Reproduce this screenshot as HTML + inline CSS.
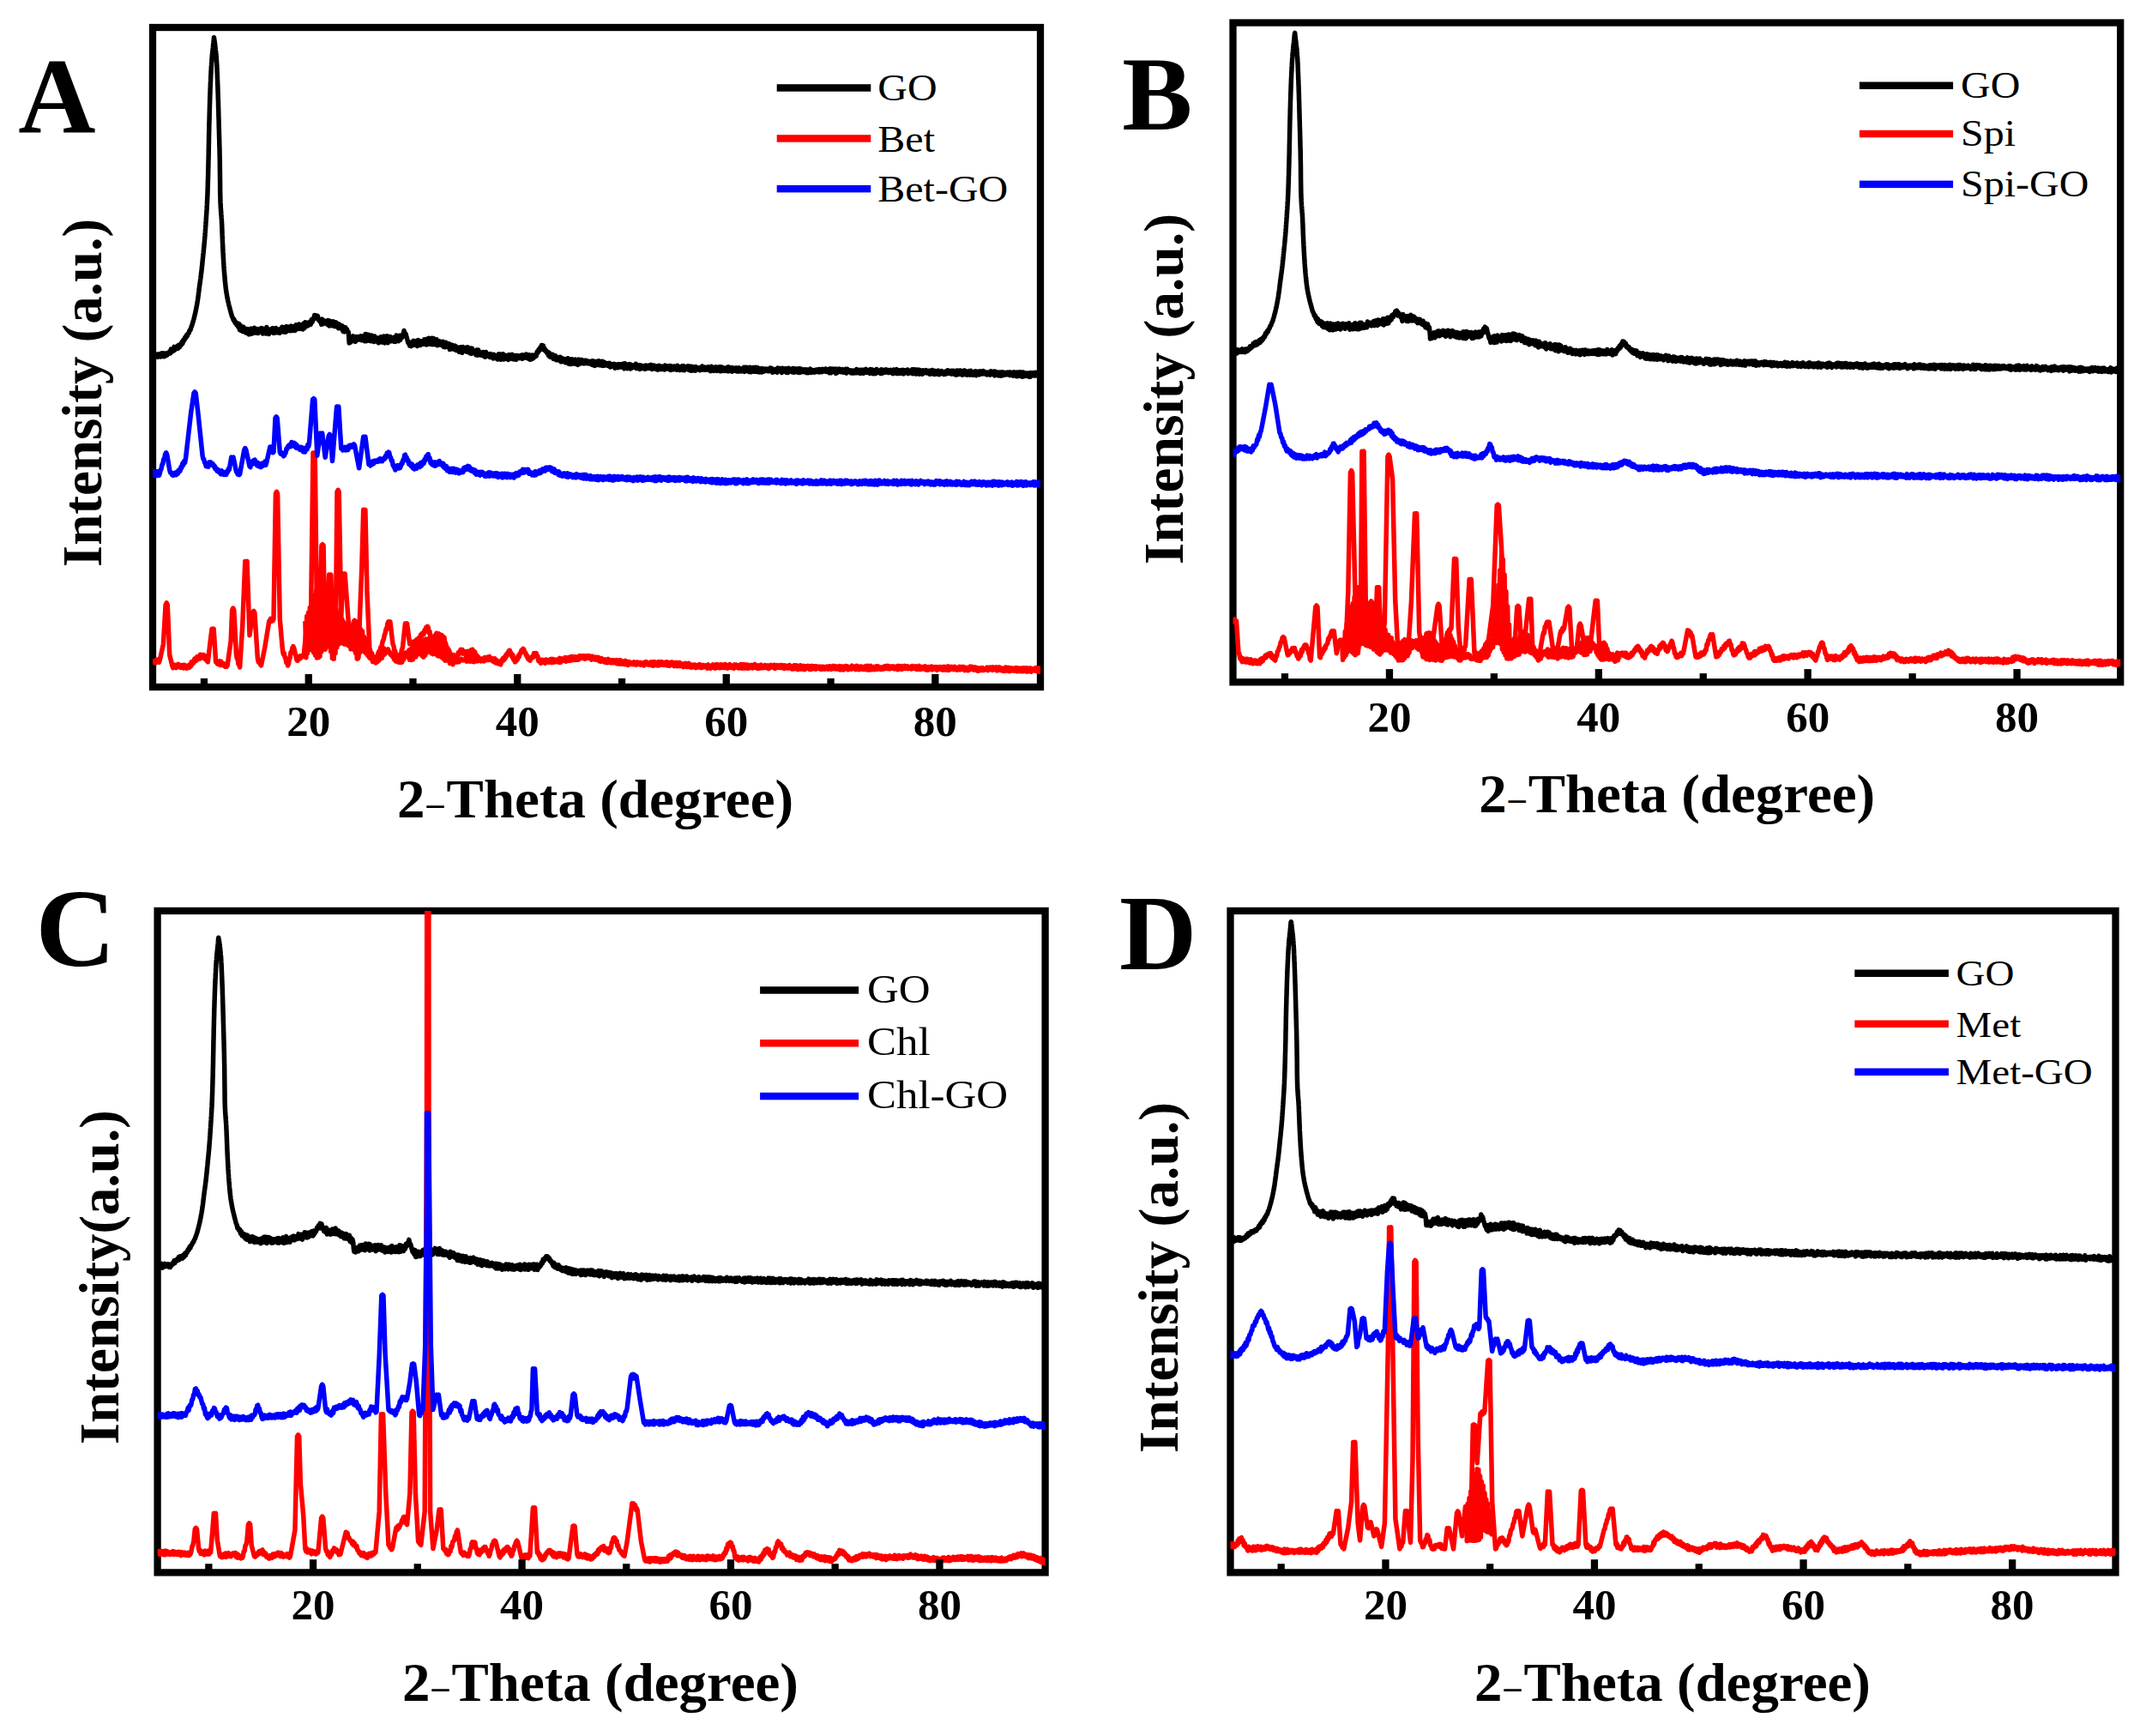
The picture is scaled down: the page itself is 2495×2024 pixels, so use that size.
<!DOCTYPE html>
<html><head><meta charset="utf-8"><title>XRD patterns</title>
<style>html,body{margin:0;padding:0;background:#fff;width:2495px;height:2024px;overflow:hidden}</style>
</head><body>
<svg width="2495" height="2024" viewBox="0 0 2495 2024" style="display:block;font-family:&quot;Liberation Serif&quot;,&quot;Times New Roman&quot;,serif"><clipPath id="clipA"><rect x="178.0" y="32.0" width="1035.0" height="769.0"/></clipPath><rect x="178.0" y="32.0" width="1035.0" height="769.0" fill="none" stroke="#000" stroke-width="8.3"/><g clip-path="url(#clipA)" fill="none" stroke-width="5.5" stroke-linejoin="round" stroke-linecap="butt"><path stroke="#000" d="M176.0 414.1L176.9 415.9L177.8 412.9L178.7 416.3L179.6 413.7L180.5 415.9L181.4 413.0L182.3 415.7L183.2 413.9L184.1 416.2L185.0 412.8L185.9 415.6L186.8 412.8L187.7 415.9L188.6 411.8L189.5 415.2L190.4 411.7L191.3 415.8L192.2 412.7L193.1 414.9L194.0 411.9L194.9 414.0L195.8 411.5L196.7 412.1L197.6 409.9L198.5 411.9L199.4 407.1L200.3 410.0L201.2 407.1L202.1 409.2L203.0 404.4L203.9 408.0L204.8 404.8L205.7 405.9L206.6 403.5L207.5 406.4L208.4 402.2L209.3 404.8L210.2 401.5L211.1 402.5L212.0 398.9L212.9 400.5L213.8 396.4L214.7 397.0L215.6 393.6L216.5 394.2L217.4 390.9L218.3 391.8L219.2 388.8L220.1 388.6L221.0 385.3L221.9 385.1L222.8 381.8L223.7 379.6L224.6 376.7L225.0 375.4L225.3 374.2L225.7 373.0L226.0 371.8L226.3 370.6L226.6 369.4L226.9 368.1L227.2 366.9L227.5 365.7L227.8 364.5L228.0 363.2L228.3 362.0L228.5 360.8L228.8 359.6L229.0 358.4L229.2 357.2L229.5 355.9L229.7 354.7L229.9 353.5L230.1 352.3L230.3 351.1L230.5 349.8L230.7 348.6L230.8 347.4L231.0 346.2L231.2 344.9L231.3 343.7L231.5 342.5L231.6 341.3L231.8 340.1L231.9 338.9L232.1 337.7L232.2 336.5L232.4 335.3L232.5 334.1L232.7 333.0L232.9 331.8L233.0 330.6L233.2 329.4L233.4 328.2L233.5 327.0L233.7 325.8L233.9 324.6L234.0 323.4L234.2 322.2L234.3 320.9L234.5 319.7L234.6 318.5L234.8 317.3L234.9 316.0L235.1 314.7L235.2 313.4L235.4 312.0L235.5 310.5L235.7 309.1L235.8 307.6L236.0 306.1L236.1 304.6L236.3 303.1L236.4 301.6L236.6 300.1L236.7 298.7L236.9 297.2L237.0 295.7L237.2 294.3L237.3 292.8L237.5 291.4L237.6 289.9L237.8 288.4L237.9 286.8L238.1 285.2L238.2 283.6L238.4 281.9L238.5 280.1L238.7 278.3L238.8 276.4L239.0 274.4L239.1 272.4L239.3 270.4L239.4 268.3L239.6 266.2L239.7 264.1L239.9 261.9L240.0 259.6L240.2 257.4L240.3 255.2L240.5 253.0L240.6 250.8L240.8 248.5L240.9 246.1L241.1 243.7L241.2 241.1L241.4 238.4L241.5 235.5L241.7 232.3L241.8 228.9L242.0 225.1L242.1 220.8L242.3 216.2L242.4 211.1L242.6 205.7L242.7 200.1L242.9 194.2L243.0 188.1L243.2 181.0L243.3 173.0L243.5 164.9L243.6 157.1L243.8 150.2L243.9 144.2L244.1 138.3L244.2 132.7L244.4 127.2L244.5 122.0L244.7 117.1L244.8 112.4L245.0 108.0L245.1 103.9L245.3 100.1L245.4 96.6L245.6 93.2L245.7 89.9L245.9 86.8L246.0 83.8L246.2 81.0L246.3 78.4L246.5 75.9L246.6 73.6L246.8 71.4L246.9 69.4L247.1 67.6L247.2 65.8L247.4 64.2L247.5 62.7L247.7 61.2L247.8 59.8L248.0 58.5L248.1 57.1L248.3 55.8L248.4 54.4L248.6 53.0L248.7 51.5L248.9 49.7L249.0 47.9L249.2 46.3L249.3 45.0L249.5 43.7L250.4 50.2L250.6 51.6L250.7 52.9L250.9 54.2L251.0 55.4L251.2 56.6L251.3 57.8L251.5 59.1L251.6 60.4L251.8 61.9L251.9 63.4L252.1 65.0L252.2 66.8L252.4 68.8L252.5 71.1L252.7 73.7L252.8 76.5L253.0 79.6L253.1 82.9L253.3 86.4L253.4 90.1L253.6 93.8L253.7 97.7L253.9 101.6L254.0 105.8L254.2 110.3L254.3 115.0L254.5 119.9L254.6 125.1L254.8 130.4L254.9 135.7L255.1 141.2L255.2 146.7L255.4 152.2L255.5 157.4L255.7 162.6L255.8 168.0L256.0 173.8L256.1 180.4L256.3 187.8L256.4 198.0L256.6 212.4L256.7 225.4L256.9 231.8L257.0 235.9L257.2 239.2L257.3 242.0L257.5 244.3L257.6 246.4L257.8 248.2L257.9 250.0L258.1 251.8L258.2 253.9L258.4 256.2L258.5 259.0L258.7 262.2L258.8 265.8L259.0 269.6L259.1 273.4L259.3 277.3L259.4 281.1L259.6 284.6L259.7 287.8L259.9 290.8L260.0 293.7L260.2 296.5L260.3 299.3L260.5 302.0L260.6 304.6L260.8 307.1L260.9 309.4L261.1 311.7L261.2 313.9L261.4 315.9L261.5 317.8L261.7 319.6L261.8 321.4L262.0 323.2L262.1 324.9L262.3 326.6L262.4 328.2L262.6 329.7L262.7 331.2L262.9 332.6L263.0 334.0L263.2 335.3L263.3 336.5L263.5 337.7L263.6 338.8L263.8 340.0L264.0 341.2L264.2 342.4L264.4 343.5L264.6 344.7L264.8 345.9L265.0 347.0L265.2 348.2L265.5 349.4L265.7 350.6L266.0 351.7L266.3 352.9L266.6 354.1L266.8 355.3L267.1 356.5L267.4 357.7L267.8 358.9L268.1 360.1L268.4 361.3L268.7 362.5L269.0 363.6L269.3 364.8L269.7 366.0L270.0 367.2L270.4 368.9L271.3 370.2L272.2 373.3L273.1 372.7L274.0 376.4L274.9 375.7L275.8 378.7L276.7 376.8L277.6 380.8L278.5 377.4L279.4 384.6L280.3 379.2L281.2 385.5L282.1 381.4L283.0 386.4L283.9 381.2L284.8 386.8L285.7 383.9L286.6 388.0L287.5 383.6L288.4 388.4L289.3 383.6L290.2 389.9L291.1 384.6L292.0 389.5L292.9 383.1L293.8 389.1L294.7 385.3L295.6 387.9L296.5 382.3L297.4 388.1L298.3 385.0L299.2 388.1L300.1 383.6L301.0 388.5L301.9 385.0L302.8 386.5L303.7 383.1L304.6 387.0L305.5 382.6L306.4 389.1L307.3 384.3L308.2 388.1L309.1 383.3L310.0 389.1L310.9 381.5L311.8 387.9L312.7 384.0L313.6 389.5L314.5 384.8L315.4 387.7L316.3 383.6L317.2 387.2L318.1 382.6L319.0 388.4L319.9 384.1L320.8 388.0L321.7 382.5L322.6 387.6L323.5 384.6L324.4 387.9L325.3 384.0L326.2 388.3L327.1 383.8L328.0 386.4L328.9 381.2L329.8 386.8L330.7 382.9L331.6 387.1L332.5 381.3L333.4 387.2L334.3 380.6L335.2 385.5L336.1 381.5L337.0 385.5L337.9 380.8L338.8 385.8L339.7 380.1L340.6 383.8L341.5 380.6L342.4 385.5L343.3 381.3L344.2 385.3L345.1 378.8L346.0 383.8L346.9 379.3L347.8 383.1L348.7 378.0L349.6 383.4L350.5 379.2L351.4 381.6L352.3 378.6L353.2 384.0L354.1 377.1L355.0 382.6L355.9 375.8L356.8 380.1L357.7 376.3L358.6 380.0L359.5 376.3L360.4 378.9L361.3 375.5L362.2 378.4L363.1 372.7L364.0 375.7L364.9 371.5L365.8 372.4L366.7 367.5L367.6 370.5L368.5 367.9L369.4 370.7L370.3 368.3L371.2 372.9L372.1 371.9L373.0 375.1L373.9 374.4L374.8 378.3L375.7 372.1L376.6 377.7L377.5 373.7L378.4 376.7L379.3 374.5L380.2 377.1L381.1 374.1L382.0 378.5L382.9 373.6L383.8 379.9L384.7 374.2L385.6 379.7L386.5 375.3L387.4 379.1L388.3 374.7L389.2 380.2L390.1 376.0L391.0 380.6L391.9 375.9L392.8 380.5L393.7 377.6L394.6 382.8L395.5 377.9L396.4 382.6L397.3 380.0L398.2 383.2L399.1 379.9L400.0 386.5L400.9 381.5L401.8 386.9L402.7 381.7L403.6 385.6L404.5 384.0L405.4 387.4L406.3 387.2L407.2 400.1L408.1 395.2L409.0 399.0L409.9 395.2L410.8 397.0L411.7 391.9L412.6 396.4L413.5 393.7L414.4 398.4L415.3 392.6L416.2 395.6L417.1 392.7L418.0 396.1L418.9 392.5L419.8 395.0L420.7 391.8L421.6 396.8L422.5 392.1L423.4 396.3L424.3 391.9L425.2 397.8L426.1 389.6L427.0 397.8L427.9 390.1L428.8 396.7L429.7 390.3L430.6 397.3L431.5 393.1L432.4 397.8L433.3 391.1L434.2 395.7L435.1 393.5L436.0 398.5L436.9 391.9L437.8 398.0L438.7 394.2L439.6 397.3L440.5 394.0L441.4 399.9L442.3 394.2L443.2 397.9L444.1 392.7L445.0 399.0L445.9 393.1L446.8 399.0L447.7 392.1L448.6 399.9L449.5 394.6L450.4 396.8L451.3 391.8L452.2 399.7L453.1 393.6L454.0 397.9L454.9 392.5L455.8 397.9L456.7 394.3L457.6 397.2L458.5 393.5L459.4 398.1L460.3 393.8L461.2 398.4L462.1 391.0L463.0 397.1L463.9 392.1L464.8 397.7L465.7 391.2L466.6 396.4L467.5 391.5L468.4 393.9L469.3 390.1L470.2 392.2L471.1 385.4L472.0 391.5L472.9 388.9L473.8 392.1L474.2 393.4L474.5 394.6L474.8 395.8L475.1 396.9L475.5 398.1L475.8 399.9L476.7 400.0L477.6 403.1L478.5 399.3L479.4 403.6L480.3 399.1L481.2 401.9L482.1 397.2L483.0 402.2L483.9 397.8L484.8 401.3L485.7 397.6L486.6 403.6L487.5 396.6L488.4 401.8L489.3 398.5L490.2 402.5L491.1 397.7L492.0 401.2L492.9 397.8L493.8 401.3L494.7 395.9L495.6 401.1L496.5 395.8L497.4 402.0L498.3 395.1L499.2 401.3L500.1 394.3L501.0 401.0L501.9 395.7L502.8 401.5L503.7 394.2L504.6 401.7L505.5 394.6L506.4 399.9L507.3 396.5L508.2 402.0L509.1 395.8L510.0 402.7L510.9 397.8L511.8 401.4L512.7 397.8L513.6 402.2L514.5 399.4L515.4 402.7L516.3 398.3L517.2 404.4L518.1 400.2L519.0 404.7L519.9 399.2L520.8 403.9L521.7 402.2L522.6 404.6L523.5 400.8L524.4 407.6L525.3 402.3L526.2 406.3L527.1 402.1L528.0 406.9L528.9 404.5L529.8 407.2L530.7 403.1L531.6 408.4L532.5 404.4L533.4 408.6L534.3 405.4L535.2 410.2L536.1 405.0L537.0 410.3L537.9 404.8L538.8 411.3L539.7 404.4L540.6 409.2L541.5 405.9L542.4 409.2L543.3 405.2L544.2 410.2L545.1 404.8L546.0 410.5L546.9 406.7L547.8 411.8L548.7 406.0L549.6 412.4L550.5 406.2L551.4 411.9L552.3 409.1L553.2 411.8L554.1 409.6L555.0 413.8L555.9 407.9L556.8 414.3L557.7 407.9L558.6 412.7L559.5 410.7L560.4 414.2L561.3 411.5L562.2 413.8L563.1 410.5L564.0 415.1L564.9 410.9L565.8 416.3L566.7 410.5L567.6 415.2L568.5 412.6L569.4 415.0L570.3 413.6L571.2 416.5L572.1 412.6L573.0 416.3L573.9 414.4L574.8 417.9L575.7 413.2L576.6 417.7L577.5 414.8L578.4 417.1L579.3 414.6L580.2 419.0L581.1 412.9L582.0 416.9L582.9 412.9L583.8 419.3L584.7 413.3L585.6 417.4L586.5 412.8L587.4 419.0L588.3 415.0L589.2 416.9L590.1 414.4L591.0 418.4L591.9 415.4L592.8 419.4L593.7 413.6L594.6 418.2L595.5 414.1L596.4 417.1L597.3 413.4L598.2 418.8L599.1 415.4L600.0 419.0L600.9 414.5L601.8 419.3L602.7 414.5L603.6 417.4L604.5 414.9L605.4 417.7L606.3 415.2L607.2 417.2L608.1 414.1L609.0 418.3L609.9 413.9L610.8 417.1L611.7 415.4L612.6 417.2L613.5 413.0L614.4 417.2L615.3 413.6L616.2 418.3L617.1 413.8L618.0 419.3L618.9 414.7L619.8 418.7L620.7 414.0L621.6 417.8L622.5 414.4L623.4 416.3L624.3 413.8L625.2 415.0L626.1 410.4L627.0 411.3L627.9 407.7L628.8 408.8L629.7 405.4L630.6 407.2L631.5 402.5L632.4 406.4L633.3 402.8L634.2 407.9L635.1 406.4L636.0 409.5L636.9 409.0L637.8 411.6L638.7 410.3L639.6 414.8L640.5 411.5L641.4 416.2L642.3 413.3L643.2 416.5L644.1 413.2L645.0 418.3L645.9 414.4L646.8 418.8L647.7 414.8L648.6 419.7L649.5 416.7L650.4 419.8L651.3 417.2L652.2 420.2L653.1 416.3L654.0 421.8L654.9 417.5L655.8 421.6L656.7 418.2L657.6 421.2L658.5 418.6L659.4 422.8L660.3 419.2L661.2 422.9L662.1 417.8L663.0 424.2L663.9 420.4L664.8 424.5L665.7 418.7L666.6 424.4L667.5 418.9L668.4 423.0L669.3 420.8L670.2 424.3L671.1 419.1L672.0 423.0L672.9 421.4L673.8 425.4L674.7 419.1L675.6 423.7L676.5 419.5L677.4 423.9L678.3 419.5L679.2 423.2L680.1 420.3L681.0 423.9L681.9 420.3L682.8 423.5L683.7 420.4L684.6 423.8L685.5 421.0L686.4 423.8L687.3 421.3L688.2 424.1L689.1 421.6L690.0 425.1L690.9 420.8L691.8 425.7L692.7 421.3L693.6 426.4L694.5 421.8L695.4 424.7L696.3 421.2L697.2 425.4L698.1 420.8L699.0 425.7L699.9 423.4L700.8 425.8L701.7 421.2L702.6 426.4L703.5 421.8L704.4 426.3L705.3 422.6L706.2 425.8L707.1 423.9L708.0 426.1L708.9 423.6L709.8 426.9L710.7 423.4L711.6 428.0L712.5 424.4L713.4 427.2L714.3 425.2L715.2 427.0L716.1 424.4L717.0 429.2L717.9 425.0L718.8 428.0L719.7 425.6L720.6 428.6L721.5 424.6L722.4 428.0L723.3 424.8L724.2 428.0L725.1 424.8L726.0 427.8L726.9 424.1L727.8 429.9L728.7 423.7L729.6 428.5L730.5 426.2L731.4 429.7L732.3 425.1L733.2 429.2L734.1 424.6L735.0 430.0L735.9 425.1L736.8 429.0L737.7 426.2L738.6 428.1L739.5 426.2L740.4 428.5L741.3 424.2L742.2 429.6L743.1 426.7L744.0 429.1L744.9 425.8L745.8 430.5L746.7 425.9L747.6 429.8L748.5 426.3L749.4 429.3L750.3 427.0L751.2 430.1L752.1 426.2L753.0 430.1L753.9 426.1L754.8 428.7L755.7 426.8L756.6 429.3L757.5 425.8L758.4 429.4L759.3 425.4L760.2 430.5L761.1 426.1L762.0 429.9L762.9 426.1L763.8 429.6L764.7 427.5L765.6 430.8L766.5 426.8L767.4 431.1L768.3 426.2L769.2 430.3L770.1 427.0L771.0 430.6L771.9 427.4L772.8 429.9L773.7 427.3L774.6 431.0L775.5 426.0L776.4 429.4L777.3 428.1L778.2 430.0L779.1 426.7L780.0 430.3L780.9 426.5L781.8 431.5L782.7 426.8L783.6 430.9L784.5 428.0L785.4 430.8L786.3 427.0L787.2 429.9L788.1 428.4L789.0 431.1L789.9 426.3L790.8 431.0L791.7 428.1L792.6 431.6L793.5 427.8L794.4 430.4L795.3 426.8L796.2 431.5L797.1 426.6L798.0 431.7L798.9 428.7L799.8 430.3L800.7 427.4L801.6 430.4L802.5 426.9L803.4 431.5L804.3 427.1L805.2 432.1L806.1 427.3L807.0 432.1L807.9 427.9L808.8 430.3L809.7 427.8L810.6 432.2L811.5 427.6L812.4 430.8L813.3 428.8L814.2 430.5L815.1 428.8L816.0 431.8L816.9 428.4L817.8 431.2L818.7 427.0L819.6 431.0L820.5 427.8L821.4 431.1L822.3 428.4L823.2 431.3L824.1 428.3L825.0 430.7L825.9 427.9L826.8 431.7L827.7 429.2L828.6 432.7L829.5 427.3L830.4 431.2L831.3 428.7L832.2 432.4L833.1 428.4L834.0 431.9L834.9 427.9L835.8 432.4L836.7 429.0L837.6 431.8L838.5 427.9L839.4 432.8L840.3 427.8L841.2 432.6L842.1 428.3L843.0 430.9L843.9 429.0L844.8 432.5L845.7 429.3L846.6 431.1L847.5 428.6L848.4 432.7L849.3 427.7L850.2 432.7L851.1 429.0L852.0 431.2L852.9 428.5L853.8 433.1L854.7 428.9L855.6 432.4L856.5 429.9L857.4 431.9L858.3 428.8L859.2 433.0L860.1 429.4L861.0 433.1L861.9 428.9L862.8 432.6L863.7 429.8L864.6 432.9L865.5 430.0L866.4 432.3L867.3 428.3L868.2 433.4L869.1 428.2L870.0 431.9L870.9 428.4L871.8 432.6L872.7 430.1L873.6 433.6L874.5 428.3L875.4 433.8L876.3 429.7L877.2 432.1L878.1 428.5L879.0 433.3L879.9 428.5L880.8 433.3L881.7 428.4L882.6 433.4L883.5 428.8L884.4 433.8L885.3 429.7L886.2 433.9L887.1 429.8L888.0 434.0L888.9 429.5L889.8 433.3L890.7 430.8L891.6 432.7L892.5 430.2L893.4 432.0L894.3 430.2L895.2 432.6L896.1 430.6L897.0 432.6L897.9 429.0L898.8 432.5L899.7 429.4L900.6 434.3L901.5 431.0L902.4 433.7L903.3 430.7L904.2 432.6L905.1 430.4L906.0 434.2L906.9 429.1L907.8 432.4L908.7 429.3L909.6 432.4L910.5 430.3L911.4 434.5L912.3 429.2L913.2 432.5L914.1 429.9L915.0 433.3L915.9 429.7L916.8 434.3L917.7 430.0L918.6 434.5L919.5 429.3L920.4 432.8L921.3 431.2L922.2 432.9L923.1 430.2L924.0 434.0L924.9 429.5L925.8 434.1L926.7 429.9L927.6 433.9L928.5 430.0L929.4 433.5L930.3 430.0L931.2 434.5L932.1 429.6L933.0 434.2L933.9 430.0L934.8 432.8L935.7 430.8L936.6 433.7L937.5 430.9L938.4 433.1L939.3 430.8L940.2 434.6L941.1 431.0L942.0 434.8L942.9 431.6L943.8 433.7L944.7 430.1L945.6 434.5L946.5 431.7L947.4 433.1L948.3 431.6L949.2 434.1L950.1 431.5L951.0 433.7L951.9 431.1L952.8 433.1L953.7 430.9L954.6 433.9L955.5 430.5L956.4 433.7L957.3 431.7L958.2 433.7L959.1 430.3L960.0 433.0L960.9 430.7L961.8 433.0L962.7 430.0L963.6 433.5L964.5 430.7L965.4 433.2L966.3 430.7L967.2 434.8L968.1 429.9L969.0 434.8L969.9 430.0L970.8 433.1L971.7 430.2L972.6 433.2L973.5 430.1L974.4 435.4L975.3 430.4L976.2 434.5L977.1 430.4L978.0 433.4L978.9 430.1L979.8 433.4L980.7 431.5L981.6 433.8L982.5 430.6L983.4 434.1L984.3 431.2L985.2 434.4L986.1 430.4L987.0 435.1L987.9 430.2L988.8 433.9L989.7 432.0L990.6 433.5L991.5 431.9L992.4 435.0L993.3 432.0L994.2 435.0L995.1 432.2L996.0 434.9L996.9 431.7L997.8 434.8L998.7 430.5L999.6 434.8L1000.5 432.1L1001.4 433.4L1002.3 431.4L1003.2 435.4L1004.1 431.2L1005.0 434.0L1005.9 431.2L1006.8 435.3L1007.7 431.9L1008.6 433.7L1009.5 430.3L1010.4 434.4L1011.3 431.4L1012.2 434.2L1013.1 431.8L1014.0 435.4L1014.9 430.6L1015.8 434.1L1016.7 430.8L1017.6 435.6L1018.5 431.5L1019.4 435.7L1020.3 432.2L1021.2 435.4L1022.1 430.5L1023.0 434.1L1023.9 431.8L1024.8 434.2L1025.7 432.2L1026.6 435.4L1027.5 430.9L1028.4 435.4L1029.3 431.1L1030.2 434.2L1031.1 432.3L1032.0 434.2L1032.9 430.8L1033.8 433.7L1034.7 431.4L1035.6 434.4L1036.5 431.9L1037.4 434.5L1038.3 431.3L1039.2 434.1L1040.1 432.3L1041.0 435.7L1041.9 431.0L1042.8 434.6L1043.7 432.1L1044.6 435.1L1045.5 430.6L1046.4 435.6L1047.3 431.7L1048.2 435.3L1049.1 431.9L1050.0 435.4L1050.9 431.6L1051.8 433.9L1052.7 431.3L1053.6 435.9L1054.5 431.7L1055.4 434.3L1056.3 432.2L1057.2 434.4L1058.1 431.0L1059.0 435.6L1059.9 432.2L1060.8 434.7L1061.7 432.6L1062.6 435.0L1063.5 430.8L1064.4 435.7L1065.3 430.9L1066.2 434.2L1067.1 430.9L1068.0 436.1L1068.9 431.2L1069.8 434.4L1070.7 431.1L1071.6 436.3L1072.5 431.4L1073.4 435.3L1074.3 432.3L1075.2 436.2L1076.1 431.8L1077.0 435.0L1077.9 433.0L1078.8 434.3L1079.7 431.6L1080.6 435.0L1081.5 432.9L1082.4 435.0L1083.3 432.2L1084.2 436.3L1085.1 432.2L1086.0 434.7L1086.9 431.5L1087.8 435.9L1088.7 432.1L1089.6 436.5L1090.5 432.5L1091.4 435.4L1092.3 433.3L1093.2 436.1L1094.1 432.1L1095.0 436.7L1095.9 433.5L1096.8 435.5L1097.7 432.5L1098.6 435.6L1099.5 433.5L1100.4 436.5L1101.3 433.5L1102.2 436.2L1103.1 432.9L1104.0 435.7L1104.9 431.8L1105.8 435.3L1106.7 432.6L1107.6 435.4L1108.5 432.4L1109.4 436.1L1110.3 432.3L1111.2 435.1L1112.1 432.4L1113.0 436.4L1113.9 433.7L1114.8 437.2L1115.7 432.0L1116.6 436.8L1117.5 432.2L1118.4 436.2L1119.3 432.0L1120.2 435.5L1121.1 432.4L1122.0 437.3L1122.9 433.9L1123.8 436.6L1124.7 431.9L1125.6 435.6L1126.5 432.9L1127.4 437.3L1128.3 433.6L1129.2 435.8L1130.1 432.6L1131.0 437.1L1131.9 432.2L1132.8 436.9L1133.7 434.2L1134.6 437.3L1135.5 433.7L1136.4 436.8L1137.3 432.8L1138.2 437.7L1139.1 433.2L1140.0 435.9L1140.9 433.4L1141.8 436.9L1142.7 432.9L1143.6 436.1L1144.5 433.4L1145.4 435.9L1146.3 432.5L1147.2 435.8L1148.1 433.5L1149.0 436.2L1149.9 434.1L1150.8 436.8L1151.7 434.2L1152.6 436.5L1153.5 434.2L1154.4 437.1L1155.3 432.8L1156.2 436.5L1157.1 434.6L1158.0 436.2L1158.9 433.0L1159.8 437.9L1160.7 433.2L1161.6 436.5L1162.5 434.1L1163.4 437.7L1164.3 434.0L1165.2 437.9L1166.1 434.8L1167.0 438.3L1167.9 433.9L1168.8 437.7L1169.7 434.0L1170.6 437.4L1171.5 435.3L1172.4 436.9L1173.3 434.3L1174.2 436.7L1175.1 434.1L1176.0 437.0L1176.9 434.0L1177.8 437.6L1178.7 434.1L1179.6 437.3L1180.5 435.3L1181.4 438.2L1182.3 433.8L1183.2 437.3L1184.1 435.7L1185.0 438.8L1185.9 434.1L1186.8 438.6L1187.7 434.1L1188.6 437.9L1189.5 433.8L1190.4 438.8L1191.3 434.3L1192.2 439.2L1193.1 434.0L1194.0 438.4L1194.9 435.9L1195.8 438.5L1196.7 435.0L1197.6 437.3L1198.5 435.5L1199.4 439.1L1200.3 434.9L1201.2 439.4L1202.1 434.6L1203.0 437.8L1203.9 434.8L1204.8 437.6L1205.7 434.5L1206.6 438.2L1207.5 434.3L1208.4 437.7L1209.3 434.9L1210.2 437.9L1211.1 434.7L1212.0 439.5L1212.9 435.5L1213.8 439.0L1214.7 436.2L1215.6 438.7L1216.0 437.3"/><path stroke="#f00" d="M178.0 771.8L178.9 770.8L179.8 772.6L180.8 770.3L181.7 772.6L182.6 769.1L183.5 771.6L184.5 769.0L185.4 772.3L186.3 769.7L190.4 751.0L193.1 705.2L194.2 702.8L195.3 705.2L197.7 763.5L200.8 776.0L201.7 778.6L202.6 775.0L203.5 776.9L204.4 775.6L205.3 778.7L206.1 775.4L207.0 777.5L207.9 774.4L208.8 777.8L209.7 775.3L210.6 778.4L211.5 776.4L212.4 778.5L213.3 775.3L214.2 779.0L215.0 775.3L215.9 778.2L216.8 777.0L217.7 779.2L218.6 776.1L219.5 778.0L220.4 778.3L221.3 774.9L222.3 777.0L223.2 771.7L224.1 774.6L225.0 771.0L226.0 772.7L226.9 768.0L227.8 768.7L228.7 770.1L229.7 765.7L230.6 768.8L231.5 765.4L232.4 768.3L233.4 763.2L234.3 767.5L235.2 763.4L236.2 764.9L237.1 763.5L238.0 764.0L238.8 768.1L239.7 765.2L240.6 770.0L241.4 769.0L242.3 771.8L247.0 733.2L248.1 734.8L249.2 733.2L251.6 771.8L252.5 770.7L253.4 774.0L254.3 771.4L255.2 774.6L256.1 770.7L257.0 775.5L257.9 771.3L258.8 775.4L259.7 773.5L260.6 775.5L261.5 773.9L262.4 777.2L263.3 774.5L264.2 777.3L265.1 776.0L269.2 746.9L270.6 711.4L271.7 709.0L272.8 711.4L275.5 763.5L276.3 767.7L277.1 768.3L278.0 774.5L278.8 772.6L279.6 778.0L282.7 730.3L285.8 654.4L286.9 655.0L288.0 654.4L291.0 740.7L294.7 714.5L295.8 712.4L296.9 714.5L300.4 767.7L301.2 771.8L302.0 769.9L302.9 773.9L303.7 773.5L304.5 776.0L308.7 755.2L313.8 724.1L314.7 724.7L315.5 721.4L316.4 724.4L317.3 721.6L318.1 723.6L319.0 722.0L321.4 575.6L322.5 573.3L323.6 575.6L326.3 722.0L329.4 757.3L330.3 762.5L331.2 761.5L332.1 766.3L332.9 766.9L333.8 772.7L334.7 771.0L335.6 776.0L336.5 773.6L337.3 768.6L338.1 767.2L339.0 760.5L339.9 761.5L340.7 756.0L341.8 753.6L342.9 756.0L346.0 769.7L346.9 770.4L347.8 767.7L348.8 768.2L349.7 764.8L350.6 767.5L351.5 764.7L352.5 765.9L353.4 763.5L354.3 763.5L358.4 720.0L359.2 721.1L360.1 716.1L360.9 717.7L361.8 714.1L362.6 713.7L365.0 527.9L366.1 529.4L367.2 527.9L369.8 751.0L371.9 763.5L374.9 635.7L376.0 634.7L377.1 635.7L379.2 757.3L381.2 742.8L383.7 670.0L384.8 672.4L385.9 670.0L388.5 767.7L391.6 709.6L393.0 573.5L394.1 571.3L395.2 573.5L397.8 720.0L399.9 668.9L401.0 670.8L402.1 668.9L405.1 709.6L408.2 751.0L412.3 724.9L413.4 723.3L414.5 724.9L417.5 767.7L421.7 664.0L423.7 594.3L424.8 596.3L425.9 594.3L427.9 688.9L431.0 759.4L431.9 760.3L432.8 763.7L433.7 761.8L434.6 767.7L435.6 766.0L436.5 770.0L437.4 769.5L438.3 771.8L439.2 769.7L440.1 764.2L441.0 764.9L441.9 759.3L442.8 759.7L443.7 754.8L444.6 755.2L445.5 751.0L446.4 746.9L447.3 745.5L448.2 740.4L449.1 738.5L450.0 733.5L450.9 733.6L451.8 727.2L452.7 724.9L453.8 726.3L454.9 724.9L458.0 751.0L458.9 752.7L459.8 758.5L460.7 759.0L461.5 763.5L462.4 764.7L463.3 771.3L464.2 771.8L465.1 767.4L465.9 767.7L466.8 762.4L467.7 762.7L468.5 757.2L469.4 755.2L472.4 727.0L473.5 728.7L474.6 727.0L477.7 751.0L478.6 749.1L479.6 750.8L480.5 748.3L481.4 750.5L482.4 748.4L483.3 749.9L484.2 747.2L485.1 748.4L486.1 745.4L487.0 746.9L487.9 747.3L488.8 743.2L489.7 745.3L490.5 739.9L491.4 742.2L492.3 738.2L493.2 738.6L494.1 739.5L494.9 734.8L495.8 735.9L496.7 731.6L497.5 732.9L498.4 730.3L499.3 731.4L500.1 737.9L501.0 736.4L501.9 742.7L502.7 743.1L503.6 746.9L504.5 747.7L505.4 742.6L506.3 744.4L507.1 740.8L508.0 742.0L508.9 738.2L509.8 738.6L510.7 740.0L511.6 739.0L512.5 741.2L513.5 740.0L514.4 742.3L515.3 740.6L516.2 743.4L517.1 742.8L518.0 743.2L518.8 750.4L519.7 750.1L520.6 756.2L521.4 755.2L522.3 759.4L523.2 761.1L524.1 760.3L525.0 763.5L525.9 762.9L526.9 767.5L527.8 764.7L528.7 769.9L529.6 767.2L530.5 769.7L531.5 769.2L532.4 765.3L533.4 765.5L534.3 760.8L535.2 762.8L536.2 759.4L537.1 757.3L538.0 761.1L539.0 757.5L539.9 762.1L540.8 759.3L541.7 761.9L542.7 759.5L543.6 761.5L544.5 760.4L545.4 759.5L546.3 761.9L547.2 759.3L548.1 760.6L549.1 757.8L550.0 761.5L550.9 757.3L551.8 759.4L552.7 763.0L553.6 760.0L554.5 765.4L555.4 763.5L556.3 767.3L557.2 765.5L558.1 769.7L559.0 769.7L559.9 768.1L560.8 770.9L561.7 767.8L562.6 769.7L563.5 768.2L564.4 770.9L565.3 766.5L566.2 769.5L567.1 767.8L568.0 769.3L568.9 766.0L569.8 769.5L570.7 765.5L571.6 769.3L572.5 767.7L573.4 767.5L574.2 770.8L575.1 768.5L576.0 771.7L576.8 767.8L577.7 772.8L578.6 769.2L579.4 773.2L580.3 771.7L581.2 773.8L582.0 771.2L582.9 773.9L583.8 774.8L584.7 769.9L585.5 771.2L586.4 767.6L587.3 770.0L588.2 766.0L589.0 767.8L589.9 763.6L590.8 765.0L591.7 761.4L592.5 762.9L593.4 758.4L594.3 758.3L595.2 761.8L596.1 761.6L597.0 765.9L597.8 763.5L598.7 769.0L599.6 767.7L600.5 771.8L601.4 771.1L602.4 768.1L603.3 769.0L604.2 764.6L605.1 766.0L606.1 761.9L607.0 761.7L607.9 758.3L608.9 759.4L609.8 756.3L610.7 757.0L611.6 760.4L612.5 760.6L613.5 764.2L614.4 764.1L615.3 767.9L616.2 767.5L617.1 769.7L618.0 770.2L618.9 766.5L619.8 767.2L620.8 765.0L621.7 766.2L622.6 761.6L623.5 763.3L624.4 761.4L625.2 761.5L626.1 765.5L627.0 765.2L627.8 770.5L628.6 769.2L629.5 771.8L630.4 773.2L631.3 769.3L632.2 772.6L633.1 769.4L633.9 772.1L634.8 770.3L635.7 773.3L636.6 769.0L637.5 772.2L638.4 769.7L639.3 772.1L640.2 770.0L641.1 772.0L642.0 768.6L642.8 772.3L643.7 768.4L644.6 772.2L645.5 768.6L646.4 772.0L647.3 769.4L648.2 771.7L649.1 769.0L650.0 771.0L650.8 768.9L651.7 772.3L652.6 767.4L653.5 772.2L654.4 769.7L655.3 768.0L656.2 770.5L657.1 768.1L658.0 770.3L658.9 766.6L659.9 771.2L660.8 766.7L661.7 770.2L662.6 767.1L663.5 770.4L664.4 766.0L665.3 770.1L666.2 765.6L667.1 769.6L668.0 765.6L669.0 769.4L669.9 765.9L670.8 769.5L671.7 765.9L672.6 769.3L673.5 766.0L674.4 769.3L675.3 764.8L676.2 767.5L677.1 764.6L678.0 767.4L679.0 765.5L679.9 766.9L680.8 764.6L681.7 768.3L682.6 764.8L683.5 765.6L684.4 767.4L685.3 764.6L686.2 767.0L687.0 764.5L687.9 767.7L688.8 766.2L689.7 769.2L690.6 765.1L691.5 768.0L692.4 766.1L693.2 768.9L694.1 766.1L695.0 769.3L695.9 766.4L696.8 769.1L697.7 766.4L698.6 770.7L699.4 767.8L700.3 771.4L701.2 767.5L702.1 769.7L703.0 770.9L703.9 769.2L704.8 771.8L705.7 768.8L706.6 772.5L707.5 769.5L708.4 772.6L709.3 768.4L710.2 771.6L711.2 769.8L712.1 772.6L713.0 769.9L713.9 772.6L714.8 769.6L715.7 772.6L716.6 770.7L717.5 772.6L718.4 769.5L719.3 773.8L720.2 771.2L721.1 773.8L722.0 769.8L722.9 773.9L723.8 769.9L724.7 774.1L725.6 771.1L726.5 773.9L727.4 771.0L728.3 774.6L729.3 770.4L730.2 773.8L731.1 772.0L732.0 775.5L732.9 771.5L733.8 774.6L734.7 772.0L735.6 774.3L736.5 773.0L737.4 773.9L738.3 774.5L739.2 771.7L740.1 774.7L741.0 772.7L741.9 775.1L742.8 772.0L743.7 774.5L744.6 773.4L745.5 774.7L746.4 772.3L747.3 775.1L748.2 773.2L749.1 775.0L750.0 772.9L750.9 775.9L751.8 772.0L752.7 774.4L753.6 771.7L754.5 774.6L755.4 772.6L756.3 775.2L757.2 773.3L758.1 774.6L759.1 771.9L760.0 775.8L760.9 771.8L761.8 776.3L762.7 771.6L763.6 775.0L764.5 772.1L765.4 775.7L766.3 772.9L767.2 775.9L768.1 771.6L769.0 775.6L769.9 771.8L770.8 775.0L771.7 771.7L772.6 775.1L773.5 772.8L774.4 775.5L775.3 772.2L776.2 775.3L777.1 771.7L778.0 775.9L778.9 773.9L779.8 772.4L780.7 776.3L781.6 772.8L782.5 775.4L783.4 771.8L784.3 775.4L785.2 773.6L786.1 776.6L787.0 772.6L787.9 775.7L788.8 772.5L789.7 776.6L790.6 773.4L791.5 776.4L792.4 772.5L793.3 776.6L794.2 774.3L795.1 776.5L796.0 774.1L796.9 777.7L797.8 773.9L798.7 776.7L799.6 773.4L800.5 777.5L801.4 774.9L802.3 777.5L803.2 773.4L804.1 777.4L805.0 774.8L805.9 778.3L806.8 775.4L807.7 777.5L808.6 775.2L809.5 777.8L810.4 775.0L811.3 778.6L812.2 775.7L813.1 777.9L814.0 775.5L814.9 777.3L815.8 774.5L816.7 778.5L817.6 775.6L818.5 778.4L819.4 775.5L820.3 777.0L821.2 777.6L822.1 775.8L823.0 777.6L823.9 776.3L824.8 779.2L825.7 774.9L826.6 778.1L827.5 776.5L828.4 779.3L829.4 776.4L830.3 778.0L831.2 774.8L832.1 778.6L833.0 775.6L833.9 779.1L834.8 774.7L835.7 778.7L836.6 774.7L837.5 777.6L838.4 775.5L839.3 778.9L840.2 774.8L841.1 778.5L842.0 775.2L842.9 778.1L843.8 775.0L844.7 778.7L845.6 774.5L846.6 778.6L847.5 776.1L848.4 779.1L849.3 775.6L850.2 777.8L851.1 774.6L852.0 778.5L852.9 776.2L853.8 777.9L854.7 776.0L855.6 779.4L856.5 774.9L857.4 777.6L858.3 775.1L859.2 778.2L860.1 775.6L861.0 779.0L861.9 775.9L862.8 778.1L863.7 774.6L864.7 779.1L865.6 774.8L866.5 779.0L867.4 774.6L868.3 779.0L869.2 775.0L870.1 778.1L871.0 775.1L871.9 779.4L872.8 775.4L873.7 778.9L874.6 776.1L875.5 778.4L876.4 775.4L877.3 779.0L878.2 775.5L879.1 778.0L880.0 774.5L880.9 778.5L881.9 776.3L882.8 779.2L883.7 775.8L884.6 779.4L885.5 776.4L886.4 779.0L887.3 775.1L888.2 778.9L889.1 776.4L890.0 777.0L890.9 778.5L891.8 775.5L892.7 778.2L893.6 776.4L894.5 778.9L895.4 775.9L896.3 779.6L897.2 776.2L898.1 778.5L899.0 775.4L899.9 778.0L900.8 776.5L901.7 778.0L902.6 775.2L903.5 779.5L904.4 776.7L905.3 778.5L906.2 775.6L907.1 778.1L908.0 776.9L908.9 778.4L909.8 775.5L910.7 778.6L911.6 775.6L912.5 778.5L913.4 775.9L914.3 779.5L915.2 775.9L916.1 778.6L916.9 776.3L917.8 778.8L918.7 776.7L919.6 779.0L920.5 775.5L921.4 778.8L922.3 776.6L923.2 780.0L924.1 777.3L925.0 780.0L925.9 775.7L926.8 779.8L927.7 775.7L928.6 779.5L929.5 776.1L930.4 780.6L931.3 776.7L932.2 779.6L933.1 775.8L934.0 780.1L934.9 776.8L935.8 779.6L936.7 776.4L937.6 780.8L938.5 776.9L939.4 779.8L940.3 776.9L941.2 779.0L942.1 776.3L943.0 778.5L943.9 780.4L944.8 776.7L945.7 780.4L946.6 776.4L947.5 779.9L948.4 776.9L949.3 779.5L950.2 776.9L951.1 780.3L952.0 776.9L952.9 779.4L953.8 777.4L954.7 779.1L955.6 777.2L956.5 780.2L957.4 777.3L958.3 780.3L959.2 777.2L960.1 779.9L961.0 777.6L961.9 780.1L962.8 777.6L963.7 779.4L964.6 777.1L965.5 780.3L966.4 777.0L967.3 779.5L968.2 776.9L969.1 780.4L970.0 777.6L970.9 779.2L971.8 776.3L972.7 779.7L973.6 776.9L974.5 780.0L975.4 777.0L976.3 779.6L977.2 777.7L978.1 780.4L979.0 776.6L979.9 780.9L980.8 777.0L981.7 780.7L982.6 777.0L983.5 781.0L984.4 777.7L985.3 779.6L986.2 776.5L987.1 779.8L988.0 776.9L988.9 780.8L989.8 777.6L990.7 779.1L991.6 778.0L992.5 780.2L993.4 776.1L994.3 779.5L995.2 777.0L996.1 779.9L997.0 777.0L997.9 780.6L998.8 776.2L999.7 780.2L1000.6 777.1L1001.5 780.8L1002.4 777.1L1003.3 779.6L1004.2 777.0L1005.1 780.3L1006.0 777.5L1006.9 780.5L1007.8 777.3L1008.7 779.1L1009.6 776.6L1010.5 780.8L1011.4 776.2L1012.3 781.0L1013.2 777.9L1014.1 780.9L1015.0 776.2L1015.9 780.8L1016.8 778.0L1017.7 780.3L1018.6 777.6L1019.5 780.8L1020.4 777.4L1021.3 779.1L1022.2 776.8L1023.1 780.4L1024.0 776.9L1024.9 779.8L1025.8 777.9L1026.7 780.4L1027.6 778.0L1028.5 780.2L1029.4 777.8L1030.3 779.9L1031.2 776.8L1032.1 779.5L1033.0 776.5L1033.9 779.5L1034.8 776.3L1035.7 779.8L1036.6 776.6L1037.5 779.9L1038.4 777.4L1039.3 779.2L1040.2 776.8L1041.1 779.1L1042.0 777.1L1042.9 779.8L1043.8 777.4L1044.7 779.5L1045.6 777.0L1046.5 780.8L1047.4 776.4L1048.3 779.6L1049.2 776.8L1050.1 780.3L1051.0 776.6L1051.9 780.3L1052.8 777.9L1053.7 779.3L1054.6 776.4L1055.5 779.5L1056.4 776.9L1057.3 779.1L1058.2 776.8L1059.1 779.6L1060.0 777.9L1060.9 779.0L1061.8 777.5L1062.7 780.0L1063.6 776.5L1064.5 778.5L1065.4 779.1L1066.3 777.0L1067.2 779.7L1068.1 776.8L1069.0 780.5L1069.9 777.9L1070.8 779.6L1071.7 776.4L1072.6 780.5L1073.5 777.8L1074.4 780.2L1075.3 777.5L1076.2 779.5L1077.1 777.4L1078.0 780.3L1078.9 776.9L1079.8 781.0L1080.7 777.7L1081.6 781.3L1082.5 777.6L1083.4 780.6L1084.3 777.5L1085.2 780.2L1086.1 777.0L1087.0 780.9L1087.9 778.3L1088.8 779.5L1089.7 777.7L1090.6 780.1L1091.5 777.6L1092.4 781.4L1093.3 777.9L1094.2 780.0L1095.1 777.7L1096.0 780.2L1096.9 777.7L1097.8 780.6L1098.7 778.3L1099.6 781.1L1100.5 777.3L1101.4 781.1L1102.3 777.8L1103.2 780.0L1104.1 777.2L1105.0 781.4L1105.9 776.9L1106.8 781.2L1107.7 778.5L1108.6 780.3L1109.5 777.4L1110.4 779.9L1111.3 778.2L1112.2 780.6L1113.1 777.2L1114.0 779.9L1114.9 778.3L1115.8 781.1L1116.7 778.9L1117.6 780.5L1118.5 777.4L1119.4 780.9L1120.3 777.5L1121.2 780.4L1122.1 777.5L1123.0 780.3L1123.9 777.7L1124.8 781.6L1125.7 778.9L1126.6 780.6L1127.5 778.4L1128.4 781.8L1129.3 779.0L1130.2 780.9L1131.1 777.1L1132.0 780.3L1132.9 777.2L1133.8 780.3L1134.7 778.1L1135.6 781.1L1136.5 777.8L1137.4 780.8L1138.3 778.3L1139.2 782.0L1140.1 778.9L1141.0 782.1L1141.9 779.1L1142.8 780.7L1143.7 778.9L1144.6 781.4L1145.5 778.7L1146.4 781.3L1147.3 779.3L1148.2 781.0L1149.1 779.4L1150.0 780.7L1150.9 778.1L1151.8 781.6L1152.7 778.6L1153.6 780.6L1154.5 778.0L1155.4 780.7L1156.3 778.1L1157.2 781.4L1158.1 777.8L1159.0 780.8L1159.9 778.9L1160.8 780.7L1161.7 777.8L1162.6 781.9L1163.5 779.0L1164.4 781.0L1165.3 777.9L1166.2 781.4L1167.1 779.5L1168.0 781.7L1168.9 779.0L1169.8 782.4L1170.7 779.7L1171.6 782.3L1172.5 778.0L1173.4 781.0L1174.3 778.5L1175.2 782.3L1176.1 778.4L1177.0 782.6L1177.9 779.0L1178.8 782.2L1179.7 778.8L1180.6 781.8L1181.5 779.7L1182.4 782.1L1183.3 778.9L1184.2 781.7L1185.1 778.6L1186.0 782.8L1186.9 779.0L1187.8 781.8L1188.7 779.1L1189.6 782.6L1190.5 779.5L1191.4 782.8L1192.3 778.8L1193.2 782.6L1194.1 779.0L1195.0 781.3L1195.9 778.9L1196.8 783.0L1197.7 778.9L1198.6 782.9L1199.5 780.0L1200.4 782.2L1201.3 778.9L1202.2 783.2L1203.1 780.2L1204.0 781.8L1204.9 779.9L1205.8 781.9L1206.7 779.1L1207.6 782.2L1208.5 778.6L1209.4 782.8L1210.3 779.1L1211.2 783.3L1212.1 778.8L1213.0 781.0"/><path stroke="#f00" d="M430.0 758.2L430.9 767.3L431.8 764.1L432.7 768.2L433.6 768.5L434.5 771.6L435.4 770.2L436.3 771.0L437.2 766.8L438.1 772.9L439.0 765.4L439.9 771.7L440.8 761.4L441.7 770.3L442.6 761.4L443.5 768.1L444.4 759.8L445.3 767.4L446.2 755.9L447.1 763.7L448.0 756.1L448.9 762.6L449.8 757.6L450.7 759.7L451.6 758.7L452.5 757.0L453.4 760.5L454.3 760.2L455.2 763.1L456.1 763.7L457.0 762.5L457.9 766.2L458.8 765.5L459.7 769.1L460.6 766.2L461.5 770.9L462.4 768.5L463.3 770.1L464.2 769.6L465.1 772.1L466.0 767.9L466.9 772.3L467.8 770.2L468.7 772.1L469.6 764.8L470.5 769.2L471.4 762.5L472.3 765.3L473.2 760.9L474.1 765.1L475.0 761.5L475.9 766.6L476.8 758.0L477.7 769.2L478.6 756.8L479.5 769.4L480.4 755.4L481.3 769.0L482.2 754.3L483.1 766.1L484.0 752.0L484.9 765.9L485.8 751.9L486.7 762.8L487.6 753.1L488.5 762.4L489.4 749.4L490.3 762.7L491.2 750.8L492.1 764.6L493.0 748.5L493.9 766.0L494.8 746.2L495.7 764.1L496.6 745.0L497.5 761.1L498.4 745.9L499.3 759.7L500.2 744.3L501.1 758.3L502.0 744.4L502.9 761.7L503.8 742.2L504.7 762.7L505.6 743.4L506.5 761.5L507.4 744.1L508.3 762.7L509.2 744.0L510.1 764.5L511.0 745.5L511.9 765.1L512.8 747.8L513.7 765.1L514.6 747.0L515.5 766.5L516.4 749.0L517.3 768.1L518.2 752.7L519.1 770.2L520.0 755.3L520.9 769.9L521.8 755.3L522.7 770.3L523.6 758.1L524.5 773.4L525.4 763.0L526.3 771.3L527.2 763.9L528.1 774.8L529.0 763.6L529.9 772.2L530.8 768.6L531.7 771.4L532.6 772.0L533.5 771.4L534.4 771.8L535.3 771.6L536.2 769.4L537.1 770.2L538.0 768.2L538.9 769.5L539.8 769.7L540.7 770.0L541.6 769.0L542.5 769.2L543.4 765.7L544.3 771.3L545.2 765.1L546.1 769.8L547.0 765.4L547.9 771.2L548.8 765.3L549.7 770.9L550.6 764.9L551.5 771.6L552.4 767.1L553.3 771.6L554.2 765.9L555.1 770.2L556.0 767.2L556.9 770.9L557.8 767.0L558.7 772.3"/><path stroke="#f00" d="M355.9 724.1L356.8 766.7L357.7 718.6L358.6 761.7L359.5 714.2L360.4 755.0L361.3 708.5L362.2 757.1L363.1 705.3L364.0 758.2L364.9 700.5L365.8 761.0L366.7 693.9L367.6 763.9L368.5 688.8L369.4 766.9L370.3 685.5L371.2 766.8L372.1 687.4L373.0 765.2L373.9 690.0L374.8 759.6L375.7 695.3L376.6 755.5L377.5 699.8L378.4 753.3L379.3 702.8L380.2 754.7L381.1 703.2L382.0 750.2L382.9 705.1L383.8 743.5L384.7 703.4L385.6 759.8L386.5 704.0L387.4 767.4L388.3 707.5L389.2 768.1L390.1 707.0L391.0 761.6L391.9 710.3L392.8 754.6L393.7 714.8L394.6 751.3L395.5 718.0L396.4 749.1L397.3 717.6L398.2 749.7L399.1 722.3L400.0 748.4L400.9 725.6L401.8 751.1L402.7 727.0L403.6 750.6L404.5 730.6L405.4 752.2L406.3 731.4L407.2 753.5L408.1 734.2L409.0 756.8L409.9 735.4L410.8 755.9L411.7 733.9L412.6 757.3L413.5 729.9L414.4 761.3L415.3 728.9L416.2 767.9L417.1 725.9L418.0 765.9L418.9 728.2L419.8 760.6L420.7 733.7L421.6 758.2L422.5 735.7L423.4 758.1L424.3 742.0L425.2 760.1L426.1 744.4L427.0 761.9L427.9 750.2L428.8 764.4L429.7 753.3L430.6 765.0L431.5 757.5L432.4 767.2"/><path stroke="#00f" d="M178.0 552.0L178.9 549.6L179.8 554.1L180.8 551.1L181.7 554.5L182.6 549.8L183.5 554.5L184.5 549.9L185.4 554.4L186.3 552.0L187.2 547.9L188.1 546.6L189.0 541.6L189.8 540.9L190.7 535.4L191.6 535.4L192.5 530.0L193.6 527.8L194.7 530.0L197.7 547.8L198.7 551.1L199.8 550.9L200.8 554.0L201.7 554.3L202.6 552.2L203.6 553.7L204.5 551.0L205.4 553.6L206.3 550.6L207.3 552.4L208.2 548.2L209.1 549.9L210.0 549.1L210.9 544.5L211.8 545.5L212.8 540.4L213.7 542.3L214.6 537.8L215.5 539.6L216.4 535.4L222.6 481.5L226.0 458.4L227.1 456.9L228.2 458.4L230.9 481.5L236.1 531.2L236.9 535.0L237.7 535.3L238.6 539.4L239.4 540.1L240.2 543.7L241.1 543.6L242.0 540.3L242.9 544.2L243.7 539.1L244.6 542.2L245.5 538.9L246.4 539.5L247.3 541.7L248.2 541.0L249.2 544.0L250.1 543.0L251.0 546.8L251.9 545.6L252.9 549.1L253.8 547.2L254.7 549.9L255.6 550.9L256.5 548.7L257.5 552.9L258.4 548.8L259.3 552.7L260.2 550.3L261.2 553.5L262.1 550.8L263.0 552.0L263.8 553.4L264.7 549.3L265.5 550.4L266.4 546.6L267.2 547.8L269.8 533.1L270.9 534.0L272.0 533.1L275.5 549.9L276.3 549.5L277.1 553.0L278.0 550.5L278.8 553.7L279.6 553.0L284.7 524.8L285.8 522.5L286.9 524.8L291.0 543.7L291.9 544.7L292.7 538.8L293.6 541.7L294.5 537.6L295.3 539.3L296.2 536.4L297.1 536.1L298.0 540.9L298.9 538.5L299.7 542.7L300.6 539.5L301.5 543.7L302.4 543.7L303.3 541.2L304.2 544.7L305.2 540.2L306.1 543.4L307.0 540.6L307.9 542.4L308.9 538.0L309.8 542.3L310.7 539.5L314.9 520.9L315.7 521.0L316.5 525.2L317.4 524.1L318.2 527.8L319.0 527.1L321.0 487.5L322.1 485.8L323.2 487.5L326.3 527.1L327.2 529.1L328.0 527.4L328.9 529.8L329.8 528.9L330.6 531.9L331.5 531.2L332.3 527.8L333.1 527.9L334.0 523.1L334.8 523.5L335.6 520.9L336.5 519.4L337.4 520.8L338.3 518.2L339.1 520.6L340.0 515.5L340.9 518.7L341.8 516.7L342.7 516.4L343.6 520.7L344.5 517.4L345.3 522.1L346.2 518.9L347.1 522.7L348.0 523.0L348.9 521.5L349.8 524.5L350.8 521.2L351.7 524.5L352.6 521.8L353.5 526.7L354.5 523.9L355.4 527.0L356.3 525.0L357.1 521.8L358.0 524.0L358.8 518.6L359.7 520.8L360.5 516.7L364.6 465.7L365.7 464.6L366.8 465.7L369.8 531.2L373.5 505.1L374.6 506.0L375.7 505.1L379.2 533.3L383.2 508.2L384.3 506.4L385.4 508.2L387.5 537.5L392.6 474.0L393.7 476.5L394.8 474.0L397.8 523.0L398.7 522.0L399.6 524.9L400.5 522.0L401.3 524.2L402.2 521.3L403.1 525.0L404.0 523.0L404.9 521.1L405.9 524.5L406.8 519.9L407.8 521.9L408.7 519.2L409.6 521.1L410.6 519.1L411.5 521.2L412.5 517.9L413.4 518.8L418.6 545.8L423.7 509.2L424.8 511.1L425.9 509.2L430.0 541.6L430.9 539.9L431.9 542.9L432.8 538.8L433.7 541.6L434.6 537.8L435.6 540.6L436.5 537.2L437.4 538.8L438.4 537.1L439.3 537.5L440.2 538.4L441.1 536.1L442.1 537.7L443.0 534.7L443.9 537.7L444.8 535.3L445.8 537.7L446.7 534.8L447.6 535.4L448.5 535.1L449.3 531.7L450.2 533.1L451.1 528.4L451.9 529.0L452.8 527.1L453.7 527.5L454.6 532.6L455.5 533.1L456.4 537.2L457.3 537.1L458.2 542.7L459.1 542.5L460.0 545.8L460.9 548.0L461.8 544.0L462.7 545.8L463.6 542.6L464.6 546.0L465.5 542.8L466.4 545.7L467.3 543.7L468.2 540.0L469.0 540.6L469.9 536.4L470.8 536.8L471.6 530.8L472.5 530.2L473.4 534.0L474.2 533.4L475.1 537.3L476.0 536.6L476.8 541.3L477.7 541.6L478.6 540.2L479.5 543.7L480.4 541.2L481.3 545.6L482.2 543.6L483.1 547.0L484.0 543.5L484.9 545.8L485.8 546.1L486.7 542.1L487.7 544.3L488.6 541.4L489.5 544.5L490.4 539.7L491.4 543.2L492.3 538.7L493.2 539.5L494.1 540.3L494.9 535.8L495.8 537.0L496.7 532.4L497.5 533.5L498.4 530.2L499.3 529.6L500.1 535.5L501.0 533.7L501.9 539.7L502.7 537.5L503.6 541.6L504.5 541.9L505.3 539.8L506.2 542.9L507.1 538.9L507.9 543.1L508.8 539.7L509.7 541.9L510.5 538.5L511.4 541.3L512.3 537.5L513.1 541.2L514.0 539.5L514.9 539.8L515.8 543.1L516.8 540.3L517.7 545.1L518.6 542.6L519.5 546.5L520.5 543.7L521.4 548.8L522.3 547.8L523.2 546.0L524.1 550.2L525.1 547.5L526.0 550.2L526.9 546.2L527.8 550.5L528.8 546.3L529.7 550.1L530.6 546.9L531.5 551.1L532.5 547.2L533.4 550.8L534.3 547.9L535.2 551.9L536.2 548.7L537.1 550.9L538.0 549.9L538.9 548.3L539.9 550.6L540.8 545.5L541.7 548.1L542.6 544.9L543.6 547.5L544.5 544.7L545.4 543.4L546.3 547.1L547.2 543.9L548.1 548.3L549.0 546.6L549.9 549.1L550.8 547.1L551.6 549.7L552.5 547.6L553.4 551.5L554.3 548.5L555.2 553.3L556.1 550.6L557.0 552.0L557.9 553.1L558.8 550.4L559.7 554.2L560.6 550.4L561.6 553.0L562.5 550.4L563.4 553.5L564.3 552.0L565.2 555.2L566.1 552.1L567.0 555.3L567.9 552.0L568.9 554.0L569.8 550.8L570.7 555.2L571.6 550.9L572.5 553.9L573.4 551.6L574.3 554.9L575.2 552.5L576.2 555.0L577.1 551.7L578.0 555.3L578.9 551.6L579.8 554.0L580.7 556.4L581.6 552.4L582.5 554.9L583.3 553.4L584.2 555.8L585.1 552.2L586.0 556.9L586.9 552.5L587.8 555.0L588.7 552.2L589.5 556.3L590.4 553.9L591.3 556.6L592.2 552.4L593.1 555.8L594.0 553.2L594.9 556.6L595.7 553.2L596.6 556.2L597.5 553.4L598.4 555.1L599.3 557.0L600.2 552.6L601.1 554.6L602.0 551.6L603.0 554.8L603.9 551.7L604.8 554.1L605.7 550.0L606.6 551.9L607.5 549.6L608.4 550.7L609.4 547.4L610.3 551.3L611.2 547.4L612.1 550.7L613.0 547.8L613.9 547.4L614.8 549.5L615.7 547.4L616.6 552.1L617.6 549.8L618.5 552.4L619.4 551.2L620.3 554.0L621.2 553.0L622.1 551.1L623.0 554.1L623.9 549.8L624.8 553.8L625.7 550.1L626.5 552.3L627.4 549.8L628.3 551.9L629.2 548.6L630.1 551.5L631.0 548.1L631.9 550.1L632.8 546.7L633.7 549.0L634.6 546.9L635.4 549.1L636.3 545.3L637.2 547.6L638.1 545.2L639.0 547.5L639.9 545.8L640.8 544.9L641.7 547.3L642.6 545.3L643.5 549.5L644.4 547.1L645.3 550.1L646.2 546.8L647.1 551.4L648.1 549.3L649.0 551.4L649.9 549.8L650.8 553.4L651.7 549.8L652.6 554.1L653.5 552.0L654.4 553.0L655.3 555.1L656.2 552.4L657.1 554.1L658.0 551.9L658.9 555.2L659.8 552.5L660.7 555.9L661.6 551.8L662.5 556.3L663.4 553.1L664.3 555.4L665.2 552.9L666.1 555.5L667.0 553.6L667.9 556.7L668.8 553.7L669.7 555.2L670.6 554.1L671.5 556.8L672.4 552.6L673.3 556.1L674.2 554.1L675.1 556.2L676.1 553.8L677.0 557.0L677.9 554.3L678.8 557.4L679.7 553.6L680.6 558.0L681.5 553.4L682.4 557.8L683.3 553.5L684.2 558.1L685.1 554.8L686.0 556.7L686.9 555.4L687.8 558.8L688.7 554.6L689.6 558.7L690.5 556.0L691.4 558.8L692.3 555.8L693.2 558.0L694.1 555.6L695.0 559.3L695.9 557.2L696.8 555.3L697.7 559.7L698.6 556.8L699.5 558.7L700.4 555.6L701.3 558.7L702.2 556.1L703.1 559.7L704.0 555.9L704.9 558.2L705.8 556.2L706.7 558.8L707.6 556.4L708.5 558.2L709.4 555.4L710.3 559.4L711.2 555.1L712.1 559.5L713.0 556.1L713.9 560.0L714.8 555.9L715.7 559.9L716.6 555.4L717.6 559.2L718.5 556.8L719.4 559.0L720.3 555.5L721.2 559.1L722.1 556.5L723.0 558.8L723.9 555.8L724.8 558.4L725.7 555.7L726.6 558.8L727.5 557.0L728.4 559.0L729.3 556.7L730.2 559.7L731.1 556.0L732.0 559.5L732.9 556.2L733.8 558.7L734.7 556.4L735.6 559.8L736.5 557.5L737.4 558.2L738.3 560.6L739.2 556.5L740.1 559.7L741.0 557.3L741.9 559.7L742.8 556.0L743.7 560.1L744.6 557.5L745.6 559.3L746.5 555.9L747.4 558.9L748.3 556.4L749.2 560.4L750.1 556.3L751.0 560.0L751.9 557.6L752.8 559.3L753.7 557.2L754.6 559.2L755.5 556.4L756.4 559.3L757.3 557.7L758.2 558.8L759.1 556.9L760.1 559.6L761.0 556.6L761.9 559.3L762.8 556.1L763.7 560.6L764.6 555.9L765.5 560.6L766.4 556.9L767.3 559.6L768.2 555.9L769.1 559.0L770.0 555.9L770.9 560.3L771.8 557.1L772.7 558.7L773.6 556.6L774.6 559.1L775.5 557.3L776.4 559.5L777.3 556.9L778.2 560.2L779.1 556.3L780.0 560.3L780.9 556.1L781.8 559.5L782.7 557.0L783.6 559.5L784.5 556.7L785.4 559.7L786.3 556.6L787.2 560.5L788.1 557.0L789.1 559.8L790.0 557.3L790.9 559.8L791.8 556.5L792.7 560.1L793.6 556.8L794.5 559.0L795.4 558.2L796.3 557.1L797.2 559.4L798.1 557.5L799.0 560.8L799.9 556.6L800.8 560.9L801.7 556.2L802.6 559.7L803.5 557.6L804.4 560.3L805.3 557.6L806.2 560.3L807.0 558.3L807.9 561.4L808.8 556.9L809.7 560.8L810.6 558.0L811.5 561.0L812.4 557.8L813.3 560.7L814.2 557.5L815.1 560.5L816.0 558.4L816.9 561.8L817.8 557.8L818.7 560.7L819.6 558.7L820.5 561.4L821.4 559.1L822.3 562.0L823.2 558.3L824.1 561.4L825.0 559.0L825.9 561.1L826.8 559.4L827.7 562.0L828.6 558.9L829.5 562.7L830.3 558.5L831.2 562.6L832.1 559.0L833.0 561.7L833.9 559.4L834.8 563.2L835.7 558.9L836.6 563.0L837.5 558.8L838.4 563.3L839.3 560.2L840.2 563.6L841.1 561.3L842.0 558.9L842.9 563.0L843.8 559.6L844.7 563.5L845.6 559.2L846.5 563.6L847.4 559.9L848.3 563.5L849.2 559.9L850.2 562.7L851.1 559.8L852.0 563.0L852.9 560.7L853.8 562.3L854.7 559.1L855.6 561.9L856.5 559.0L857.4 563.7L858.3 559.9L859.2 563.6L860.1 559.0L861.0 562.6L861.9 559.2L862.8 562.2L863.7 560.0L864.6 562.1L865.5 560.2L866.5 563.8L867.4 559.5L868.3 562.5L869.2 560.6L870.1 563.5L871.0 558.9L871.9 563.8L872.8 560.7L873.7 563.4L874.6 560.2L875.5 562.2L876.4 559.8L877.3 562.4L878.2 558.9L879.1 562.1L880.0 560.1L880.9 562.1L881.9 559.4L882.8 562.8L883.7 559.8L884.6 563.6L885.5 559.6L886.4 562.8L887.3 559.1L888.2 563.0L889.1 559.0L890.0 561.3L890.9 563.1L891.8 559.4L892.7 562.9L893.6 560.6L894.5 563.1L895.4 559.1L896.3 563.4L897.2 559.0L898.1 562.5L899.0 559.2L899.9 562.3L900.8 561.0L901.7 562.1L902.6 560.6L903.5 562.5L904.4 559.5L905.3 563.1L906.2 559.4L907.1 562.8L908.0 560.8L908.9 562.7L909.8 560.8L910.7 563.7L911.6 559.3L912.5 563.3L913.4 560.1L914.3 563.4L915.2 559.9L916.1 564.0L916.9 559.7L917.8 563.2L918.7 560.3L919.6 563.3L920.5 561.0L921.4 562.5L922.3 559.8L923.2 563.3L924.1 561.1L925.0 562.5L925.9 561.4L926.8 563.4L927.7 560.4L928.6 564.4L929.5 560.0L930.4 563.4L931.3 560.4L932.2 562.6L933.1 561.3L934.0 563.5L934.9 560.5L935.8 564.0L936.7 559.8L937.6 563.4L938.5 560.9L939.4 563.0L940.3 561.2L941.2 563.1L942.1 560.1L943.0 562.3L943.9 564.0L944.8 560.2L945.7 562.9L946.6 560.9L947.5 564.1L948.4 561.4L949.3 563.9L950.2 561.7L951.1 564.1L952.0 560.6L952.9 564.1L953.8 561.8L954.7 563.9L955.6 561.1L956.5 563.3L957.4 559.9L958.3 563.9L959.2 560.4L960.1 563.8L961.0 560.1L961.9 563.2L962.8 560.9L963.7 564.3L964.6 561.5L965.5 563.2L966.4 560.9L967.3 564.0L968.2 560.1L969.1 564.2L970.0 561.4L970.9 563.5L971.8 560.2L972.7 563.2L973.6 561.3L974.5 563.5L975.4 560.7L976.3 564.3L977.2 561.6L978.1 563.8L979.0 560.2L979.9 564.2L980.8 560.2L981.7 564.6L982.6 560.9L983.5 563.5L984.4 561.3L985.3 564.0L986.2 560.1L987.1 563.5L988.0 560.4L988.9 563.5L989.8 561.5L990.7 563.1L991.6 561.2L992.5 564.6L993.4 561.1L994.3 564.2L995.2 561.8L996.1 563.6L997.0 560.9L997.9 563.0L998.8 561.4L999.7 564.6L1000.6 561.8L1001.5 564.6L1002.4 560.7L1003.3 563.5L1004.2 561.6L1005.1 564.3L1006.0 560.9L1006.9 563.7L1007.8 560.4L1008.7 564.1L1009.6 560.2L1010.5 563.7L1011.4 561.1L1012.3 564.7L1013.2 561.4L1014.1 564.6L1015.0 560.5L1015.9 564.4L1016.8 560.8L1017.7 564.8L1018.6 561.7L1019.5 565.0L1020.4 560.3L1021.3 563.8L1022.2 562.1L1023.1 565.1L1024.0 560.3L1024.9 564.3L1025.8 560.1L1026.7 563.4L1027.6 561.5L1028.5 563.9L1029.4 561.8L1030.3 563.4L1031.2 560.4L1032.1 564.1L1033.0 561.3L1033.9 563.9L1034.8 560.7L1035.7 564.5L1036.6 561.3L1037.5 563.3L1038.4 561.5L1039.3 563.7L1040.2 561.8L1041.1 564.3L1042.0 560.2L1042.9 564.3L1043.8 562.0L1044.7 563.4L1045.6 560.3L1046.5 565.1L1047.4 561.4L1048.3 564.1L1049.2 561.6L1050.1 564.5L1051.0 560.3L1051.9 564.3L1052.8 560.7L1053.7 563.2L1054.6 560.4L1055.5 564.3L1056.4 562.1L1057.3 563.8L1058.2 560.7L1059.1 563.6L1060.0 560.6L1060.9 564.4L1061.8 560.9L1062.7 565.0L1063.6 560.4L1064.5 562.7L1065.4 563.8L1066.3 561.9L1067.2 564.6L1068.1 560.7L1069.0 563.8L1069.9 561.4L1070.8 565.0L1071.7 561.9L1072.6 563.5L1073.5 560.4L1074.4 563.3L1075.3 561.9L1076.2 563.4L1077.1 561.4L1078.0 564.7L1078.9 561.9L1079.8 563.6L1080.7 561.4L1081.6 563.8L1082.5 561.2L1083.4 564.2L1084.3 561.9L1085.2 565.0L1086.1 561.9L1087.0 564.5L1087.9 562.4L1088.8 565.2L1089.7 562.1L1090.6 564.8L1091.5 560.5L1092.4 563.9L1093.3 561.1L1094.2 563.6L1095.1 560.7L1096.0 564.8L1096.9 561.1L1097.8 563.6L1098.7 561.8L1099.6 564.7L1100.5 562.1L1101.4 565.1L1102.3 561.4L1103.2 564.0L1104.1 560.9L1105.0 564.9L1105.9 562.1L1106.8 564.3L1107.7 561.3L1108.6 564.9L1109.5 561.8L1110.4 565.0L1111.3 562.6L1112.2 564.1L1113.1 562.5L1114.0 565.1L1114.9 561.3L1115.8 565.1L1116.7 561.5L1117.6 564.4L1118.5 561.7L1119.4 564.6L1120.3 562.5L1121.2 565.4L1122.1 562.5L1123.0 564.4L1123.9 561.3L1124.8 565.5L1125.7 562.6L1126.6 565.4L1127.5 562.4L1128.4 565.7L1129.3 562.7L1130.2 565.8L1131.1 562.3L1132.0 564.4L1132.9 561.2L1133.8 564.6L1134.7 562.6L1135.6 564.5L1136.5 561.1L1137.4 565.0L1138.3 562.0L1139.2 565.1L1140.1 562.7L1141.0 565.1L1141.9 561.6L1142.8 564.0L1143.7 562.6L1144.6 565.9L1145.5 562.0L1146.4 564.6L1147.3 561.8L1148.2 564.8L1149.1 563.0L1150.0 566.0L1150.9 562.4L1151.8 565.0L1152.7 562.4L1153.6 565.7L1154.5 562.4L1155.4 564.8L1156.3 562.2L1157.2 566.1L1158.1 561.3L1159.0 564.3L1159.9 561.3L1160.8 565.4L1161.7 562.9L1162.6 564.8L1163.5 561.9L1164.4 566.1L1165.3 561.7L1166.2 564.9L1167.1 562.3L1168.0 565.8L1168.9 562.1L1169.8 565.3L1170.7 563.2L1171.6 564.6L1172.5 563.0L1173.4 564.7L1174.3 561.9L1175.2 565.4L1176.1 562.4L1177.0 565.4L1177.9 563.0L1178.8 564.7L1179.7 562.1L1180.6 566.3L1181.5 563.0L1182.4 565.5L1183.3 563.0L1184.2 564.5L1185.1 561.5L1186.0 566.0L1186.9 561.8L1187.8 565.8L1188.7 563.3L1189.6 565.2L1190.5 561.5L1191.4 565.4L1192.3 562.1L1193.2 566.4L1194.1 562.1L1195.0 564.9L1195.9 561.7L1196.8 566.0L1197.7 563.1L1198.6 564.6L1199.5 562.9L1200.4 565.4L1201.3 563.1L1202.2 565.4L1203.1 562.7L1204.0 565.0L1204.9 561.8L1205.8 565.9L1206.7 561.7L1207.6 565.9L1208.5 563.3L1209.4 564.8L1210.3 563.1L1211.2 565.8L1212.1 562.0L1213.0 564.2"/></g><rect x="233.8" y="790.9" width="8.3" height="7.0" fill="#000"/><rect x="355.6" y="785.9" width="8.3" height="12.0" fill="#000"/><rect x="477.3" y="790.9" width="8.3" height="7.0" fill="#000"/><rect x="599.1" y="785.9" width="8.3" height="12.0" fill="#000"/><rect x="720.9" y="790.9" width="8.3" height="7.0" fill="#000"/><rect x="842.6" y="785.9" width="8.3" height="12.0" fill="#000"/><rect x="964.4" y="790.9" width="8.3" height="7.0" fill="#000"/><rect x="1086.2" y="785.9" width="8.3" height="12.0" fill="#000"/><text x="359.7" y="858.0" text-anchor="middle" font-size="51" font-weight="bold">20</text><text x="603.2" y="858.0" text-anchor="middle" font-size="51" font-weight="bold">40</text><text x="846.8" y="858.0" text-anchor="middle" font-size="51" font-weight="bold">60</text><text x="1090.3" y="858.0" text-anchor="middle" font-size="51" font-weight="bold">80</text><text x="21.2" y="154.4" font-size="125" font-weight="bold">A</text><text transform="translate(118.3 458.0) rotate(-90)" text-anchor="middle" font-size="65.0" font-weight="bold">Intensity (a.u.)</text><text x="694.1" y="953.1" text-anchor="middle" font-size="63.5" font-weight="bold" textLength="462.0" lengthAdjust="spacingAndGlyphs">2<tspan font-size="39" dx="2" dy="-3.2">&#8211;</tspan><tspan dx="3" dy="3.2">Theta (degree)</tspan></text><rect x="905.7" y="98.2" width="109.6" height="8.5" fill="#000"/><text x="1023.3" y="117.1" font-size="44.2" textLength="69.3" lengthAdjust="spacingAndGlyphs">GO</text><rect x="905.7" y="157.2" width="109.6" height="8.5" fill="#f00"/><text x="1023.3" y="176.5" font-size="44.2" textLength="66.7" lengthAdjust="spacingAndGlyphs">Bet</text><rect x="905.7" y="215.9" width="109.6" height="8.5" fill="#00f"/><text x="1023.3" y="235.0" font-size="44.2" textLength="152.0" lengthAdjust="spacingAndGlyphs">Bet-GO</text><clipPath id="clipB"><rect x="1437.5" y="26.5" width="1034.7" height="768.8"/></clipPath><rect x="1437.5" y="26.5" width="1034.7" height="768.8" fill="none" stroke="#000" stroke-width="8.3"/><g clip-path="url(#clipB)" fill="none" stroke-width="5.5" stroke-linejoin="round" stroke-linecap="butt"><path stroke="#000" d="M1435.9 408.0L1436.8 412.7L1437.7 407.9L1438.6 411.6L1439.5 408.5L1440.4 410.6L1441.3 409.1L1442.2 411.8L1443.1 407.6L1444.0 410.6L1444.9 408.6L1445.8 410.0L1446.7 407.8L1447.6 410.5L1448.5 406.9L1449.4 410.0L1450.3 407.6L1451.2 410.7L1452.1 407.1L1453.0 409.9L1453.9 407.0L1454.8 408.9L1455.7 406.2L1456.6 407.3L1457.5 403.9L1458.4 406.0L1459.3 403.5L1460.2 404.4L1461.1 400.5L1462.0 402.5L1462.9 399.3L1463.8 402.7L1464.7 398.5L1465.6 401.9L1466.5 399.0L1467.4 400.3L1468.3 396.5L1469.2 399.5L1470.1 395.5L1471.0 397.5L1471.9 394.2L1472.8 395.4L1473.7 392.1L1474.6 392.7L1475.5 388.5L1476.4 389.4L1477.3 386.1L1478.2 386.9L1479.1 383.9L1480.0 383.1L1480.9 379.9L1481.8 379.5L1482.7 376.5L1483.6 374.9L1484.5 371.7L1484.9 370.5L1485.3 369.2L1485.6 368.0L1485.9 366.8L1486.2 365.6L1486.6 364.4L1486.9 363.2L1487.2 361.9L1487.5 360.7L1487.7 359.5L1488.0 358.3L1488.3 357.1L1488.5 355.8L1488.7 354.6L1489.0 353.4L1489.2 352.2L1489.4 351.0L1489.6 349.8L1489.9 348.5L1490.1 347.3L1490.3 346.1L1490.5 344.9L1490.6 343.7L1490.8 342.4L1491.0 341.2L1491.2 340.0L1491.3 338.8L1491.5 337.6L1491.6 336.4L1491.8 335.2L1491.9 334.0L1492.1 332.8L1492.2 331.6L1492.4 330.4L1492.5 329.2L1492.7 328.0L1492.8 326.8L1493.0 325.6L1493.2 324.4L1493.3 323.2L1493.5 322.0L1493.7 320.8L1493.8 319.6L1494.0 318.4L1494.2 317.2L1494.3 316.0L1494.5 314.8L1494.6 313.6L1494.8 312.3L1494.9 311.1L1495.1 309.8L1495.2 308.4L1495.4 307.1L1495.5 305.6L1495.7 304.2L1495.8 302.7L1496.0 301.3L1496.1 299.8L1496.3 298.3L1496.4 296.8L1496.6 295.3L1496.7 293.8L1496.9 292.3L1497.0 290.9L1497.2 289.4L1497.3 288.0L1497.5 286.5L1497.6 285.0L1497.8 283.5L1497.9 282.0L1498.1 280.4L1498.2 278.8L1498.4 277.1L1498.5 275.3L1498.7 273.5L1498.8 271.6L1499.0 269.7L1499.1 267.7L1499.3 265.7L1499.4 263.6L1499.6 261.5L1499.7 259.4L1499.9 257.2L1500.0 255.0L1500.2 252.7L1500.3 250.5L1500.5 248.3L1500.6 246.1L1500.8 243.9L1500.9 241.6L1501.1 239.2L1501.2 236.6L1501.4 233.9L1501.5 231.1L1501.7 228.0L1501.8 224.7L1502.0 221.0L1502.1 216.8L1502.3 212.3L1502.4 207.3L1502.6 202.0L1502.7 196.5L1502.9 190.7L1503.0 184.7L1503.2 177.9L1503.3 170.1L1503.5 162.0L1503.6 154.0L1503.8 146.8L1503.9 140.7L1504.1 134.8L1504.2 129.1L1504.4 123.6L1504.5 118.3L1504.7 113.3L1504.8 108.6L1505.0 104.1L1505.1 99.9L1505.3 96.0L1505.4 92.4L1505.6 89.0L1505.7 85.7L1505.9 82.5L1506.0 79.5L1506.2 76.7L1506.3 74.0L1506.5 71.5L1506.6 69.1L1506.8 66.9L1506.9 64.8L1507.1 62.9L1507.2 61.2L1507.4 59.5L1507.5 58.0L1507.7 56.5L1507.8 55.1L1508.0 53.7L1508.1 52.4L1508.3 51.0L1508.4 49.7L1508.6 48.3L1508.7 46.8L1508.9 45.1L1509.0 43.3L1509.2 41.6L1509.3 40.2L1509.5 39.2L1509.7 38.4L1510.6 46.7L1510.8 48.0L1510.9 49.2L1511.1 50.4L1511.2 51.6L1511.4 52.9L1511.5 54.2L1511.7 55.5L1511.8 56.9L1512.0 58.5L1512.1 60.2L1512.3 62.0L1512.4 64.0L1512.6 66.3L1512.7 69.0L1512.9 71.8L1513.0 75.0L1513.2 78.3L1513.3 81.8L1513.5 85.5L1513.6 89.3L1513.8 93.1L1513.9 97.0L1514.1 101.3L1514.2 105.8L1514.4 110.6L1514.5 115.5L1514.7 120.7L1514.8 126.0L1515.0 131.4L1515.1 136.8L1515.3 142.3L1515.4 147.7L1515.6 153.0L1515.7 158.2L1515.9 163.6L1516.0 169.5L1516.2 176.2L1516.3 183.7L1516.5 194.7L1516.6 209.2L1516.8 221.5L1516.9 227.2L1517.1 231.1L1517.2 234.4L1517.4 237.1L1517.5 239.4L1517.7 241.4L1517.8 243.2L1518.0 245.0L1518.1 246.9L1518.3 248.9L1518.4 251.3L1518.6 254.2L1518.7 257.4L1518.9 261.0L1519.0 264.8L1519.2 268.7L1519.3 272.5L1519.5 276.3L1519.6 279.8L1519.8 282.9L1519.9 285.9L1520.1 288.8L1520.2 291.6L1520.4 294.4L1520.5 297.0L1520.7 299.6L1520.8 302.1L1521.0 304.5L1521.1 306.7L1521.3 308.9L1521.4 310.9L1521.6 312.8L1521.7 314.6L1521.9 316.4L1522.0 318.2L1522.2 319.9L1522.3 321.5L1522.5 323.1L1522.6 324.6L1522.8 326.1L1522.9 327.5L1523.1 328.9L1523.2 330.2L1523.4 331.4L1523.5 332.6L1523.7 333.7L1523.9 334.9L1524.0 336.1L1524.2 337.2L1524.4 338.4L1524.6 339.6L1524.9 340.8L1525.1 341.9L1525.3 343.1L1525.6 344.3L1525.8 345.5L1526.1 346.6L1526.4 347.8L1526.6 349.0L1526.9 350.2L1527.2 351.4L1527.5 352.6L1527.8 353.8L1528.2 355.0L1528.5 356.2L1528.8 357.3L1529.1 358.5L1529.4 359.7L1529.8 360.9L1530.1 362.0L1530.5 363.4L1531.4 364.8L1532.3 368.1L1533.2 367.7L1534.1 371.7L1535.0 370.5L1535.9 375.2L1536.8 372.2L1537.7 377.1L1538.6 374.4L1539.5 377.8L1540.4 374.9L1541.3 379.9L1542.2 376.1L1543.1 381.5L1544.0 377.1L1544.9 380.8L1545.8 378.0L1546.7 382.3L1547.6 376.7L1548.5 383.6L1549.4 379.0L1550.3 384.7L1551.2 377.1L1552.1 383.9L1553.0 378.5L1553.9 384.9L1554.8 378.1L1555.7 384.2L1556.6 380.3L1557.5 383.9L1558.4 377.6L1559.3 383.3L1560.2 377.0L1561.1 382.8L1562.0 378.4L1562.9 384.0L1563.8 378.1L1564.7 381.8L1565.6 377.3L1566.5 381.5L1567.4 379.1L1568.3 383.3L1569.2 377.7L1570.1 381.6L1571.0 378.1L1571.9 381.3L1572.8 376.7L1573.7 384.2L1574.6 379.4L1575.5 382.6L1576.4 378.9L1577.3 383.7L1578.2 378.0L1579.1 383.4L1580.0 376.8L1580.9 383.4L1581.8 377.8L1582.7 383.8L1583.6 378.8L1584.5 383.7L1585.4 376.3L1586.3 383.0L1587.2 376.2L1588.1 381.8L1589.0 377.9L1589.9 382.4L1590.8 378.5L1591.7 381.9L1592.6 378.1L1593.5 381.8L1594.4 375.0L1595.3 379.6L1596.2 376.6L1597.1 379.2L1598.0 376.2L1598.9 379.9L1599.8 376.9L1600.7 378.9L1601.6 374.6L1602.5 379.6L1603.4 374.0L1604.3 378.8L1605.2 373.6L1606.1 379.4L1607.0 373.0L1607.9 378.0L1608.8 373.6L1609.7 376.9L1610.6 373.8L1611.5 377.9L1612.4 371.8L1613.3 378.9L1614.2 371.7L1615.1 376.3L1616.0 372.3L1616.9 377.2L1617.8 370.3L1618.7 377.1L1619.6 371.2L1620.5 374.2L1621.4 369.4L1622.3 372.5L1623.2 367.4L1624.1 369.8L1625.0 366.3L1625.9 367.5L1626.8 363.1L1627.7 367.3L1628.6 362.1L1629.5 367.9L1630.4 364.4L1631.3 367.8L1632.2 367.0L1633.1 370.0L1634.0 367.1L1634.9 374.4L1635.8 366.4L1636.7 373.3L1637.6 369.5L1638.5 371.5L1639.4 368.8L1640.3 374.6L1641.2 368.5L1642.1 374.6L1643.0 368.4L1643.9 371.5L1644.8 367.3L1645.7 374.0L1646.6 368.6L1647.5 373.9L1648.4 369.0L1649.3 373.5L1650.2 370.9L1651.1 375.0L1652.0 372.5L1652.9 376.6L1653.8 372.3L1654.7 376.3L1655.6 372.4L1656.5 377.1L1657.4 374.8L1658.3 378.4L1659.2 374.3L1660.1 379.1L1661.0 377.1L1661.9 381.7L1662.8 377.2L1663.7 382.2L1664.6 378.0L1665.5 383.8L1666.4 381.6L1667.3 390.6L1667.5 394.9L1668.4 388.7L1669.3 394.6L1670.2 389.3L1671.1 391.9L1672.0 387.7L1672.9 393.8L1673.8 388.1L1674.7 392.0L1675.6 386.6L1676.5 389.9L1677.4 385.9L1678.3 391.8L1679.2 386.4L1680.1 389.1L1681.0 386.2L1681.9 390.5L1682.8 385.4L1683.7 389.8L1684.6 387.4L1685.5 392.3L1686.4 385.9L1687.3 390.9L1688.2 385.3L1689.1 390.0L1690.0 385.9L1690.9 392.7L1691.8 387.1L1692.7 391.5L1693.6 385.6L1694.5 391.0L1695.4 386.9L1696.3 392.4L1697.2 387.5L1698.1 393.1L1699.0 387.5L1699.9 393.4L1700.8 388.8L1701.7 393.9L1702.6 388.2L1703.5 392.3L1704.4 389.3L1705.3 394.1L1706.2 386.7L1707.1 394.6L1708.0 387.1L1708.9 394.8L1709.8 386.5L1710.7 393.3L1711.6 387.3L1712.5 391.7L1713.4 389.6L1714.3 391.7L1715.2 387.5L1716.1 394.5L1717.0 387.9L1717.9 394.2L1718.8 388.7L1719.7 393.3L1720.6 387.1L1721.5 391.2L1722.4 388.0L1723.3 393.0L1724.2 387.1L1725.1 392.7L1726.0 386.9L1726.9 391.9L1727.8 386.2L1728.7 388.6L1729.6 383.4L1730.5 386.9L1731.4 381.1L1732.3 387.3L1733.2 382.7L1734.1 386.5L1734.4 387.8L1734.8 389.0L1735.1 390.2L1735.4 391.4L1735.7 392.5L1736.1 394.3L1737.0 393.6L1737.9 399.4L1738.8 393.6L1739.7 397.9L1740.6 392.5L1741.5 399.4L1742.4 391.8L1743.3 399.2L1744.2 392.3L1745.1 399.1L1746.0 391.0L1746.9 396.3L1747.8 393.1L1748.7 396.6L1749.6 392.2L1750.5 398.0L1751.4 390.6L1752.3 397.1L1753.2 393.1L1754.1 396.1L1755.0 390.7L1755.9 397.5L1756.8 392.3L1757.7 397.3L1758.6 389.9L1759.5 396.9L1760.4 390.3L1761.3 397.5L1762.2 389.9L1763.1 395.6L1764.0 389.0L1764.9 395.8L1765.8 389.2L1766.7 396.1L1767.6 390.1L1768.5 396.7L1769.4 392.9L1770.3 395.2L1771.2 390.5L1772.1 395.4L1773.0 392.5L1773.9 397.4L1774.8 391.7L1775.7 396.9L1776.6 394.0L1777.5 399.5L1778.4 394.3L1779.3 399.8L1780.2 395.8L1781.1 400.3L1782.0 395.4L1782.9 401.8L1783.8 396.3L1784.7 400.6L1785.6 397.3L1786.5 400.7L1787.4 396.8L1788.3 401.1L1789.2 398.3L1790.1 402.8L1791.0 397.1L1791.9 402.3L1792.8 399.7L1793.7 405.0L1794.6 398.3L1795.5 403.7L1796.4 400.7L1797.3 403.8L1798.2 400.8L1799.1 403.4L1800.0 400.7L1800.9 404.8L1801.8 399.7L1802.7 407.0L1803.6 401.6L1804.5 405.0L1805.4 402.1L1806.3 405.2L1807.2 400.8L1808.1 406.7L1809.0 402.9L1809.9 406.6L1810.8 402.5L1811.7 407.2L1812.6 401.7L1813.5 408.7L1814.4 401.8L1815.3 407.9L1816.2 402.4L1817.1 409.8L1818.0 402.1L1818.9 408.7L1819.8 402.9L1820.7 407.6L1821.6 405.0L1822.5 408.9L1823.4 405.5L1824.3 409.6L1825.2 404.8L1826.1 409.5L1827.0 406.7L1827.9 411.3L1828.8 406.8L1829.7 411.0L1830.6 406.3L1831.5 410.1L1832.4 407.9L1833.3 412.5L1834.2 408.1L1835.1 411.7L1836.0 409.4L1836.9 412.9L1837.8 408.4L1838.7 411.7L1839.6 410.1L1840.5 412.9L1841.4 408.7L1842.3 413.7L1843.2 408.6L1844.1 411.7L1845.0 408.3L1845.9 412.5L1846.8 408.3L1847.7 413.4L1848.6 408.0L1849.5 412.3L1850.4 409.0L1851.3 412.7L1852.2 409.0L1853.1 412.5L1854.0 410.0L1854.9 412.2L1855.8 409.1L1856.7 412.2L1857.6 408.7L1858.5 412.5L1859.4 408.5L1860.3 412.2L1861.2 408.7L1862.1 413.2L1863.0 407.7L1863.9 413.6L1864.8 407.8L1865.7 413.0L1866.6 408.7L1867.5 411.7L1868.4 408.9L1869.3 412.8L1870.2 410.0L1871.1 412.7L1872.0 408.9L1872.9 412.9L1873.8 407.5L1874.7 411.8L1875.6 408.8L1876.5 412.4L1877.4 409.3L1878.3 412.8L1879.2 407.8L1880.1 414.0L1881.0 409.8L1881.9 412.4L1882.8 408.6L1883.7 412.6L1884.6 408.1L1885.5 409.3L1886.4 405.7L1887.3 407.0L1888.2 403.4L1889.1 405.3L1890.0 401.3L1890.9 402.8L1891.8 398.0L1892.7 402.0L1893.6 398.4L1894.5 401.6L1895.4 400.3L1896.3 404.4L1897.2 403.8L1898.1 406.0L1899.0 404.4L1899.9 407.7L1900.8 406.6L1901.7 409.6L1902.6 407.3L1903.5 411.2L1904.4 408.3L1905.3 412.2L1906.2 408.6L1907.1 412.2L1908.0 409.0L1908.9 414.6L1909.8 412.0L1910.7 413.8L1911.6 411.5L1912.5 416.4L1913.4 412.3L1914.3 414.7L1915.2 411.7L1916.1 415.6L1917.0 413.6L1917.9 417.6L1918.8 413.0L1919.7 418.3L1920.6 412.8L1921.5 416.4L1922.4 413.5L1923.3 418.6L1924.2 413.9L1925.1 418.8L1926.0 413.7L1926.9 418.4L1927.8 413.5L1928.7 419.0L1929.6 415.3L1930.5 418.8L1931.4 413.7L1932.3 419.2L1933.2 413.9L1934.1 417.9L1935.0 415.7L1935.9 418.7L1936.8 414.9L1937.7 418.4L1938.6 416.3L1939.5 419.9L1940.4 415.4L1941.3 418.6L1942.2 414.2L1943.1 418.2L1944.0 415.0L1944.9 420.7L1945.8 415.0L1946.7 419.6L1947.6 416.5L1948.5 420.2L1949.4 416.8L1950.3 421.1L1951.2 415.9L1952.1 419.8L1953.0 416.3L1953.9 421.4L1954.8 417.3L1955.7 420.9L1956.6 417.4L1957.5 419.9L1958.4 417.3L1959.3 421.2L1960.2 416.5L1961.1 420.4L1962.0 417.1L1962.9 422.0L1963.8 418.5L1964.7 421.2L1965.6 418.0L1966.5 422.3L1967.4 416.9L1968.3 422.7L1969.2 418.4L1970.1 423.1L1971.0 417.6L1971.9 422.4L1972.8 417.4L1973.7 421.4L1974.6 419.1L1975.5 423.4L1976.4 418.4L1977.3 424.1L1978.2 418.0L1979.1 423.4L1980.0 419.3L1980.9 422.9L1981.8 418.0L1982.7 422.6L1983.6 419.9L1984.5 422.0L1985.4 420.5L1986.3 424.3L1987.2 420.0L1988.1 423.2L1989.0 418.4L1989.9 422.9L1990.8 418.6L1991.7 423.3L1992.6 418.8L1993.5 425.0L1994.4 419.8L1995.3 425.0L1996.2 420.4L1997.1 423.4L1998.0 419.3L1998.9 424.7L1999.8 418.9L2000.7 424.1L2001.6 419.0L2002.5 423.0L2003.4 419.0L2004.3 423.5L2005.2 419.8L2006.1 425.5L2007.0 419.4L2007.9 424.7L2008.8 419.8L2009.7 424.4L2010.6 420.1L2011.5 423.5L2012.4 421.8L2013.3 425.0L2014.2 420.9L2015.1 425.1L2016.0 422.1L2016.9 423.7L2017.8 420.7L2018.7 424.6L2019.6 422.0L2020.5 425.0L2021.4 421.2L2022.3 424.1L2023.2 421.9L2024.1 425.0L2025.0 420.3L2025.9 424.4L2026.8 422.1L2027.7 425.1L2028.6 421.1L2029.5 425.3L2030.4 421.7L2031.3 425.6L2032.2 422.1L2033.1 425.7L2034.0 420.8L2034.9 426.1L2035.8 421.7L2036.7 424.5L2037.6 421.4L2038.5 424.1L2039.4 421.3L2040.3 424.7L2041.2 421.1L2042.1 424.2L2043.0 421.0L2043.9 425.1L2044.8 422.4L2045.7 425.5L2046.6 420.9L2047.5 426.2L2048.4 422.2L2049.3 425.4L2050.2 423.0L2051.1 425.7L2052.0 422.9L2052.9 424.6L2053.8 422.3L2054.7 424.6L2055.6 422.6L2056.5 425.7L2057.4 421.6L2058.3 425.3L2059.2 422.0L2060.1 425.3L2061.0 422.8L2061.9 425.4L2062.8 422.6L2063.7 424.9L2064.6 422.4L2065.5 426.7L2066.4 422.7L2067.3 426.1L2068.2 422.5L2069.1 426.1L2070.0 423.6L2070.9 424.9L2071.8 423.1L2072.7 426.9L2073.6 423.8L2074.5 426.3L2075.4 423.6L2076.3 425.0L2077.2 423.6L2078.1 426.6L2079.0 423.9L2079.9 426.1L2080.8 422.3L2081.7 426.6L2082.6 423.2L2083.5 427.2L2084.4 422.9L2085.3 425.7L2086.2 423.7L2087.1 427.1L2088.0 423.7L2088.9 426.1L2089.8 422.6L2090.7 426.6L2091.6 423.4L2092.5 425.8L2093.4 424.2L2094.3 426.4L2095.2 423.0L2096.1 427.2L2097.0 424.2L2097.9 426.4L2098.8 424.1L2099.7 427.5L2100.6 423.6L2101.5 426.8L2102.4 422.9L2103.3 427.0L2104.2 424.6L2105.1 427.4L2106.0 424.5L2106.9 427.0L2107.8 423.5L2108.7 427.7L2109.6 422.8L2110.5 427.3L2111.4 423.7L2112.3 426.1L2113.2 424.1L2114.1 427.8L2115.0 424.0L2115.9 427.7L2116.8 424.0L2117.7 426.4L2118.6 423.8L2119.5 428.1L2120.4 423.0L2121.3 427.4L2122.2 424.5L2123.1 428.3L2124.0 424.1L2124.9 426.9L2125.8 424.4L2126.7 426.7L2127.6 425.0L2128.5 427.1L2129.4 424.3L2130.3 428.2L2131.2 423.6L2132.1 427.5L2133.0 423.1L2133.9 426.8L2134.8 424.1L2135.7 428.5L2136.6 425.2L2137.5 426.8L2138.4 425.0L2139.3 426.8L2140.2 424.3L2141.1 427.9L2142.0 423.2L2142.9 427.3L2143.8 423.3L2144.7 427.0L2145.6 425.3L2146.5 428.0L2147.4 423.6L2148.3 428.0L2149.2 424.8L2150.1 427.8L2151.0 423.5L2151.9 427.4L2152.8 423.6L2153.7 428.1L2154.6 425.1L2155.5 427.1L2156.4 424.3L2157.3 428.2L2158.2 424.4L2159.1 427.4L2160.0 424.8L2160.9 428.4L2161.8 424.8L2162.7 427.1L2163.6 424.3L2164.5 427.4L2165.4 423.8L2166.3 427.8L2167.2 424.7L2168.1 428.7L2169.0 424.6L2169.9 427.3L2170.8 424.8L2171.7 429.2L2172.6 424.9L2173.5 427.3L2174.4 424.0L2175.3 428.5L2176.2 425.3L2177.1 429.2L2178.0 425.6L2178.9 428.7L2179.8 425.4L2180.7 427.7L2181.6 425.6L2182.5 428.5L2183.4 424.5L2184.3 428.0L2185.2 424.1L2186.1 428.5L2187.0 425.1L2187.9 428.7L2188.8 425.0L2189.7 429.0L2190.6 424.2L2191.5 429.3L2192.4 426.2L2193.3 429.2L2194.2 425.9L2195.1 429.1L2196.0 426.2L2196.9 427.9L2197.8 425.5L2198.7 427.9L2199.6 424.9L2200.5 428.8L2201.4 425.0L2202.3 429.7L2203.2 426.3L2204.1 428.8L2205.0 426.2L2205.9 428.2L2206.8 425.6L2207.7 429.3L2208.6 424.9L2209.5 428.8L2210.4 424.8L2211.3 428.6L2212.2 425.8L2213.1 428.7L2214.0 424.6L2214.9 429.4L2215.8 425.5L2216.7 428.6L2217.6 425.7L2218.5 428.4L2219.4 425.5L2220.3 427.8L2221.2 424.6L2222.1 428.3L2223.0 426.1L2223.9 429.8L2224.8 426.5L2225.7 428.9L2226.6 426.2L2227.5 428.2L2228.4 426.3L2229.3 428.3L2230.2 425.9L2231.1 429.8L2232.0 424.7L2232.9 429.4L2233.8 426.1L2234.7 428.7L2235.6 426.2L2236.5 428.7L2237.4 425.0L2238.3 428.7L2239.2 425.1L2240.1 429.1L2241.0 426.8L2241.9 428.9L2242.8 425.9L2243.7 429.5L2244.6 426.3L2245.5 428.7L2246.4 426.5L2247.3 429.8L2248.2 426.8L2249.1 429.9L2250.0 425.7L2250.9 429.6L2251.8 426.1L2252.7 429.7L2253.6 425.5L2254.5 429.6L2255.4 425.2L2256.3 430.3L2257.2 425.8L2258.1 428.2L2259.0 426.5L2259.9 428.5L2260.8 425.9L2261.7 428.6L2262.6 425.6L2263.5 429.9L2264.4 425.5L2265.3 428.7L2266.2 425.9L2267.1 430.3L2268.0 425.6L2268.9 429.2L2269.8 427.1L2270.7 430.1L2271.6 425.7L2272.5 429.3L2273.4 425.3L2274.3 430.4L2275.2 426.8L2276.1 429.2L2277.0 425.8L2277.9 428.4L2278.8 426.1L2279.7 430.2L2280.6 426.6L2281.5 429.7L2282.4 425.7L2283.3 430.1L2284.2 425.4L2285.1 429.9L2286.0 425.6L2286.9 428.6L2287.8 426.8L2288.7 430.4L2289.6 426.0L2290.5 429.0L2291.4 426.5L2292.3 429.4L2293.2 426.5L2294.1 428.6L2295.0 426.2L2295.9 429.3L2296.8 427.3L2297.7 430.4L2298.6 427.0L2299.5 428.7L2300.4 425.2L2301.3 430.4L2302.2 426.9L2303.1 430.5L2304.0 425.5L2304.9 429.0L2305.8 425.8L2306.7 428.8L2307.6 425.7L2308.5 429.5L2309.4 427.0L2310.3 430.7L2311.2 426.6L2312.1 430.1L2313.0 426.7L2313.9 430.6L2314.8 425.7L2315.7 430.7L2316.6 426.4L2317.5 430.6L2318.4 426.6L2319.3 431.0L2320.2 426.3L2321.1 429.1L2322.0 426.5L2322.9 430.4L2323.8 427.1L2324.7 430.6L2325.6 426.2L2326.5 430.5L2327.4 426.5L2328.3 430.0L2329.2 426.5L2330.1 430.0L2331.0 426.6L2331.9 430.0L2332.8 427.3L2333.7 429.7L2334.6 426.7L2335.5 429.5L2336.4 426.6L2337.3 429.1L2338.2 427.5L2339.1 429.6L2340.0 427.9L2340.9 429.2L2341.8 426.9L2342.7 430.5L2343.6 426.6L2344.5 431.2L2345.4 427.2L2346.3 430.5L2347.2 427.8L2348.1 429.8L2349.0 428.0L2349.9 431.2L2350.8 426.5L2351.7 430.9L2352.6 426.2L2353.5 431.0L2354.4 426.1L2355.3 431.2L2356.2 427.9L2357.1 430.2L2358.0 427.4L2358.9 430.6L2359.8 426.6L2360.7 430.9L2361.6 427.4L2362.5 431.0L2363.4 426.3L2364.3 429.7L2365.2 428.2L2366.1 430.3L2367.0 428.1L2367.9 431.4L2368.8 426.7L2369.7 430.1L2370.6 428.4L2371.5 430.7L2372.4 428.2L2373.3 431.1L2374.2 426.5L2375.1 430.8L2376.0 427.4L2376.9 431.2L2377.8 428.5L2378.7 432.0L2379.6 428.5L2380.5 430.6L2381.4 427.5L2382.3 431.1L2383.2 428.8L2384.1 430.6L2385.0 427.4L2385.9 430.8L2386.8 428.8L2387.7 431.7L2388.6 428.8L2389.5 430.6L2390.4 428.6L2391.3 432.4L2392.2 427.8L2393.1 431.2L2394.0 427.5L2394.9 431.6L2395.8 427.1L2396.7 430.8L2397.6 428.6L2398.5 431.5L2399.4 428.7L2400.3 431.8L2401.2 428.5L2402.1 430.5L2403.0 428.2L2403.9 430.7L2404.8 427.7L2405.7 432.1L2406.6 427.8L2407.5 431.0L2408.4 428.4L2409.3 431.0L2410.2 428.0L2411.1 430.7L2412.0 427.8L2412.9 432.9L2413.8 427.8L2414.7 432.3L2415.6 428.3L2416.5 431.8L2417.4 428.5L2418.3 432.0L2419.2 429.0L2420.1 432.1L2421.0 429.5L2421.9 431.1L2422.8 429.2L2423.7 433.1L2424.6 428.5L2425.5 433.1L2426.4 428.4L2427.3 432.8L2428.2 428.9L2429.1 432.5L2430.0 430.0L2430.9 431.4L2431.8 430.1L2432.7 432.2L2433.6 430.1L2434.5 431.7L2435.4 430.0L2436.3 433.5L2437.2 429.6L2438.1 431.9L2439.0 428.5L2439.9 432.8L2440.8 429.7L2441.7 432.1L2442.6 428.5L2443.5 432.0L2444.4 430.4L2445.3 432.6L2446.2 429.0L2447.1 433.2L2448.0 430.4L2448.9 432.7L2449.8 429.4L2450.7 433.4L2451.6 429.2L2452.5 432.8L2453.4 429.1L2454.3 433.0L2455.2 430.6L2456.1 432.3L2457.0 430.6L2457.9 433.5L2458.8 430.9L2459.7 432.6L2460.6 428.8L2461.5 434.0L2462.4 429.9L2463.3 432.4L2464.2 430.3L2465.1 432.7L2466.0 430.6L2466.9 433.4L2467.8 429.3L2468.7 432.6L2469.6 429.9L2470.5 432.7L2471.4 431.0L2472.3 433.6L2473.2 429.6L2474.1 433.2L2475.0 430.1L2475.9 434.6L2476.8 430.2L2477.5 432.1"/><path stroke="#f00" d="M1437.0 724.0L1437.9 722.8L1438.8 725.1L1439.7 722.0L1440.6 725.8L1441.5 724.0L1444.0 761.7L1444.8 762.0L1445.7 767.7L1446.6 766.2L1447.4 770.0L1448.3 771.6L1449.2 767.7L1450.1 771.0L1451.0 769.8L1451.9 771.9L1452.8 768.2L1453.7 772.0L1454.6 768.4L1455.5 772.2L1456.4 769.4L1457.3 773.0L1458.2 768.7L1459.1 772.7L1460.0 769.9L1460.9 773.8L1461.8 770.2L1462.7 773.3L1463.6 770.0L1464.5 773.4L1465.4 771.2L1466.3 773.7L1467.2 770.3L1468.1 772.1L1469.0 773.6L1469.9 768.4L1470.8 771.7L1471.6 767.5L1472.5 770.4L1473.4 766.7L1474.3 767.4L1475.2 764.3L1476.1 766.7L1477.0 763.4L1477.8 764.7L1478.7 762.3L1479.6 764.1L1480.5 761.7L1481.4 761.6L1482.3 766.5L1483.2 763.6L1484.1 767.6L1485.0 766.5L1485.9 769.4L1486.8 770.0L1487.7 765.0L1488.6 764.7L1489.5 759.3L1490.4 759.0L1491.4 754.7L1492.3 753.6L1493.2 748.6L1494.1 747.6L1495.0 743.9L1496.1 742.6L1497.2 743.9L1501.3 763.8L1502.2 763.4L1503.1 761.1L1504.0 761.4L1504.9 758.6L1505.8 759.3L1506.7 755.8L1507.6 758.1L1508.5 755.5L1509.4 755.4L1510.2 760.2L1511.1 760.0L1512.0 764.6L1512.8 763.5L1513.7 768.0L1514.6 766.8L1515.5 763.1L1516.4 764.5L1517.3 757.8L1518.2 760.3L1519.1 755.6L1520.0 754.8L1520.9 752.2L1522.0 751.7L1523.1 752.2L1523.9 756.7L1524.8 755.8L1525.7 761.9L1526.5 762.9L1527.3 768.5L1528.2 770.0L1533.8 707.6L1534.9 706.0L1536.0 707.6L1538.6 765.9L1539.5 766.7L1540.4 761.6L1541.4 762.3L1542.3 757.6L1543.2 759.1L1544.1 755.1L1545.1 756.2L1546.0 752.1L1546.9 751.4L1547.8 750.3L1548.6 744.4L1549.5 745.3L1550.4 741.5L1551.3 741.9L1552.1 736.8L1553.0 735.6L1554.1 737.1L1555.2 735.6L1558.3 761.7L1561.3 748.0L1562.4 746.1L1563.5 748.0L1564.4 751.1L1565.2 751.7L1566.1 755.8L1567.0 755.2L1567.8 761.1L1568.7 761.7L1571.8 689.2L1574.4 551.1L1575.5 548.6L1576.6 551.1L1580.1 699.5L1583.2 761.7L1586.3 730.6L1587.9 526.2L1589.0 527.4L1590.1 526.2L1592.5 720.3L1595.6 747.2L1597.6 702.4L1598.7 700.9L1599.8 702.4L1602.9 753.4L1605.5 684.8L1606.6 685.7L1607.7 684.8L1610.1 751.4L1614.3 726.5L1617.9 532.4L1619.0 530.0L1620.1 532.4L1623.6 558.6L1626.7 699.5L1629.8 757.6L1630.7 758.0L1631.6 752.8L1632.5 754.0L1633.3 749.5L1634.2 752.3L1635.1 747.9L1636.0 747.2L1636.9 748.3L1637.8 745.6L1638.7 749.7L1639.6 746.4L1640.5 751.1L1641.4 746.9L1642.3 749.3L1645.4 701.6L1649.5 598.7L1650.6 599.5L1651.7 598.7L1654.7 736.9L1658.9 765.9L1663.0 738.9L1663.9 738.3L1664.8 741.3L1665.8 737.8L1666.7 742.1L1667.6 738.1L1668.5 741.4L1669.5 738.8L1670.4 742.5L1671.3 741.0L1676.0 706.6L1677.1 704.2L1678.2 706.6L1681.7 761.7L1682.6 760.6L1683.5 753.1L1684.4 752.5L1685.2 745.7L1686.1 745.5L1687.0 739.1L1687.9 736.9L1688.7 736.9L1689.5 734.4L1690.4 736.0L1691.2 732.2L1692.0 732.7L1695.5 651.6L1696.6 653.1L1697.7 651.6L1700.3 730.6L1703.4 765.9L1704.3 761.8L1705.1 762.6L1706.0 758.6L1706.9 759.6L1707.7 754.4L1708.6 753.4L1713.1 675.5L1714.2 676.7L1715.3 675.5L1719.0 761.7L1719.9 759.9L1720.8 763.3L1721.7 762.0L1722.6 764.7L1723.5 761.9L1724.4 767.2L1725.3 763.1L1726.2 765.9L1727.1 765.3L1728.1 760.1L1729.0 761.4L1730.0 755.7L1730.9 757.6L1731.8 751.2L1732.8 753.1L1733.7 748.7L1734.7 749.2L1735.6 745.2L1740.7 705.8L1745.2 589.4L1746.3 588.1L1747.4 589.4L1750.5 637.3L1753.2 699.5L1755.3 751.4L1756.2 754.6L1757.0 752.8L1757.9 758.9L1758.8 756.4L1759.6 761.7L1760.5 761.7L1761.4 756.2L1762.3 756.3L1763.2 750.9L1764.0 750.6L1764.9 745.3L1765.8 745.0L1766.7 741.0L1768.7 707.6L1769.8 706.4L1770.9 707.6L1774.0 755.5L1774.8 754.8L1775.6 748.6L1776.5 749.1L1777.3 742.1L1778.1 741.0L1782.6 698.3L1783.7 700.6L1784.8 698.3L1787.0 761.7L1787.8 758.6L1788.5 760.7L1789.3 757.6L1790.1 758.5L1791.0 764.9L1791.8 764.5L1792.7 768.2L1793.5 770.0L1798.7 741.0L1799.6 737.4L1800.4 738.0L1801.2 730.7L1802.1 731.3L1803.0 726.8L1803.8 725.2L1804.9 726.6L1806.0 725.2L1810.1 753.4L1810.9 754.9L1811.7 759.3L1812.6 760.0L1813.4 765.5L1814.2 765.9L1819.4 736.9L1820.2 735.3L1821.0 736.9L1821.9 732.2L1822.7 734.5L1823.5 732.7L1827.6 708.6L1828.7 707.2L1829.8 708.6L1832.9 761.7L1833.8 761.5L1834.6 759.6L1835.5 761.0L1836.4 757.2L1837.2 759.2L1838.1 757.6L1841.1 729.4L1842.2 727.1L1843.3 729.4L1846.3 747.2L1847.1 748.4L1848.0 743.9L1848.8 747.5L1849.7 743.9L1850.5 745.2L1853.6 757.6L1857.8 720.3L1860.2 700.3L1861.3 702.1L1862.4 700.3L1865.0 761.7L1865.9 757.9L1866.7 759.2L1867.6 753.8L1868.5 754.4L1869.3 749.4L1870.2 749.3L1871.1 753.4L1872.0 751.7L1872.9 756.7L1873.8 756.4L1874.7 760.7L1875.6 761.2L1876.5 765.4L1877.4 765.9L1878.3 763.4L1879.2 767.0L1880.1 762.7L1881.1 766.5L1882.0 764.0L1882.9 766.0L1883.8 763.5L1884.7 765.0L1885.6 761.1L1886.5 765.5L1887.4 761.7L1888.3 763.6L1889.3 761.8L1890.2 763.0L1891.1 761.0L1892.0 761.7L1892.9 764.4L1893.8 761.4L1894.8 765.3L1895.7 761.2L1896.6 766.5L1897.5 763.4L1898.5 767.0L1899.4 763.6L1900.3 765.9L1901.2 765.5L1902.2 761.3L1903.1 763.9L1904.0 760.2L1904.9 761.0L1905.9 757.3L1906.8 758.6L1907.7 754.9L1908.7 755.5L1909.6 753.4L1910.5 754.4L1911.4 758.3L1912.3 757.0L1913.2 760.8L1914.1 759.4L1915.0 764.7L1915.9 763.0L1916.8 765.9L1917.7 767.0L1918.6 762.3L1919.6 762.7L1920.5 758.3L1921.4 760.3L1922.3 756.8L1923.3 758.3L1924.2 754.1L1925.1 753.4L1926.0 756.8L1926.9 754.6L1927.8 759.0L1928.7 756.9L1929.6 760.9L1930.5 759.4L1931.4 761.7L1932.3 762.3L1933.2 757.4L1934.1 757.8L1935.0 753.1L1935.9 756.0L1936.8 751.3L1937.7 752.2L1938.6 749.3L1939.5 749.7L1940.3 753.6L1941.2 752.4L1942.1 758.2L1942.9 755.9L1943.8 759.7L1944.7 758.5L1945.5 754.3L1946.4 755.3L1947.3 750.7L1948.1 751.3L1949.0 747.2L1949.9 749.1L1950.7 753.9L1951.6 755.4L1952.5 762.0L1953.3 761.6L1954.2 765.9L1955.1 766.6L1956.0 764.2L1957.0 765.8L1957.9 763.3L1958.8 764.1L1959.7 761.3L1960.7 764.7L1961.6 760.9L1962.5 761.7L1967.6 734.8L1968.5 738.2L1969.3 735.4L1970.2 739.4L1971.1 737.5L1971.9 742.2L1972.8 741.0L1977.0 765.9L1977.9 764.0L1978.9 766.4L1979.8 763.7L1980.7 765.9L1981.7 762.3L1982.6 765.0L1983.6 760.9L1984.5 763.4L1985.4 761.1L1986.4 762.8L1987.3 761.7L1988.2 757.7L1989.1 758.4L1990.0 751.0L1990.9 751.9L1991.8 746.2L1992.7 746.2L1993.6 741.9L1994.5 739.7L1995.6 740.3L1996.7 739.7L2000.8 765.9L2001.7 763.1L2002.6 765.5L2003.5 760.6L2004.4 763.7L2005.4 759.8L2006.3 760.3L2007.2 756.6L2008.1 757.6L2009.0 757.4L2009.9 753.2L2010.9 755.7L2011.8 750.8L2012.7 752.7L2013.6 749.5L2014.6 751.8L2015.5 747.6L2016.4 747.2L2017.2 751.5L2018.1 751.4L2019.0 757.9L2019.8 757.4L2020.7 762.8L2021.5 763.8L2022.4 761.9L2023.3 763.1L2024.2 759.5L2025.0 760.5L2025.9 756.6L2026.8 758.9L2027.7 754.6L2028.6 757.7L2029.5 753.7L2030.3 755.8L2031.2 750.0L2032.1 752.7L2033.0 750.3L2033.9 752.3L2034.7 756.5L2035.6 757.4L2036.5 761.5L2037.3 762.2L2038.2 765.9L2039.1 767.0L2039.9 764.3L2040.8 766.9L2041.7 762.6L2042.5 764.5L2043.4 762.5L2044.3 764.2L2045.2 760.0L2046.0 763.8L2046.9 759.4L2047.8 762.2L2048.6 759.6L2049.5 759.7L2050.4 760.5L2051.3 756.3L2052.2 759.2L2053.1 755.7L2054.0 759.2L2054.9 755.1L2055.8 758.0L2056.6 754.8L2057.5 757.7L2058.4 753.3L2059.3 756.3L2060.2 753.8L2061.1 755.2L2062.0 753.4L2062.9 754.8L2063.8 758.8L2064.7 759.0L2065.5 764.2L2066.4 762.8L2067.3 768.7L2068.2 770.0L2069.1 767.5L2070.0 770.3L2070.9 767.6L2071.8 770.2L2072.7 768.2L2073.6 769.2L2074.5 766.6L2075.4 770.2L2076.4 767.1L2077.3 768.3L2078.2 765.0L2079.1 768.7L2080.0 764.8L2080.9 768.0L2081.8 765.2L2082.7 765.9L2083.6 767.3L2084.5 765.1L2085.5 767.8L2086.4 764.9L2087.3 765.9L2088.2 763.6L2089.2 765.8L2090.1 763.8L2091.0 766.9L2091.9 763.4L2092.8 766.5L2093.8 763.5L2094.7 766.8L2095.6 763.6L2096.5 765.9L2097.5 763.1L2098.4 765.2L2099.3 763.8L2100.2 762.6L2101.1 764.0L2102.0 760.9L2102.8 765.1L2103.7 761.0L2104.6 763.4L2105.5 760.9L2106.4 764.4L2107.3 761.6L2108.2 763.0L2109.0 760.3L2109.9 763.3L2110.8 760.6L2111.7 761.7L2112.6 765.4L2113.4 762.2L2114.3 766.8L2115.2 765.2L2116.0 769.2L2116.9 770.0L2117.8 766.1L2118.7 764.8L2119.6 759.6L2120.4 759.5L2121.3 754.3L2122.2 754.1L2123.1 750.1L2124.2 749.1L2125.3 750.1L2126.2 755.5L2127.1 755.9L2128.0 762.1L2128.9 762.0L2129.8 767.1L2130.7 769.4L2131.6 766.2L2132.5 767.8L2133.4 765.1L2134.3 768.3L2135.2 765.0L2136.1 768.2L2137.0 766.4L2137.9 769.4L2138.7 765.1L2139.6 769.6L2140.5 764.6L2141.4 768.0L2142.3 766.5L2143.2 768.1L2144.1 766.1L2145.0 769.2L2145.9 765.2L2146.8 767.1L2147.7 767.0L2148.7 763.2L2149.6 765.3L2150.5 760.6L2151.5 764.2L2152.4 760.2L2153.3 761.5L2154.2 758.1L2155.2 760.1L2156.1 754.4L2157.0 757.8L2158.0 752.8L2158.9 753.8L2159.8 756.6L2160.7 756.5L2161.6 762.2L2162.5 760.4L2163.4 765.7L2164.3 764.1L2165.2 769.8L2166.1 769.5L2167.0 767.0L2167.9 771.6L2168.8 767.0L2169.7 770.5L2170.6 768.4L2171.5 771.1L2172.4 766.8L2173.3 770.3L2174.2 767.6L2175.1 770.6L2176.0 766.3L2176.9 769.4L2177.8 766.5L2178.7 770.6L2179.6 766.6L2180.5 770.5L2181.4 766.7L2182.3 770.4L2183.2 766.5L2184.1 770.4L2185.0 765.7L2185.9 768.6L2186.8 766.2L2187.7 770.3L2188.6 766.6L2189.5 768.3L2190.4 766.4L2191.3 769.3L2192.2 766.5L2193.1 769.8L2194.0 766.9L2194.9 768.4L2195.8 765.1L2196.7 768.2L2197.6 767.1L2198.5 765.7L2199.5 767.1L2200.4 764.6L2201.4 766.9L2202.3 762.2L2203.3 764.9L2204.2 761.2L2205.2 765.0L2206.1 762.3L2207.0 761.8L2208.0 765.2L2208.9 762.4L2209.8 766.6L2210.8 764.4L2211.7 769.5L2212.6 766.3L2213.6 769.7L2214.5 769.5L2215.4 767.9L2216.3 771.1L2217.2 768.0L2218.1 770.4L2219.0 769.0L2219.9 771.7L2220.8 769.0L2221.7 771.4L2222.6 768.4L2223.5 770.6L2224.4 768.9L2225.3 771.1L2226.2 768.6L2227.1 770.3L2228.0 767.9L2228.9 770.8L2229.8 768.4L2230.7 770.5L2231.6 768.1L2232.5 771.5L2233.4 767.1L2234.3 771.0L2235.2 768.3L2236.1 770.4L2237.0 767.5L2237.9 770.4L2238.8 768.7L2239.7 771.2L2240.6 768.0L2241.5 770.1L2242.4 769.0L2243.3 770.0L2244.2 768.5L2245.1 771.7L2246.0 769.5L2246.9 767.1L2247.8 769.9L2248.7 766.2L2249.5 769.6L2250.4 766.2L2251.3 769.6L2252.2 766.5L2253.1 767.8L2254.0 764.4L2254.9 767.3L2255.8 764.0L2256.6 767.1L2257.5 764.2L2258.4 767.4L2259.3 762.9L2260.2 765.0L2261.1 763.0L2262.0 764.7L2262.8 761.0L2263.7 764.9L2264.6 761.9L2265.5 763.8L2266.4 761.4L2267.3 762.3L2268.2 759.9L2269.1 762.5L2269.9 759.7L2270.8 762.7L2271.7 758.2L2272.6 759.9L2273.5 763.0L2274.4 759.8L2275.2 764.9L2276.1 761.2L2277.0 765.6L2277.9 763.2L2278.8 766.9L2279.7 766.2L2280.5 768.3L2281.4 767.2L2282.3 769.5L2283.2 770.6L2284.1 768.3L2285.0 771.5L2285.9 769.0L2286.8 771.5L2287.7 768.3L2288.6 770.2L2289.5 768.2L2290.4 771.7L2291.3 768.9L2292.2 771.6L2293.1 767.4L2294.0 770.7L2294.9 767.4L2295.8 770.8L2296.7 768.6L2297.7 771.7L2298.6 769.0L2299.5 771.2L2300.4 768.1L2301.3 771.0L2302.2 769.3L2303.1 772.0L2304.0 768.0L2304.9 770.9L2305.8 768.8L2306.7 770.9L2307.6 768.5L2308.5 772.3L2309.4 768.3L2310.3 772.1L2311.2 768.3L2312.1 771.4L2313.0 769.1L2313.9 770.9L2314.8 768.3L2315.7 771.4L2316.6 769.7L2317.5 771.5L2318.4 768.0L2319.3 772.1L2320.2 769.0L2321.1 770.9L2322.0 768.4L2322.9 772.0L2323.8 769.6L2324.7 772.2L2325.6 768.4L2326.5 771.4L2327.4 768.1L2328.4 772.1L2329.3 768.0L2330.2 771.5L2331.1 768.8L2332.0 772.1L2332.9 769.8L2333.8 771.4L2334.7 769.9L2335.6 772.9L2336.5 768.2L2337.4 771.3L2338.3 769.3L2339.2 772.4L2340.1 769.1L2341.0 772.4L2341.9 768.9L2342.8 770.8L2343.7 771.3L2344.5 769.4L2345.4 771.4L2346.3 766.5L2347.2 770.9L2348.0 765.7L2348.9 768.8L2349.8 765.2L2350.7 768.6L2351.5 765.7L2352.4 765.9L2353.3 767.8L2354.2 765.9L2355.0 769.2L2355.9 766.7L2356.8 769.7L2357.7 766.9L2358.6 770.7L2359.5 767.1L2360.3 770.6L2361.2 768.5L2362.1 770.8L2363.0 772.3L2363.9 770.1L2364.8 773.2L2365.7 769.7L2366.6 772.6L2367.5 769.9L2368.4 771.7L2369.3 768.8L2370.2 771.7L2371.1 769.1L2372.0 773.5L2372.9 770.1L2373.8 771.7L2374.7 769.9L2375.6 771.8L2376.5 768.6L2377.4 771.8L2378.3 770.3L2379.2 771.8L2380.1 768.7L2381.0 772.9L2381.9 770.6L2382.8 771.8L2383.7 769.9L2384.6 772.3L2385.5 769.1L2386.4 773.4L2387.3 770.4L2388.2 771.9L2389.1 770.4L2390.1 772.2L2391.0 770.5L2391.9 772.4L2392.8 769.6L2393.7 772.8L2394.6 769.2L2395.5 773.7L2396.4 770.1L2397.3 773.0L2398.2 770.1L2399.1 774.0L2400.0 770.3L2400.9 773.0L2401.8 770.8L2402.7 774.0L2403.6 769.6L2404.5 773.6L2405.4 769.7L2406.3 773.0L2407.2 769.6L2408.1 772.7L2409.0 771.3L2409.9 773.7L2410.8 769.9L2411.7 773.5L2412.6 770.3L2413.5 773.5L2414.4 771.4L2415.3 773.6L2416.2 769.7L2417.1 772.5L2418.0 771.0L2418.9 773.6L2419.8 770.8L2420.7 773.9L2421.6 771.3L2422.5 773.8L2423.4 770.6L2424.3 774.2L2425.2 770.4L2426.1 774.1L2427.0 771.1L2427.9 774.6L2428.8 771.0L2429.7 774.0L2430.6 771.1L2431.5 774.5L2432.4 770.4L2433.3 774.0L2434.2 770.0L2435.1 774.7L2436.0 771.2L2436.9 773.4L2437.8 771.3L2438.7 773.4L2439.6 771.4L2440.5 773.2L2441.4 770.5L2442.3 773.8L2443.2 770.3L2444.1 773.1L2445.0 771.5L2446.0 775.0L2446.9 770.4L2447.8 775.1L2448.7 770.2L2449.6 775.0L2450.5 770.9L2451.4 775.2L2452.3 772.0L2453.2 774.2L2454.1 771.1L2455.0 774.9L2455.9 771.2L2456.8 773.7L2457.7 770.6L2458.6 774.4L2459.5 771.1L2460.4 773.4L2461.3 770.5L2462.2 773.5L2463.1 770.5L2464.0 774.8L2464.9 771.6L2465.8 774.8L2466.7 771.6L2467.6 775.5L2468.5 771.0L2469.4 773.6L2470.3 771.8L2471.2 774.3L2472.1 771.1L2473.0 773.2"/><path stroke="#f00" d="M1564.7 750.2L1565.6 769.3L1566.5 745.6L1567.4 766.2L1568.3 736.1L1569.2 763.6L1570.1 727.8L1571.0 760.1L1571.9 721.5L1572.8 754.9L1573.7 717.5L1574.6 755.0L1575.5 706.9L1576.4 760.2L1577.3 703.5L1578.2 761.8L1579.1 696.1L1580.0 763.6L1580.9 687.5L1581.8 760.4L1582.7 684.8L1583.6 755.5L1584.5 687.0L1585.4 751.3L1586.3 692.8L1587.2 749.1L1588.1 693.9L1589.0 750.6L1589.9 696.6L1590.8 750.7L1591.7 700.0L1592.6 752.5L1593.5 703.9L1594.4 752.9L1595.3 705.8L1596.2 753.1L1597.1 705.5L1598.0 754.2L1598.9 704.9L1599.8 754.4L1600.7 707.8L1601.6 757.1L1602.5 711.2L1603.4 757.2L1604.3 714.0L1605.2 759.9L1606.1 720.3L1607.0 761.6L1607.9 721.3L1608.8 762.9L1609.7 725.4L1610.6 760.6L1611.5 729.2L1612.4 757.7L1613.3 732.1L1614.2 758.1L1615.1 734.1L1616.0 756.2L1616.9 739.6L1617.8 758.0L1618.7 740.3L1619.6 757.4L1620.5 744.5L1621.4 761.0L1622.3 743.7L1623.2 761.0L1624.1 748.7L1625.0 762.6L1625.9 751.4L1626.8 764.9L1627.7 753.5L1628.6 766.9L1629.5 754.2L1630.4 769.9L1631.3 752.1L1632.2 768.1L1633.1 754.3L1634.0 769.8L1634.9 750.8L1635.8 769.4L1636.7 751.7L1637.6 767.7L1638.5 749.5L1639.4 764.9L1640.3 750.3L1641.2 764.8L1642.1 749.9L1643.0 761.0L1643.9 748.9L1644.8 756.5L1645.7 746.8L1646.6 755.5L1647.5 748.4L1648.4 752.5L1649.3 747.6L1650.2 752.4L1651.1 746.9L1652.0 755.7L1652.9 746.7L1653.8 757.2L1654.7 745.4L1655.6 756.6L1656.5 744.4L1657.4 759.8L1658.3 743.6L1659.2 762.1"/><path stroke="#f00" d="M1660.5 742.8L1661.4 766.7L1662.3 743.8L1663.2 768.6L1664.1 741.6L1665.0 768.4L1665.9 743.9L1666.8 769.5L1667.7 742.4L1668.6 767.9L1669.5 744.6L1670.4 769.0L1671.3 743.0L1672.2 769.4L1673.1 747.5L1674.0 770.0L1674.9 750.0L1675.8 767.8L1676.7 752.2L1677.6 768.8L1678.5 755.0L1679.4 770.0L1680.3 758.4L1681.2 770.2L1682.1 762.5L1683.0 767.6L1683.9 761.5L1684.8 766.7L1685.7 754.4L1686.6 766.5L1687.5 752.0L1688.4 765.9L1689.3 747.5L1690.2 764.3L1691.1 740.6L1692.0 765.3L1692.9 744.8L1693.8 763.7L1694.7 748.4L1695.6 765.9L1696.5 753.0L1697.4 765.7L1698.3 757.1L1699.2 767.4L1700.1 758.6L1701.0 769.7L1701.9 764.0L1702.8 770.1L1703.7 764.1L1704.6 767.7L1705.5 767.2L1706.4 766.8L1707.3 766.7L1708.2 764.9L1709.1 766.8L1710.0 763.0L1710.9 765.3L1711.8 762.9L1712.7 766.3L1713.6 763.9L1714.5 768.0L1715.4 765.7L1716.3 768.3L1717.2 766.7L1718.1 765.8L1719.0 766.5L1719.9 767.9L1720.8 769.4L1721.7 766.9L1722.6 770.0L1723.5 765.0L1724.4 770.1L1725.3 762.7L1726.2 770.4L1727.1 759.3L1728.0 767.4L1728.9 757.6L1729.8 766.8L1730.7 756.4L1731.6 766.6L1732.5 755.0L1733.4 766.5L1734.3 752.5L1735.2 764.2L1736.1 750.2L1737.0 759.5L1737.9 747.8L1738.8 756.1L1739.7 745.9L1740.6 754.8L1741.5 727.6L1742.4 749.9L1743.3 712.5L1744.2 749.6L1745.1 697.0L1746.0 747.9L1746.9 682.3L1747.8 749.5L1748.7 665.1L1749.6 750.9L1750.5 648.3L1751.4 756.9L1752.3 652.2L1753.2 760.6L1754.1 669.9L1755.0 763.9L1755.9 689.5L1756.8 767.8L1757.7 706.9L1758.6 767.9L1759.5 728.0L1760.4 764.9L1761.3 746.1L1762.2 767.8L1763.1 757.4L1764.0 765.6L1764.9 755.4L1765.8 765.4L1766.7 751.5L1767.6 763.6L1768.5 747.9L1769.4 763.4L1770.3 745.6L1771.2 763.1L1772.1 741.1L1773.0 759.9L1773.9 740.2L1774.8 759.4L1775.7 737.7L1776.6 759.5L1777.5 736.1L1778.4 760.1L1779.3 739.8L1780.2 757.3L1781.1 740.3L1782.0 756.6L1782.9 744.8L1783.8 760.5L1784.7 747.0L1785.6 761.5L1786.5 752.0L1787.4 761.2L1788.3 754.7L1789.2 763.9L1790.1 758.8L1791.0 765.9L1791.9 759.2L1792.8 767.0L1793.7 762.8L1794.6 768.2L1795.5 762.0L1796.4 768.0L1797.3 760.2L1798.2 764.5L1799.1 760.0L1800.0 760.8L1800.9 760.1L1801.8 759.3L1802.7 759.4L1803.6 764.3L1804.5 756.9L1805.4 766.3L1806.3 758.5L1807.2 765.0L1808.1 759.2L1809.0 766.1L1809.9 756.3L1810.8 766.2L1811.7 755.8L1812.6 766.5L1813.5 756.3L1814.4 765.4L1815.3 757.9L1816.2 767.9L1817.1 757.7L1818.0 765.9L1818.9 756.9L1819.8 765.9L1820.7 758.1L1821.6 764.5L1822.5 755.3L1823.4 765.4L1824.3 755.8L1825.2 766.2L1826.1 755.7L1827.0 765.3L1827.9 756.5L1828.8 767.1L1829.7 756.4L1830.6 765.8L1831.5 755.8L1832.4 766.3L1833.3 757.7L1834.2 765.4L1835.1 756.1L1836.0 761.6L1836.9 758.3L1837.8 760.5L1838.7 755.5L1839.6 758.3L1840.5 753.4L1841.4 759.6L1842.3 751.0L1843.2 760.8L1844.1 749.1L1845.0 761.7L1845.9 749.3L1846.8 763.6L1847.7 749.1L1848.6 763.4L1849.5 746.6L1850.4 763.0L1851.3 743.6L1852.2 760.1L1853.1 747.9L1854.0 759.6L1854.9 749.1L1855.8 755.9L1856.7 749.4L1857.6 751.4L1858.5 751.9L1859.4 755.6L1860.3 752.9L1861.2 760.9L1862.1 754.2L1863.0 764.1L1863.9 753.3L1864.8 766.6L1865.7 753.7L1866.6 768.9L1867.5 758.5L1868.4 769.0L1869.3 757.4L1870.2 768.9L1871.1 757.9L1872.0 768.3L1872.9 758.4L1873.8 767.3L1874.7 760.1L1875.6 769.1L1876.5 762.2L1877.4 768.8L1878.3 763.1L1879.2 768.1L1880.1 766.4L1881.0 769.2L1881.9 766.0L1882.8 771.3L1883.7 767.6L1884.6 770.1L1885.5 767.4L1886.4 769.6L1887.3 765.8L1888.2 768.6"/><path stroke="#00f" d="M1437.0 529.5L1437.9 526.4L1438.7 530.2L1439.6 525.8L1440.5 527.5L1441.3 525.1L1442.2 526.7L1443.1 522.7L1443.9 525.4L1444.8 521.0L1445.7 524.2L1446.5 520.9L1447.4 521.2L1448.3 522.5L1449.3 521.3L1450.2 524.5L1451.1 520.5L1452.1 525.3L1453.0 521.2L1454.0 526.0L1454.9 522.8L1455.8 525.9L1456.8 523.3L1457.7 525.4L1458.6 526.9L1459.5 522.7L1460.4 525.1L1461.3 519.9L1462.2 521.7L1463.1 519.5L1464.0 519.2L1464.9 517.6L1465.8 512.2L1466.7 513.2L1467.5 507.6L1468.4 509.3L1469.3 504.1L1470.2 502.6L1475.4 475.6L1479.9 448.4L1481.0 449.6L1482.1 448.4L1486.8 471.5L1492.0 504.6L1492.9 505.9L1493.8 510.0L1494.7 510.4L1495.6 515.8L1496.5 514.8L1497.4 520.2L1498.3 519.5L1499.2 523.3L1500.1 525.8L1500.9 523.1L1501.8 526.2L1502.7 525.4L1503.5 527.9L1504.4 525.5L1505.3 530.2L1506.1 527.3L1507.0 531.7L1507.9 528.4L1508.7 533.0L1509.6 531.6L1510.5 530.0L1511.4 534.2L1512.3 530.9L1513.1 533.2L1514.0 530.6L1514.9 534.3L1515.8 531.0L1516.7 533.8L1517.6 531.0L1518.5 534.9L1519.3 531.8L1520.2 535.0L1521.1 532.5L1522.0 533.7L1522.9 534.8L1523.8 531.0L1524.7 534.1L1525.6 531.7L1526.5 534.8L1527.4 531.4L1528.3 534.2L1529.2 532.0L1530.2 534.6L1531.1 531.8L1532.0 533.5L1532.9 530.8L1533.8 532.8L1534.7 529.6L1535.6 533.9L1536.5 531.6L1537.4 530.8L1538.3 531.7L1539.2 530.3L1540.1 531.7L1541.0 529.6L1541.9 531.7L1542.8 529.3L1543.6 530.4L1544.5 527.1L1545.4 531.7L1546.3 528.5L1547.2 530.1L1548.1 527.8L1549.0 528.5L1549.9 527.7L1550.8 523.6L1551.7 525.0L1552.5 520.9L1553.4 521.8L1554.3 517.3L1555.2 517.1L1556.0 519.3L1556.8 519.8L1557.7 523.4L1558.5 521.8L1559.3 525.4L1560.2 526.9L1561.1 522.9L1562.0 524.2L1562.9 520.8L1563.8 523.0L1564.7 520.8L1565.5 522.9L1566.4 519.2L1567.3 521.1L1568.2 517.7L1569.1 519.7L1570.0 516.3L1570.9 518.3L1571.8 517.1L1572.7 515.8L1573.7 516.7L1574.6 512.7L1575.5 516.3L1576.5 511.0L1577.4 513.9L1578.4 509.5L1579.3 512.3L1580.2 508.8L1581.2 510.4L1582.1 508.8L1583.0 506.4L1583.9 508.6L1584.8 504.8L1585.7 507.6L1586.6 503.5L1587.5 506.9L1588.3 503.4L1589.2 505.9L1590.1 502.5L1591.0 504.4L1591.9 500.9L1592.8 502.7L1593.7 500.5L1594.6 500.5L1595.5 500.6L1596.5 497.2L1597.4 499.2L1598.3 496.9L1599.2 498.3L1600.2 496.1L1601.1 497.7L1602.0 493.3L1603.0 496.3L1603.9 494.3L1604.8 492.9L1605.8 497.4L1606.7 495.3L1607.6 499.0L1608.6 498.6L1609.5 502.5L1610.4 500.9L1611.3 504.0L1612.3 502.1L1613.2 504.6L1614.1 506.4L1615.0 502.3L1615.9 505.7L1616.8 502.8L1617.7 504.0L1618.6 501.2L1619.5 502.6L1620.4 505.3L1621.3 502.6L1622.3 508.4L1623.2 505.0L1624.1 510.4L1625.0 508.4L1626.0 512.3L1626.9 510.2L1627.8 512.9L1628.7 515.1L1629.6 512.6L1630.5 515.5L1631.4 513.5L1632.3 516.9L1633.2 514.7L1634.1 517.8L1635.0 513.9L1636.0 517.2L1636.9 514.7L1637.8 518.1L1638.7 515.8L1639.6 518.6L1640.5 517.3L1641.4 520.5L1642.3 519.2L1643.2 517.1L1644.1 521.5L1645.0 519.1L1645.9 520.8L1646.8 518.4L1647.7 521.8L1648.6 519.6L1649.5 523.2L1650.5 519.6L1651.4 522.6L1652.3 520.5L1653.2 524.7L1654.1 521.4L1655.0 524.5L1655.9 521.7L1656.8 523.3L1657.7 524.1L1658.6 521.5L1659.5 525.3L1660.4 521.9L1661.3 526.1L1662.2 523.3L1663.1 526.2L1664.0 524.8L1665.0 527.7L1665.9 524.9L1666.8 528.3L1667.7 524.7L1668.6 529.0L1669.5 525.8L1670.4 528.4L1671.3 527.5L1672.2 525.4L1673.1 528.6L1674.1 524.4L1675.0 527.9L1675.9 524.2L1676.8 527.1L1677.8 524.8L1678.7 527.3L1679.6 523.8L1680.5 526.2L1681.4 524.3L1682.4 525.3L1683.3 523.3L1684.2 525.4L1685.1 522.6L1686.1 525.2L1687.0 522.4L1687.9 523.3L1688.8 525.4L1689.7 524.7L1690.6 528.4L1691.4 525.6L1692.3 531.6L1693.2 528.1L1694.1 531.6L1695.0 532.5L1695.9 530.2L1696.8 532.1L1697.6 528.8L1698.5 532.8L1699.4 528.3L1700.3 531.3L1701.2 529.9L1702.1 531.5L1703.0 529.4L1703.8 531.4L1704.7 528.1L1705.6 532.1L1706.5 529.5L1707.4 528.3L1708.3 532.0L1709.3 528.2L1710.2 532.3L1711.1 529.1L1712.0 532.7L1713.0 528.9L1713.9 532.3L1714.8 531.0L1715.7 533.8L1716.6 531.3L1717.6 534.3L1718.5 531.2L1719.4 535.1L1720.3 531.2L1721.3 534.4L1722.2 532.7L1723.1 533.7L1724.0 533.8L1724.9 532.1L1725.9 533.7L1726.8 529.9L1727.7 533.9L1728.6 528.9L1729.6 532.0L1730.5 528.3L1731.4 529.5L1732.3 529.5L1733.2 525.6L1734.1 526.3L1734.9 522.4L1735.8 522.2L1736.7 517.5L1737.6 518.1L1738.5 521.8L1739.3 521.5L1740.2 527.0L1741.1 527.6L1741.9 532.5L1742.8 533.7L1743.7 532.2L1744.6 536.3L1745.6 532.4L1746.5 535.0L1747.4 533.8L1748.3 535.9L1749.2 533.8L1750.1 535.8L1751.1 534.1L1752.0 535.5L1752.9 532.9L1753.8 536.7L1754.7 533.9L1755.6 537.1L1756.6 533.3L1757.5 536.1L1758.4 535.7L1759.3 533.2L1760.3 537.3L1761.2 533.4L1762.1 536.7L1763.1 532.6L1764.0 536.3L1765.0 532.2L1765.9 535.4L1766.8 533.2L1767.8 535.6L1768.7 533.7L1769.6 532.0L1770.4 536.7L1771.3 532.4L1772.2 536.7L1773.0 533.1L1773.9 537.5L1774.8 534.2L1775.7 538.1L1776.5 535.8L1777.4 538.0L1778.3 535.5L1779.1 538.4L1780.0 537.8L1780.9 536.5L1781.8 538.0L1782.7 536.6L1783.5 539.4L1784.4 536.1L1785.3 537.2L1786.2 534.4L1787.1 537.7L1788.0 535.1L1788.9 537.2L1789.7 533.6L1790.6 535.8L1791.5 532.9L1792.4 534.7L1793.3 535.7L1794.2 534.2L1795.1 537.2L1796.0 533.8L1796.9 536.1L1797.9 533.6L1798.8 536.5L1799.7 534.2L1800.6 536.6L1801.5 534.1L1802.4 537.9L1803.3 535.1L1804.2 537.1L1805.1 534.7L1806.0 537.8L1807.0 534.6L1807.9 539.3L1808.8 536.4L1809.7 537.8L1810.6 536.7L1811.5 538.0L1812.4 537.1L1813.3 540.2L1814.2 536.8L1815.1 540.0L1816.0 536.3L1817.0 540.2L1817.9 537.2L1818.8 539.6L1819.7 537.7L1820.6 539.3L1821.5 538.9L1822.4 537.4L1823.3 539.9L1824.2 537.5L1825.1 540.3L1825.9 538.6L1826.8 540.7L1827.7 539.0L1828.6 541.2L1829.5 537.8L1830.4 540.8L1831.3 538.3L1832.2 540.9L1833.1 539.4L1833.9 541.6L1834.8 539.5L1835.7 542.8L1836.6 540.3L1837.5 542.4L1838.4 539.9L1839.3 542.3L1840.2 540.5L1841.0 542.4L1841.9 540.0L1842.8 543.9L1843.7 539.5L1844.6 543.2L1845.5 541.5L1846.4 543.3L1847.3 540.4L1848.2 543.6L1849.0 541.2L1849.9 543.5L1850.8 540.5L1851.7 544.7L1852.6 543.0L1853.5 541.6L1854.4 544.5L1855.3 542.5L1856.2 544.5L1857.0 540.9L1857.9 544.9L1858.8 541.3L1859.7 544.4L1860.6 541.9L1861.5 545.1L1862.4 541.8L1863.3 544.4L1864.2 542.6L1865.0 544.5L1865.9 542.2L1866.8 545.2L1867.7 542.7L1868.6 545.7L1869.5 542.6L1870.4 545.3L1871.3 541.8L1872.1 545.6L1873.0 541.5L1873.9 545.6L1874.8 542.9L1875.7 545.0L1876.6 543.1L1877.5 546.2L1878.4 542.7L1879.3 545.5L1880.1 541.7L1881.0 545.7L1881.9 541.6L1882.8 545.4L1883.7 544.0L1884.6 541.4L1885.5 544.8L1886.4 541.5L1887.2 543.5L1888.1 539.9L1889.0 542.1L1889.9 539.1L1890.8 542.0L1891.7 538.7L1892.6 540.3L1893.4 537.3L1894.3 539.3L1895.2 537.4L1896.1 537.8L1897.0 540.8L1897.9 538.3L1898.8 541.7L1899.7 538.4L1900.6 541.6L1901.5 540.1L1902.3 543.7L1903.2 541.1L1904.1 544.3L1905.0 541.6L1905.9 544.3L1906.8 543.3L1907.7 545.4L1908.6 545.1L1909.5 544.5L1910.4 547.6L1911.3 544.2L1912.2 547.6L1913.1 544.2L1914.1 546.8L1915.0 544.4L1915.9 547.1L1916.8 544.2L1917.7 545.9L1918.6 544.6L1919.5 546.8L1920.4 544.8L1921.3 546.1L1922.2 544.2L1923.2 547.2L1924.1 544.5L1925.0 547.3L1925.9 543.7L1926.8 547.6L1927.7 543.1L1928.6 548.1L1929.5 544.5L1930.4 547.3L1931.3 543.3L1932.3 547.8L1933.2 543.7L1934.1 548.0L1935.0 544.3L1935.9 547.1L1936.8 544.5L1937.7 547.9L1938.6 544.5L1939.5 546.6L1940.4 543.7L1941.4 546.7L1942.3 543.6L1943.2 548.1L1944.1 544.6L1945.0 548.5L1945.9 546.1L1946.8 545.2L1947.7 547.0L1948.6 545.1L1949.5 546.6L1950.4 544.3L1951.4 546.2L1952.3 543.5L1953.2 546.7L1954.1 543.9L1955.0 546.5L1955.9 544.0L1956.8 547.1L1957.7 544.0L1958.6 546.7L1959.5 543.9L1960.4 546.6L1961.4 543.3L1962.3 545.2L1963.2 542.2L1964.1 544.9L1965.0 542.1L1965.9 545.2L1966.8 543.0L1967.7 544.5L1968.6 541.5L1969.5 544.3L1970.4 541.4L1971.4 544.4L1972.3 541.7L1973.2 544.8L1974.1 541.3L1975.0 544.4L1975.9 543.0L1976.8 542.3L1977.8 545.8L1978.7 543.5L1979.7 547.8L1980.6 545.5L1981.5 549.6L1982.5 545.6L1983.4 550.5L1984.4 547.7L1985.3 550.3L1986.2 552.4L1987.1 548.1L1988.0 552.1L1988.9 549.3L1989.8 551.3L1990.7 547.4L1991.6 551.3L1992.5 547.5L1993.5 550.1L1994.4 548.6L1995.3 550.0L1996.2 548.1L1997.1 550.8L1998.0 547.0L1998.9 549.6L1999.8 546.3L2000.7 550.6L2001.6 546.2L2002.5 550.0L2003.4 546.7L2004.3 549.0L2005.2 546.8L2006.1 549.8L2007.0 545.4L2008.0 549.8L2008.9 546.8L2009.8 549.7L2010.7 545.2L2011.6 548.3L2012.5 544.9L2013.4 549.5L2014.3 547.1L2015.2 545.2L2016.1 547.9L2017.0 545.2L2017.9 549.8L2018.8 546.9L2019.7 550.1L2020.6 545.7L2021.5 548.9L2022.4 547.1L2023.3 549.5L2024.2 546.5L2025.1 550.3L2026.0 547.0L2026.9 550.0L2027.8 547.6L2028.7 549.5L2029.6 547.6L2030.5 549.9L2031.4 548.4L2032.4 550.4L2033.3 547.8L2034.2 551.9L2035.1 548.1L2036.0 551.7L2036.9 549.1L2037.8 551.7L2038.7 548.6L2039.6 551.1L2040.5 548.2L2041.4 551.5L2042.3 549.6L2043.2 552.6L2044.1 548.3L2045.0 551.4L2045.9 548.9L2046.8 552.6L2047.7 548.9L2048.6 552.2L2049.5 551.3L2050.4 549.4L2051.3 553.7L2052.2 550.5L2053.1 553.5L2054.0 550.3L2054.9 553.7L2055.8 550.6L2056.7 553.8L2057.6 550.8L2058.5 553.5L2059.4 550.1L2060.3 552.7L2061.2 551.4L2062.1 553.4L2063.0 549.6L2063.9 553.8L2064.8 549.7L2065.7 554.1L2066.6 550.9L2067.5 554.5L2068.4 550.4L2069.3 553.8L2070.2 550.6L2071.2 553.3L2072.1 550.9L2073.0 553.9L2073.9 550.2L2074.8 553.7L2075.7 551.3L2076.6 553.7L2077.5 550.4L2078.4 554.1L2079.3 550.4L2080.2 553.5L2081.1 550.7L2082.0 554.8L2082.9 550.5L2083.8 554.2L2084.7 551.9L2085.6 554.8L2086.5 552.1L2087.4 555.0L2088.3 551.2L2089.2 555.0L2090.1 552.5L2091.0 553.4L2091.9 555.3L2092.8 551.1L2093.7 555.6L2094.6 551.6L2095.5 554.9L2096.4 552.9L2097.3 555.4L2098.3 552.4L2099.2 554.2L2100.1 553.0L2101.0 555.1L2101.9 552.9L2102.8 555.2L2103.7 552.3L2104.6 556.2L2105.5 552.9L2106.4 555.7L2107.3 552.4L2108.2 554.5L2109.1 553.2L2110.0 554.9L2111.0 553.2L2111.9 555.8L2112.8 552.7L2113.7 555.7L2114.6 553.3L2115.5 555.0L2116.4 552.3L2117.3 554.6L2118.2 552.8L2119.1 555.2L2120.0 551.9L2120.9 555.3L2121.8 551.9L2122.7 556.7L2123.7 553.2L2124.6 555.1L2125.5 553.4L2126.4 555.8L2127.3 553.6L2128.2 555.2L2129.1 553.1L2130.0 554.4L2130.9 555.1L2131.8 553.7L2132.7 555.0L2133.6 553.1L2134.5 556.2L2135.4 553.2L2136.3 556.1L2137.2 552.9L2138.1 556.4L2139.0 553.8L2139.9 555.5L2140.8 552.5L2141.7 555.3L2142.6 552.4L2143.5 556.7L2144.4 552.6L2145.3 555.9L2146.2 552.9L2147.1 555.9L2148.0 553.8L2148.9 555.9L2149.8 553.5L2150.7 556.2L2151.6 553.2L2152.5 555.4L2153.4 554.0L2154.3 556.1L2155.2 553.6L2156.1 555.1L2157.0 552.9L2157.8 556.9L2158.7 552.7L2159.6 555.2L2160.5 552.4L2161.4 555.3L2162.3 553.3L2163.2 556.9L2164.1 553.6L2165.0 556.1L2165.9 553.1L2166.8 556.5L2167.7 553.2L2168.6 556.8L2169.5 554.1L2170.4 556.4L2171.3 553.3L2172.2 556.5L2173.1 553.8L2174.0 556.6L2174.9 552.7L2175.8 555.4L2176.7 552.6L2177.6 556.8L2178.5 552.7L2179.4 555.3L2180.3 553.7L2181.2 555.8L2182.1 552.6L2183.0 556.9L2183.9 554.2L2184.8 556.3L2185.7 552.3L2186.6 556.1L2187.5 552.7L2188.4 557.1L2189.3 552.8L2190.2 556.7L2191.1 554.3L2192.0 556.0L2192.9 553.9L2193.8 555.3L2194.7 552.8L2195.6 556.5L2196.5 552.7L2197.4 555.7L2198.3 553.7L2199.2 556.7L2200.1 553.2L2201.0 557.0L2201.9 553.5L2202.8 556.8L2203.7 554.3L2204.6 556.1L2205.5 553.4L2206.4 555.8L2207.3 552.5L2208.2 556.8L2209.1 552.4L2210.0 557.2L2210.9 554.0L2211.8 557.1L2212.6 553.0L2213.5 555.6L2214.4 554.2L2215.3 555.6L2216.2 553.1L2217.1 555.7L2218.0 553.8L2218.9 555.8L2219.8 554.3L2220.7 556.0L2221.6 554.1L2222.5 557.3L2223.4 552.6L2224.3 555.7L2225.2 554.1L2226.1 557.3L2227.0 553.8L2227.9 556.0L2228.8 552.9L2229.7 556.3L2230.6 552.9L2231.5 557.2L2232.4 554.4L2233.3 556.6L2234.2 553.9L2235.1 557.0L2236.0 553.5L2236.9 556.4L2237.8 552.9L2238.7 557.3L2239.6 552.9L2240.5 557.4L2241.4 554.2L2242.3 556.2L2243.2 552.8L2244.1 556.7L2245.0 554.5L2245.9 557.5L2246.8 553.8L2247.7 556.5L2248.6 553.2L2249.5 557.6L2250.4 553.5L2251.3 556.6L2252.2 554.2L2253.1 555.9L2254.0 554.5L2254.9 555.8L2255.8 554.5L2256.7 556.6L2257.6 553.5L2258.5 556.7L2259.4 553.5L2260.3 556.0L2261.2 552.9L2262.1 557.4L2263.0 552.9L2263.9 556.9L2264.8 553.9L2265.7 557.1L2266.6 553.0L2267.4 555.9L2268.3 554.6L2269.2 556.0L2270.1 554.6L2271.0 557.1L2271.9 554.8L2272.8 557.3L2273.7 553.6L2274.6 557.0L2275.5 554.0L2276.4 556.3L2277.3 554.7L2278.2 557.4L2279.1 554.8L2280.0 556.8L2280.9 554.6L2281.8 556.1L2282.7 553.2L2283.6 556.7L2284.5 554.2L2285.4 557.3L2286.3 554.7L2287.2 556.4L2288.1 553.8L2289.0 556.6L2289.9 553.9L2290.8 557.1L2291.7 554.6L2292.6 557.3L2293.5 554.3L2294.4 555.4L2295.3 556.9L2296.2 553.3L2297.1 556.5L2298.0 553.0L2298.9 556.8L2299.8 553.7L2300.7 557.7L2301.6 553.2L2302.5 556.1L2303.4 554.6L2304.3 558.0L2305.2 554.4L2306.1 556.8L2307.0 553.7L2307.9 557.3L2308.8 553.7L2309.7 557.6L2310.6 554.0L2311.5 556.7L2312.4 553.7L2313.3 557.2L2314.2 554.6L2315.1 556.9L2316.0 554.4L2317.0 557.0L2317.9 553.7L2318.8 557.8L2319.7 555.0L2320.6 558.2L2321.5 555.2L2322.4 557.7L2323.3 553.4L2324.2 557.3L2325.1 554.3L2326.0 557.1L2326.9 554.5L2327.8 558.1L2328.7 553.4L2329.6 557.2L2330.5 553.4L2331.4 556.7L2332.3 553.8L2333.2 556.5L2334.1 553.6L2335.0 557.0L2335.9 555.4L2336.8 557.7L2337.7 553.8L2338.6 557.7L2339.5 554.7L2340.4 558.5L2341.3 554.6L2342.2 557.1L2343.1 555.0L2344.0 557.5L2344.9 554.0L2345.8 557.3L2346.7 554.5L2347.6 557.6L2348.5 554.3L2349.4 558.5L2350.3 554.8L2351.2 558.6L2352.1 555.3L2353.0 557.0L2353.9 554.6L2354.8 556.8L2355.7 554.7L2356.6 557.9L2357.5 555.4L2358.4 557.2L2359.3 555.1L2360.2 558.4L2361.1 554.1L2362.1 556.9L2363.0 554.9L2363.9 558.8L2364.8 554.5L2365.7 557.9L2366.6 554.8L2367.5 557.1L2368.4 555.3L2369.3 557.7L2370.2 555.7L2371.1 558.0L2372.0 555.9L2372.9 558.2L2373.8 554.3L2374.7 557.7L2375.6 554.5L2376.5 558.8L2377.4 555.3L2378.3 557.3L2379.2 555.5L2380.1 558.3L2381.0 554.4L2381.9 557.5L2382.8 554.1L2383.7 557.1L2384.6 554.4L2385.5 558.3L2386.4 554.1L2387.3 558.7L2388.2 554.4L2389.1 559.0L2390.0 554.6L2390.9 557.6L2391.8 555.3L2392.7 558.2L2393.6 555.9L2394.5 559.1L2395.4 555.7L2396.3 557.6L2397.2 555.8L2398.1 557.5L2399.0 556.0L2399.9 559.3L2400.8 555.7L2401.7 557.5L2402.6 556.1L2403.5 558.8L2404.4 556.2L2405.3 559.1L2406.3 555.6L2407.2 557.9L2408.1 556.3L2409.0 558.7L2409.9 555.2L2410.8 558.0L2411.7 556.1L2412.6 557.6L2413.5 556.1L2414.4 558.5L2415.3 556.5L2416.2 557.7L2417.1 555.1L2418.0 558.4L2418.9 554.6L2419.8 558.1L2420.7 555.3L2421.6 557.9L2422.5 555.4L2423.4 558.1L2424.3 556.1L2425.2 559.7L2426.1 556.7L2427.0 559.1L2427.9 556.1L2428.8 559.2L2429.7 555.5L2430.6 558.0L2431.5 556.3L2432.4 559.6L2433.3 554.8L2434.2 558.1L2435.1 555.5L2436.0 558.6L2436.9 556.3L2437.8 559.5L2438.7 556.6L2439.6 559.2L2440.5 556.7L2441.4 558.2L2442.3 556.8L2443.2 558.1L2444.1 554.9L2445.0 559.4L2445.9 555.1L2446.8 559.7L2447.7 556.9L2448.6 559.7L2449.5 556.3L2450.4 558.3L2451.4 555.4L2452.3 558.2L2453.2 556.3L2454.1 559.5L2455.0 555.8L2455.9 559.6L2456.8 555.4L2457.7 559.4L2458.6 557.1L2459.5 559.2L2460.4 556.4L2461.3 559.3L2462.2 555.9L2463.1 559.0L2464.0 555.5L2464.9 558.5L2465.8 556.8L2466.7 559.5L2467.6 555.3L2468.5 558.6L2469.4 555.9L2470.3 559.8L2471.2 556.6L2472.1 560.0L2473.0 557.8"/></g><rect x="1493.8" y="785.1" width="8.3" height="7.0" fill="#000"/><rect x="1615.8" y="780.1" width="8.3" height="12.0" fill="#000"/><rect x="1737.7" y="785.1" width="8.3" height="7.0" fill="#000"/><rect x="1859.7" y="780.1" width="8.3" height="12.0" fill="#000"/><rect x="1981.6" y="785.1" width="8.3" height="7.0" fill="#000"/><rect x="2103.5" y="780.1" width="8.3" height="12.0" fill="#000"/><rect x="2225.5" y="785.1" width="8.3" height="7.0" fill="#000"/><rect x="2347.4" y="780.1" width="8.3" height="12.0" fill="#000"/><text x="1619.9" y="852.5" text-anchor="middle" font-size="51" font-weight="bold">20</text><text x="1863.8" y="852.5" text-anchor="middle" font-size="51" font-weight="bold">40</text><text x="2107.7" y="852.5" text-anchor="middle" font-size="51" font-weight="bold">60</text><text x="2351.6" y="852.5" text-anchor="middle" font-size="51" font-weight="bold">80</text><text x="1308.2" y="151.1" font-size="123" font-weight="bold">B</text><text transform="translate(1378.8 453.6) rotate(-90)" text-anchor="middle" font-size="65.5" font-weight="bold">Intensity (a.u.)</text><text x="1955.2" y="946.8" text-anchor="middle" font-size="63.5" font-weight="bold" textLength="462.0" lengthAdjust="spacingAndGlyphs">2<tspan font-size="39" dx="2" dy="-3.2">&#8211;</tspan><tspan dx="3" dy="3.2">Theta (degree)</tspan></text><rect x="2167.9" y="95.5" width="109.2" height="8.5" fill="#000"/><text x="2286.0" y="113.6" font-size="44.2" textLength="69.3" lengthAdjust="spacingAndGlyphs">GO</text><rect x="2167.9" y="151.8" width="109.2" height="8.5" fill="#f00"/><text x="2286.0" y="170.2" font-size="44.2" textLength="64.0" lengthAdjust="spacingAndGlyphs">Spi</text><rect x="2167.9" y="210.6" width="109.2" height="8.5" fill="#00f"/><text x="2286.0" y="228.5" font-size="44.2" textLength="149.3" lengthAdjust="spacingAndGlyphs">Spi-GO</text><clipPath id="clipC"><rect x="183.6" y="1062.0" width="1035.0" height="771.4"/></clipPath><rect x="183.6" y="1062.0" width="1035.0" height="771.4" fill="none" stroke="#000" stroke-width="8.3"/><g clip-path="url(#clipC)" fill="none" stroke-width="5.5" stroke-linejoin="round" stroke-linecap="butt"><path stroke="#000" d="M181.4 1474.7L182.3 1478.1L183.2 1475.4L184.1 1477.7L185.0 1474.5L185.9 1478.6L186.8 1474.1L187.7 1477.9L188.6 1473.4L189.5 1478.2L190.4 1474.6L191.3 1476.6L192.2 1473.3L193.1 1476.7L194.0 1474.6L194.9 1476.1L195.8 1473.8L196.7 1477.1L197.6 1474.3L198.5 1477.5L199.4 1474.0L200.3 1475.1L201.2 1472.7L202.1 1473.5L203.0 1469.8L203.9 1472.6L204.8 1469.3L205.7 1470.0L206.6 1467.9L207.5 1469.4L208.4 1465.6L209.3 1468.6L210.2 1464.9L211.1 1466.6L212.0 1464.4L212.9 1467.1L213.8 1463.2L214.7 1465.4L215.6 1461.3L216.5 1463.5L217.4 1459.7L218.3 1460.3L219.2 1456.8L220.1 1457.4L221.0 1453.9L221.9 1454.9L222.8 1451.8L223.7 1451.4L224.6 1448.6L225.5 1448.4L226.4 1445.6L227.3 1444.3L228.2 1441.6L229.1 1439.2L229.5 1438.0L229.9 1436.8L230.2 1435.6L230.6 1434.3L230.9 1433.1L231.2 1431.9L231.5 1430.7L231.8 1429.5L232.1 1428.3L232.4 1427.0L232.7 1425.8L233.0 1424.6L233.2 1423.4L233.5 1422.1L233.7 1420.9L234.0 1419.7L234.2 1418.5L234.4 1417.3L234.6 1416.1L234.9 1414.8L235.1 1413.6L235.3 1412.4L235.5 1411.2L235.7 1410.0L235.8 1408.8L236.0 1407.5L236.2 1406.3L236.4 1405.1L236.5 1403.9L236.7 1402.6L236.8 1401.4L237.0 1400.2L237.1 1399.0L237.3 1397.7L237.4 1396.5L237.6 1395.3L237.7 1394.1L237.9 1392.9L238.0 1391.7L238.2 1390.5L238.3 1389.3L238.5 1388.1L238.7 1386.9L238.8 1385.7L239.0 1384.5L239.1 1383.3L239.3 1382.1L239.5 1380.9L239.6 1379.7L239.8 1378.5L239.9 1377.2L240.1 1376.0L240.2 1374.7L240.4 1373.4L240.5 1372.0L240.7 1370.6L240.8 1369.2L241.0 1367.7L241.1 1366.2L241.3 1364.7L241.4 1363.1L241.6 1361.6L241.7 1360.0L241.9 1358.5L242.0 1356.9L242.2 1355.4L242.3 1353.9L242.5 1352.4L242.6 1350.9L242.8 1349.4L242.9 1347.9L243.1 1346.3L243.2 1344.7L243.4 1343.1L243.5 1341.5L243.7 1339.7L243.8 1338.0L244.0 1336.1L244.1 1334.2L244.3 1332.3L244.4 1330.2L244.6 1328.2L244.7 1326.1L244.9 1323.9L245.0 1321.7L245.2 1319.5L245.3 1317.2L245.5 1314.9L245.6 1312.6L245.8 1310.3L245.9 1308.0L246.1 1305.7L246.2 1303.3L246.4 1300.9L246.5 1298.3L246.7 1295.6L246.8 1292.8L247.0 1289.7L247.1 1286.4L247.3 1282.8L247.4 1278.8L247.6 1274.2L247.7 1269.3L247.9 1264.0L248.0 1258.4L248.2 1252.5L248.3 1246.4L248.5 1239.9L248.6 1232.3L248.8 1224.0L248.9 1215.6L249.1 1207.7L249.2 1200.8L249.4 1194.6L249.5 1188.6L249.7 1182.8L249.8 1177.3L250.0 1171.9L250.1 1166.9L250.3 1162.1L250.4 1157.6L250.6 1153.5L250.7 1149.6L250.9 1146.0L251.0 1142.5L251.2 1139.2L251.3 1136.0L251.5 1132.9L251.6 1130.1L251.8 1127.4L251.9 1124.8L252.1 1122.5L252.2 1120.3L252.4 1118.2L252.5 1116.4L252.7 1114.6L252.8 1112.9L253.0 1111.4L253.1 1109.9L253.3 1108.5L253.4 1107.1L253.6 1105.7L253.7 1104.3L253.9 1102.9L254.0 1101.4L254.2 1099.7L254.3 1097.9L254.5 1096.1L254.6 1094.4L254.8 1093.2L254.9 1093.9L255.8 1099.3L256.0 1100.7L256.1 1102.0L256.3 1103.3L256.4 1104.6L256.6 1105.8L256.7 1107.1L256.9 1108.5L257.0 1109.9L257.2 1111.4L257.3 1113.0L257.5 1114.7L257.6 1116.6L257.8 1118.8L257.9 1121.2L258.1 1124.0L258.2 1127.0L258.4 1130.3L258.5 1133.8L258.7 1137.5L258.8 1141.3L259.0 1145.2L259.1 1149.2L259.3 1153.3L259.4 1157.8L259.6 1162.5L259.7 1167.5L259.9 1172.6L260.0 1178.0L260.2 1183.5L260.3 1189.1L260.5 1194.8L260.6 1200.5L260.8 1206.0L260.9 1211.4L261.1 1216.8L261.2 1222.6L261.4 1228.8L261.5 1235.8L261.7 1243.9L261.8 1256.4L262.0 1271.5L262.1 1283.0L262.3 1288.1L262.4 1292.0L262.6 1295.3L262.7 1298.0L262.9 1300.3L263.0 1302.3L263.2 1304.2L263.3 1306.0L263.5 1308.0L263.6 1310.2L263.8 1312.7L263.9 1315.8L264.1 1319.3L264.2 1323.0L264.4 1327.0L264.5 1331.0L264.7 1335.0L264.8 1338.8L265.0 1342.3L265.1 1345.5L265.3 1348.6L265.4 1351.6L265.6 1354.5L265.7 1357.3L265.9 1360.1L266.0 1362.7L266.2 1365.3L266.3 1367.7L266.5 1370.0L266.6 1372.2L266.8 1374.2L266.9 1376.2L267.1 1378.1L267.2 1379.9L267.4 1381.7L267.5 1383.5L267.7 1385.1L267.8 1386.8L268.0 1388.4L268.1 1389.9L268.3 1391.3L268.4 1392.7L268.6 1394.0L268.7 1395.3L268.9 1396.5L269.0 1397.6L269.2 1398.8L269.4 1400.0L269.6 1401.1L269.8 1402.3L270.0 1403.5L270.2 1404.7L270.4 1405.8L270.6 1407.0L270.9 1408.2L271.1 1409.4L271.4 1410.5L271.6 1411.7L271.9 1412.9L272.2 1414.1L272.5 1415.3L272.8 1416.5L273.1 1417.7L273.3 1418.9L273.6 1420.1L274.0 1421.3L274.3 1422.4L274.6 1423.6L274.9 1424.8L275.2 1426.0L275.6 1427.1L276.0 1427.6L276.9 1431.8L277.8 1431.5L278.7 1434.6L279.6 1433.5L280.5 1438.3L281.4 1435.6L282.3 1440.8L283.2 1438.1L284.1 1441.9L285.0 1438.8L285.9 1444.0L286.8 1442.0L287.7 1445.2L288.6 1440.1L289.5 1445.6L290.4 1442.3L291.3 1447.6L292.2 1442.2L293.1 1446.7L294.0 1441.7L294.9 1447.5L295.8 1442.4L296.7 1448.6L297.6 1443.2L298.5 1447.6L299.4 1444.2L300.3 1448.3L301.2 1445.1L302.1 1447.6L303.0 1444.5L303.9 1449.7L304.8 1445.4L305.7 1448.9L306.6 1442.9L307.5 1446.9L308.4 1442.1L309.3 1448.7L310.2 1442.3L311.1 1449.4L312.0 1442.6L312.9 1446.9L313.8 1442.7L314.7 1447.8L315.6 1443.6L316.5 1449.1L317.4 1444.8L318.3 1449.0L319.2 1444.8L320.1 1447.8L321.0 1444.7L321.9 1448.1L322.8 1444.1L323.7 1448.9L324.6 1443.5L325.5 1449.1L326.4 1444.3L327.3 1447.0L328.2 1444.1L329.1 1448.4L330.0 1442.9L330.9 1449.4L331.8 1444.1L332.7 1448.9L333.6 1441.5L334.5 1448.6L335.4 1443.8L336.3 1447.6L337.2 1443.5L338.1 1448.2L339.0 1442.9L339.9 1446.1L340.8 1441.8L341.7 1444.7L342.6 1441.1L343.5 1445.9L344.4 1441.8L345.3 1444.0L346.2 1441.7L347.1 1444.3L348.0 1438.6L348.9 1443.4L349.8 1439.5L350.7 1444.2L351.6 1439.4L352.5 1445.2L353.4 1439.2L354.3 1442.9L355.2 1436.8L356.1 1441.7L357.0 1437.3L357.9 1443.1L358.8 1437.3L359.7 1442.3L360.6 1437.5L361.5 1440.8L362.4 1436.4L363.3 1440.6L364.2 1435.6L365.1 1440.9L366.0 1435.1L366.9 1438.3L367.8 1434.6L368.7 1435.4L369.6 1431.3L370.5 1432.6L371.4 1428.9L372.3 1431.2L373.2 1426.4L374.1 1431.9L375.0 1427.0L375.9 1432.4L376.8 1431.2L377.7 1435.4L378.6 1432.1L379.5 1436.5L380.4 1431.4L381.3 1439.1L382.2 1433.9L383.1 1436.5L384.0 1434.3L384.9 1439.1L385.8 1434.3L386.7 1438.9L387.6 1433.0L388.5 1437.8L389.4 1433.7L390.3 1438.6L391.2 1432.0L392.1 1438.8L393.0 1434.4L393.9 1439.1L394.8 1435.0L395.7 1440.1L396.6 1436.6L397.5 1441.6L398.4 1437.2L399.3 1441.4L400.2 1438.2L401.1 1443.7L402.0 1438.7L402.9 1444.0L403.8 1438.6L404.7 1443.8L405.6 1440.8L406.5 1445.2L407.4 1440.3L408.3 1447.6L409.2 1443.2L410.1 1448.8L411.0 1445.0L411.9 1449.4L412.0 1451.4L412.2 1453.7L412.3 1455.7L412.5 1456.8L412.9 1459.2L413.8 1453.9L414.7 1460.1L415.6 1454.9L416.5 1458.9L417.4 1454.7L418.3 1458.7L419.2 1452.3L420.1 1456.7L421.0 1451.9L421.9 1457.0L422.8 1451.5L423.7 1456.3L424.6 1452.2L425.5 1457.8L426.4 1450.0L427.3 1456.4L428.2 1452.3L429.1 1455.0L430.0 1450.2L430.9 1458.0L431.8 1451.1L432.7 1455.1L433.6 1452.3L434.5 1457.0L435.4 1453.0L436.3 1455.7L437.2 1451.8L438.1 1458.7L439.0 1453.7L439.9 1457.4L440.8 1451.5L441.7 1456.7L442.6 1453.9L443.5 1456.7L444.4 1451.8L445.3 1457.9L446.2 1454.9L447.1 1458.3L448.0 1454.0L448.9 1460.1L449.8 1454.8L450.7 1458.3L451.6 1454.7L452.5 1459.4L453.4 1454.9L454.3 1458.9L455.2 1453.7L456.1 1460.1L457.0 1452.6L457.9 1458.4L458.8 1455.1L459.7 1459.1L460.6 1454.2L461.5 1459.6L462.4 1453.8L463.3 1457.2L464.2 1453.2L465.1 1459.8L466.0 1451.8L466.9 1459.3L467.8 1452.3L468.7 1456.4L469.6 1453.1L470.5 1458.6L471.4 1453.6L472.3 1456.3L473.2 1450.6L474.1 1453.2L475.0 1449.0L475.9 1450.1L476.8 1445.4L477.7 1449.9L478.6 1450.3L479.5 1453.6L479.8 1454.8L480.1 1456.0L480.4 1457.2L480.7 1458.4L481.1 1459.8L482.0 1459.8L482.9 1462.5L483.8 1457.4L484.7 1465.5L485.6 1459.2L486.5 1465.0L487.4 1459.1L488.3 1463.2L489.2 1459.7L490.1 1464.6L491.0 1459.9L491.9 1462.3L492.8 1457.7L493.7 1462.9L494.6 1456.8L495.5 1463.3L496.4 1457.9L497.3 1463.9L498.2 1456.9L499.1 1462.1L500.0 1456.4L500.9 1461.3L501.8 1457.9L502.7 1462.5L503.6 1457.3L504.5 1462.8L505.4 1457.9L506.3 1460.7L507.2 1455.4L508.1 1460.2L509.0 1457.1L509.9 1462.3L510.8 1456.3L511.7 1462.5L512.6 1455.5L513.5 1461.7L514.4 1458.2L515.3 1462.7L516.2 1458.1L517.1 1463.3L518.0 1459.3L518.9 1463.1L519.8 1459.3L520.7 1462.0L521.6 1460.3L522.5 1464.2L523.4 1461.2L524.3 1466.3L525.2 1459.3L526.1 1464.4L527.0 1462.6L527.9 1464.8L528.8 1460.8L529.7 1465.8L530.6 1462.3L531.5 1466.9L532.4 1463.5L533.3 1469.6L534.2 1463.0L535.1 1469.7L536.0 1463.8L536.9 1469.6L537.8 1464.9L538.7 1470.8L539.6 1464.3L540.5 1470.3L541.4 1466.7L542.3 1471.4L543.2 1464.7L544.1 1471.1L545.0 1466.7L545.9 1471.3L546.8 1467.3L547.7 1472.2L548.6 1466.6L549.5 1472.0L550.4 1467.2L551.3 1471.0L552.2 1466.1L553.1 1471.3L554.0 1468.3L554.9 1472.4L555.8 1468.0L556.7 1474.2L557.6 1469.4L558.5 1473.1L559.4 1468.7L560.3 1474.9L561.2 1469.2L562.1 1475.7L563.0 1469.7L563.9 1474.6L564.8 1470.2L565.7 1474.0L566.6 1472.3L567.5 1475.4L568.4 1470.9L569.3 1475.7L570.2 1472.4L571.1 1475.9L572.0 1473.5L572.9 1475.7L573.8 1472.3L574.7 1476.0L575.6 1474.2L576.5 1477.2L577.4 1473.3L578.3 1478.9L579.2 1473.4L580.1 1478.9L581.0 1473.8L581.9 1478.9L582.8 1474.0L583.7 1478.8L584.6 1475.1L585.5 1480.3L586.4 1475.4L587.3 1478.9L588.2 1476.2L589.1 1479.6L590.0 1474.0L590.9 1478.9L591.8 1474.4L592.7 1479.9L593.6 1474.3L594.5 1478.8L595.4 1476.4L596.3 1479.8L597.2 1474.8L598.1 1479.9L599.0 1476.4L599.9 1480.1L600.8 1476.4L601.7 1479.0L602.6 1475.3L603.5 1479.0L604.4 1475.0L605.3 1479.8L606.2 1474.3L607.1 1480.5L608.0 1475.7L608.9 1478.9L609.8 1475.2L610.7 1479.6L611.6 1474.0L612.5 1480.0L613.4 1474.7L614.3 1478.3L615.2 1476.2L616.1 1480.3L617.0 1474.3L617.9 1478.9L618.8 1474.7L619.7 1478.6L620.6 1474.4L621.5 1479.0L622.4 1474.0L623.3 1480.4L624.2 1474.5L625.1 1479.1L626.0 1474.3L626.9 1480.5L627.8 1475.6L628.7 1477.8L629.6 1474.7L630.5 1475.7L631.4 1472.0L632.3 1473.1L633.2 1468.3L634.1 1470.3L635.0 1467.0L635.9 1467.8L636.8 1464.7L637.7 1467.1L638.6 1465.1L639.5 1468.1L640.4 1466.8L641.3 1470.4L642.2 1469.6L643.1 1472.5L644.0 1471.8L644.9 1476.0L645.8 1472.2L646.7 1477.4L647.6 1474.9L648.5 1478.3L649.4 1474.8L650.3 1479.2L651.2 1474.8L652.1 1478.9L653.0 1477.0L653.9 1480.5L654.8 1478.0L655.7 1481.7L656.6 1478.4L657.5 1480.6L658.4 1479.1L659.3 1482.5L660.2 1477.9L661.1 1483.1L662.0 1479.5L662.9 1484.2L663.8 1478.9L664.7 1483.4L665.6 1479.5L666.5 1485.1L667.4 1480.0L668.3 1485.5L669.2 1480.4L670.1 1485.1L671.0 1480.7L671.9 1485.4L672.8 1481.8L673.7 1484.2L674.6 1481.6L675.5 1484.9L676.4 1481.2L677.3 1486.6L678.2 1481.1L679.1 1486.2L680.0 1481.0L680.9 1485.4L681.8 1481.2L682.7 1486.6L683.6 1482.5L684.5 1485.2L685.4 1481.1L686.3 1485.4L687.2 1482.9L688.1 1486.0L689.0 1480.9L689.9 1484.9L690.8 1481.1L691.7 1486.5L692.6 1482.5L693.5 1486.7L694.4 1483.7L695.3 1486.2L696.2 1482.5L697.1 1486.9L698.0 1481.6L698.9 1487.9L699.8 1481.8L700.7 1486.4L701.6 1482.0L702.5 1486.5L703.4 1484.3L704.3 1488.5L705.2 1483.4L706.1 1486.5L707.0 1482.8L707.9 1486.6L708.8 1483.3L709.7 1487.7L710.6 1483.6L711.5 1487.4L712.4 1483.9L713.3 1489.7L714.2 1485.3L715.1 1487.8L716.0 1484.8L716.9 1488.9L717.8 1484.7L718.7 1488.6L719.6 1484.9L720.5 1490.5L721.4 1486.8L722.3 1488.5L723.2 1484.4L724.1 1489.2L725.0 1486.0L725.9 1489.3L726.8 1484.7L727.7 1490.7L728.6 1486.5L729.5 1490.5L730.4 1487.0L731.3 1490.0L732.2 1485.5L733.1 1490.2L734.0 1486.1L734.9 1490.1L735.8 1485.9L736.7 1489.2L737.6 1487.6L738.5 1490.7L739.4 1486.6L740.3 1490.5L741.2 1485.7L742.1 1490.5L743.0 1486.6L743.9 1491.6L744.8 1487.2L745.7 1491.4L746.6 1487.3L747.5 1492.2L748.4 1486.1L749.3 1490.9L750.2 1486.5L751.1 1490.4L752.0 1488.2L752.9 1490.8L753.8 1486.4L754.7 1492.4L755.6 1487.9L756.5 1490.5L757.4 1486.6L758.3 1492.0L759.2 1487.3L760.1 1490.3L761.0 1487.2L761.9 1491.3L762.8 1488.6L763.7 1490.4L764.6 1487.1L765.5 1491.0L766.4 1487.8L767.3 1491.9L768.2 1487.6L769.1 1491.3L770.0 1488.6L770.9 1490.8L771.8 1488.5L772.7 1492.0L773.6 1487.2L774.5 1491.3L775.4 1488.4L776.3 1492.4L777.2 1487.4L778.1 1490.7L779.0 1488.6L779.9 1491.2L780.8 1488.2L781.7 1492.7L782.6 1488.3L783.5 1492.1L784.4 1488.4L785.3 1491.4L786.2 1488.1L787.1 1492.2L788.0 1489.6L788.9 1492.3L789.8 1489.4L790.7 1492.7L791.6 1488.2L792.5 1493.0L793.4 1488.5L794.3 1491.1L795.2 1488.0L796.1 1492.7L797.0 1488.1L797.9 1492.1L798.8 1488.7L799.7 1492.3L800.6 1488.0L801.5 1492.7L802.4 1489.1L803.3 1491.4L804.2 1489.8L805.1 1491.9L806.0 1489.2L806.9 1493.3L807.8 1488.7L808.7 1491.6L809.6 1488.1L810.5 1492.0L811.4 1489.9L812.3 1492.3L813.2 1489.6L814.1 1493.4L815.0 1488.8L815.9 1492.4L816.8 1490.1L817.7 1492.7L818.6 1490.0L819.5 1491.8L820.4 1488.6L821.3 1492.6L822.2 1488.7L823.1 1493.4L824.0 1489.7L824.9 1493.3L825.8 1488.9L826.7 1493.7L827.6 1489.0L828.5 1492.9L829.4 1489.4L830.3 1493.7L831.2 1489.5L832.1 1493.3L833.0 1490.6L833.9 1493.8L834.8 1490.5L835.7 1493.2L836.6 1490.6L837.5 1493.7L838.4 1489.9L839.3 1493.9L840.2 1489.6L841.1 1492.7L842.0 1490.5L842.9 1493.2L843.8 1491.1L844.7 1492.4L845.6 1490.9L846.5 1493.3L847.4 1489.3L848.3 1492.6L849.2 1491.2L850.1 1493.4L851.0 1490.2L851.9 1492.6L852.8 1490.2L853.7 1493.6L854.6 1491.0L855.5 1493.1L856.4 1490.4L857.3 1494.4L858.2 1490.0L859.1 1494.3L860.0 1490.1L860.9 1492.8L861.8 1489.8L862.7 1492.8L863.6 1491.3L864.5 1493.9L865.4 1491.6L866.3 1494.5L867.2 1490.4L868.1 1495.0L869.0 1490.0L869.9 1494.5L870.8 1491.1L871.7 1493.6L872.6 1489.7L873.5 1494.2L874.4 1489.7L875.3 1493.5L876.2 1490.2L877.1 1495.1L878.0 1491.8L878.9 1494.5L879.8 1490.7L880.7 1494.5L881.6 1490.5L882.5 1493.7L883.4 1490.1L884.3 1495.1L885.2 1491.9L886.1 1494.5L887.0 1490.3L887.9 1495.3L888.8 1491.6L889.7 1493.7L890.6 1490.7L891.5 1494.8L892.4 1491.3L893.3 1495.4L894.2 1492.1L895.1 1495.4L896.0 1490.1L896.9 1493.6L897.8 1490.2L898.7 1495.6L899.6 1490.7L900.5 1495.3L901.4 1490.4L902.3 1495.3L903.2 1492.4L904.1 1495.4L905.0 1491.5L905.9 1494.5L906.8 1492.2L907.7 1495.2L908.6 1490.9L909.5 1495.9L910.4 1490.7L911.3 1493.9L912.2 1492.5L913.1 1495.7L914.0 1491.8L914.9 1494.2L915.8 1491.6L916.7 1494.0L917.6 1491.9L918.5 1495.4L919.4 1491.9L920.3 1494.7L921.2 1491.0L922.1 1496.1L923.0 1491.0L923.9 1494.7L924.8 1491.9L925.7 1496.0L926.6 1491.6L927.5 1494.1L928.4 1492.2L929.3 1495.1L930.2 1492.0L931.1 1495.9L932.0 1491.4L932.9 1495.7L933.8 1491.8L934.7 1495.6L935.6 1492.9L936.5 1494.9L937.4 1493.0L938.3 1496.0L939.2 1493.0L940.1 1494.7L941.0 1492.8L941.9 1494.9L942.8 1491.1L943.7 1495.9L944.6 1491.7L945.5 1496.1L946.4 1492.9L947.3 1494.8L948.2 1491.6L949.1 1496.1L950.0 1491.8L950.9 1495.2L951.8 1493.0L952.7 1495.7L953.6 1491.9L954.5 1494.5L955.4 1491.2L956.3 1495.8L957.2 1493.1L958.1 1495.5L959.0 1491.5L959.9 1495.1L960.8 1491.9L961.7 1494.6L962.6 1493.3L963.5 1495.4L964.4 1493.0L965.3 1496.3L966.2 1492.4L967.1 1495.0L968.0 1491.4L968.9 1496.2L969.8 1493.1L970.7 1495.2L971.6 1491.4L972.5 1495.0L973.4 1493.4L974.3 1495.5L975.2 1491.6L976.1 1496.4L977.0 1493.6L977.9 1495.1L978.8 1492.5L979.7 1496.0L980.6 1492.2L981.5 1495.3L982.4 1492.2L983.3 1495.2L984.2 1493.2L985.1 1495.2L986.0 1491.5L986.9 1496.4L987.8 1492.9L988.7 1496.5L989.6 1492.4L990.5 1495.9L991.4 1493.6L992.3 1496.3L993.2 1493.1L994.1 1495.9L995.0 1492.9L995.9 1495.4L996.8 1492.3L997.7 1496.4L998.6 1492.1L999.5 1496.2L1000.4 1492.1L1001.3 1495.3L1002.2 1493.5L1003.1 1495.0L1004.0 1491.9L1004.9 1497.1L1005.8 1493.0L1006.7 1495.3L1007.6 1493.1L1008.5 1496.4L1009.4 1492.8L1010.3 1496.4L1011.2 1493.9L1012.1 1496.5L1013.0 1493.9L1013.9 1497.2L1014.8 1492.2L1015.7 1495.7L1016.6 1493.7L1017.5 1497.2L1018.4 1493.6L1019.3 1495.8L1020.2 1493.5L1021.1 1497.1L1022.0 1491.9L1022.9 1496.6L1023.8 1492.5L1024.7 1496.1L1025.6 1492.8L1026.5 1495.6L1027.4 1492.1L1028.3 1497.1L1029.2 1493.0L1030.1 1496.5L1031.0 1493.1L1031.9 1497.2L1032.8 1493.5L1033.7 1495.4L1034.6 1493.8L1035.5 1497.4L1036.4 1492.7L1037.3 1495.4L1038.2 1494.0L1039.1 1495.7L1040.0 1492.7L1040.9 1497.1L1041.8 1492.7L1042.7 1497.3L1043.6 1492.9L1044.5 1496.6L1045.4 1492.9L1046.3 1497.4L1047.2 1493.2L1048.1 1496.1L1049.0 1493.4L1049.9 1496.3L1050.8 1492.5L1051.7 1497.6L1052.6 1492.3L1053.5 1496.1L1054.4 1493.5L1055.3 1497.4L1056.2 1493.7L1057.1 1496.7L1058.0 1493.7L1058.9 1495.7L1059.8 1494.0L1060.7 1497.6L1061.6 1492.5L1062.5 1495.6L1063.4 1493.3L1064.3 1497.8L1065.2 1493.6L1066.1 1496.2L1067.0 1493.6L1067.9 1496.3L1068.8 1492.4L1069.7 1495.9L1070.6 1493.7L1071.5 1497.3L1072.4 1493.2L1073.3 1497.3L1074.2 1493.7L1075.1 1496.2L1076.0 1494.4L1076.9 1496.1L1077.8 1494.6L1078.7 1496.2L1079.6 1493.2L1080.5 1496.6L1081.4 1493.5L1082.3 1496.4L1083.2 1494.8L1084.1 1496.8L1085.0 1494.2L1085.9 1497.5L1086.8 1493.4L1087.7 1497.2L1088.6 1494.9L1089.5 1497.8L1090.4 1493.4L1091.3 1496.7L1092.2 1494.9L1093.1 1497.8L1094.0 1494.3L1094.9 1498.3L1095.8 1494.1L1096.7 1496.4L1097.6 1493.9L1098.5 1496.3L1099.4 1493.2L1100.3 1497.5L1101.2 1493.8L1102.1 1498.2L1103.0 1495.1L1103.9 1498.3L1104.8 1494.4L1105.7 1497.3L1106.6 1494.6L1107.5 1497.1L1108.4 1493.3L1109.3 1497.7L1110.2 1495.1L1111.1 1497.1L1112.0 1495.0L1112.9 1498.2L1113.8 1495.0L1114.7 1498.4L1115.6 1494.2L1116.5 1497.3L1117.4 1493.6L1118.3 1498.5L1119.2 1495.0L1120.1 1497.8L1121.0 1493.5L1121.9 1496.7L1122.8 1495.6L1123.7 1498.0L1124.6 1493.9L1125.5 1498.0L1126.4 1494.0L1127.3 1497.8L1128.2 1495.6L1129.1 1497.5L1130.0 1495.1L1130.9 1497.3L1131.8 1495.8L1132.7 1498.5L1133.6 1495.5L1134.5 1497.8L1135.4 1494.1L1136.3 1497.3L1137.2 1494.0L1138.1 1499.2L1139.0 1495.8L1139.9 1498.2L1140.8 1494.8L1141.7 1499.1L1142.6 1495.5L1143.5 1497.3L1144.4 1495.0L1145.3 1497.7L1146.2 1495.2L1147.1 1499.0L1148.0 1494.4L1148.9 1498.1L1149.8 1495.6L1150.7 1499.3L1151.6 1494.7L1152.5 1499.1L1153.4 1495.6L1154.3 1498.6L1155.2 1495.0L1156.1 1497.8L1157.0 1495.6L1157.9 1499.0L1158.8 1494.6L1159.7 1498.4L1160.6 1494.4L1161.5 1499.0L1162.4 1495.9L1163.3 1498.0L1164.2 1495.6L1165.1 1499.3L1166.0 1495.4L1166.9 1498.6L1167.8 1496.5L1168.7 1500.1L1169.6 1494.7L1170.5 1498.7L1171.4 1495.5L1172.3 1499.5L1173.2 1496.4L1174.1 1498.7L1175.0 1496.9L1175.9 1499.4L1176.8 1496.8L1177.7 1499.4L1178.6 1496.2L1179.5 1498.7L1180.4 1495.7L1181.3 1500.3L1182.2 1495.9L1183.1 1499.9L1184.0 1495.3L1184.9 1499.0L1185.8 1495.4L1186.7 1499.1L1187.6 1496.3L1188.5 1500.1L1189.4 1495.9L1190.3 1500.6L1191.2 1497.2L1192.1 1499.8L1193.0 1496.1L1193.9 1499.5L1194.8 1496.2L1195.7 1500.8L1196.6 1495.7L1197.5 1499.7L1198.4 1495.8L1199.3 1500.4L1200.2 1497.0L1201.1 1499.1L1202.0 1496.6L1202.9 1499.7L1203.8 1495.9L1204.7 1501.3L1205.6 1497.1L1206.5 1500.4L1207.4 1497.3L1208.3 1499.7L1209.2 1497.0L1210.1 1501.4L1211.0 1496.2L1211.9 1500.9L1212.8 1496.8L1213.7 1500.0L1214.6 1497.8L1215.5 1501.2L1216.4 1497.1L1217.3 1500.9L1218.2 1496.6L1219.1 1500.1L1220.0 1497.8L1220.9 1500.9L1221.1 1499.1"/><path stroke="#f00" d="M183.0 1810.0L183.9 1808.9L184.8 1811.6L185.7 1808.8L186.6 1812.3L187.5 1808.1L188.4 1811.4L189.3 1808.7L190.2 1812.4L191.1 1808.5L192.0 1812.7L192.9 1808.1L193.8 1812.4L194.7 1808.5L195.6 1811.5L196.5 1809.3L197.4 1812.2L198.3 1810.0L199.2 1812.3L200.1 1809.5L201.0 1811.5L201.9 1808.6L202.8 1812.5L203.7 1809.2L204.6 1811.0L205.5 1812.0L206.4 1809.7L207.3 1812.3L208.2 1809.2L209.2 1811.9L210.1 1809.8L211.0 1813.6L211.9 1809.6L212.8 1812.4L213.7 1810.3L214.6 1812.7L215.5 1810.1L216.4 1813.1L217.3 1811.3L218.3 1813.2L219.2 1810.3L220.1 1813.7L221.0 1811.1L221.9 1812.1L222.9 1809.1L223.9 1803.5L224.8 1801.5L225.8 1797.0L227.3 1782.7L228.4 1781.4L229.5 1782.7L231.6 1805.6L232.4 1808.8L233.2 1807.2L234.0 1811.4L234.8 1811.0L235.7 1809.3L236.6 1811.9L237.5 1808.9L238.4 1812.8L239.3 1808.1L240.2 1812.0L241.1 1809.3L242.0 1811.8L242.9 1808.1L243.8 1812.0L244.7 1808.6L245.6 1810.0L247.8 1784.0L249.3 1764.3L250.4 1765.0L251.5 1764.3L253.2 1794.8L256.4 1814.3L257.3 1812.1L258.2 1815.7L259.1 1812.9L260.0 1815.4L261.0 1812.1L261.9 1814.4L262.8 1811.0L263.7 1815.4L264.6 1812.2L265.5 1814.2L266.4 1810.6L267.3 1814.3L268.2 1811.7L269.1 1814.8L270.1 1811.7L271.0 1813.2L271.9 1810.8L272.8 1812.8L273.7 1812.1L274.6 1810.4L275.4 1815.2L276.3 1811.6L277.2 1816.3L278.0 1812.6L278.9 1815.8L279.8 1814.4L280.7 1816.8L281.5 1814.7L282.4 1816.4L283.3 1814.6L284.2 1808.8L285.1 1808.4L286.0 1802.0L286.9 1801.2L287.8 1797.0L289.5 1777.3L290.6 1775.9L291.7 1777.3L293.2 1801.3L296.4 1814.3L297.3 1815.0L298.1 1812.0L299.0 1813.9L299.9 1811.1L300.8 1812.0L301.6 1809.1L302.5 1811.6L303.4 1808.4L304.2 1810.5L305.1 1807.8L306.0 1807.0L307.0 1812.4L307.9 1809.6L308.9 1813.1L309.8 1811.0L310.7 1815.2L311.7 1814.3L312.6 1816.4L313.5 1817.1L314.4 1813.7L315.3 1815.8L316.2 1813.9L317.1 1816.5L318.0 1812.1L318.9 1815.0L319.8 1811.7L320.7 1814.6L321.6 1811.4L322.5 1813.7L323.4 1812.1L324.3 1810.0L325.2 1813.4L326.1 1810.8L327.0 1814.6L327.8 1810.5L328.7 1814.4L329.6 1811.9L330.5 1815.2L331.4 1812.7L332.3 1814.0L333.2 1812.9L334.1 1814.7L334.9 1811.6L335.8 1814.9L336.7 1811.7L337.6 1816.1L338.5 1814.3L343.9 1784.0L346.5 1674.7L347.6 1672.8L348.7 1674.7L350.4 1730.0L353.7 1766.8L355.8 1805.6L356.7 1808.7L357.7 1805.4L358.6 1809.9L359.5 1807.4L360.4 1809.8L361.4 1807.3L362.3 1810.0L363.2 1811.8L364.0 1808.0L364.9 1810.9L365.7 1808.5L366.6 1811.1L367.5 1809.4L368.3 1812.0L369.2 1808.9L370.0 1810.7L370.9 1810.0L374.6 1769.7L375.7 1768.1L376.8 1769.7L379.6 1805.6L380.5 1808.8L381.3 1808.3L382.2 1812.7L383.0 1810.5L383.9 1814.3L384.8 1815.4L385.8 1810.1L386.7 1812.4L387.6 1807.8L388.5 1809.0L389.5 1804.9L390.4 1805.6L391.3 1808.7L392.3 1806.5L393.2 1810.0L394.1 1808.3L395.0 1812.7L396.0 1809.9L396.9 1812.1L403.3 1786.2L404.2 1790.4L405.1 1787.5L406.1 1793.4L407.0 1792.8L407.9 1795.7L408.8 1797.0L409.7 1796.3L410.6 1800.0L411.5 1797.1L412.3 1801.7L413.2 1799.2L414.1 1801.3L415.0 1803.7L415.9 1802.5L416.7 1807.3L417.6 1807.5L418.5 1810.0L419.4 1811.4L420.3 1809.8L421.2 1813.6L422.1 1810.7L423.0 1813.8L423.9 1810.5L424.8 1814.5L425.7 1812.0L426.6 1815.7L427.5 1812.6L428.4 1816.4L429.3 1814.3L430.2 1811.4L431.0 1814.0L431.9 1811.3L432.7 1814.2L433.6 1810.6L434.5 1812.9L435.3 1810.0L436.2 1811.7L437.0 1809.6L437.9 1810.0L442.2 1762.4L444.4 1648.8L445.5 1650.9L446.6 1648.8L449.8 1740.8L453.0 1801.3L453.9 1801.5L454.8 1804.9L455.6 1802.6L456.5 1806.8L457.4 1805.6L461.7 1781.9L462.6 1780.3L463.4 1783.5L464.3 1778.8L465.1 1781.5L466.0 1779.7L466.9 1776.9L467.7 1776.5L468.6 1772.6L469.4 1773.2L470.3 1768.9L471.2 1768.4L472.0 1774.8L472.9 1771.7L473.7 1776.5L474.6 1777.6L477.9 1740.8L480.0 1646.6L481.1 1645.1L482.2 1646.6L484.4 1740.8L487.6 1797.0L488.4 1798.7L489.2 1797.2L490.0 1800.7L490.8 1801.3L495.2 1762.4L497.5 1300.0L497.7 1061.3L498.8 1060.5L499.9 1061.3L500.0 1300.0L501.6 1762.4L504.9 1805.6L509.2 1784.0L512.0 1760.0L513.1 1761.5L514.2 1760.0L516.8 1805.6L517.7 1805.8L518.6 1808.0L519.5 1806.3L520.5 1811.3L521.4 1809.7L522.3 1812.7L523.2 1812.1L524.1 1807.7L525.0 1808.9L525.9 1802.5L526.8 1804.2L527.7 1797.7L528.6 1797.0L529.6 1795.9L530.5 1790.8L531.5 1789.8L532.4 1785.6L533.4 1784.0L537.3 1810.0L538.3 1811.6L539.2 1810.1L540.2 1813.4L541.2 1810.0L542.1 1812.5L543.1 1812.1L544.0 1811.8L544.8 1814.3L545.6 1812.7L546.5 1814.3L547.4 1811.7L548.2 1806.0L549.1 1805.4L549.9 1799.2L550.8 1797.8L551.9 1798.6L553.0 1797.8L553.9 1798.3L554.7 1805.4L555.6 1805.1L556.4 1810.7L557.3 1812.1L558.2 1809.5L559.0 1812.8L559.9 1807.4L560.7 1810.2L561.6 1806.7L562.5 1808.8L563.3 1804.9L564.2 1806.6L565.0 1803.6L565.9 1803.5L566.8 1807.3L567.6 1806.9L568.5 1811.2L569.3 1811.5L570.2 1814.3L571.1 1812.2L572.0 1807.6L572.9 1806.1L573.8 1800.7L574.7 1800.3L575.6 1796.7L576.7 1796.0L577.8 1796.7L582.1 1814.3L583.0 1815.8L583.9 1810.7L584.7 1813.4L585.6 1808.7L586.5 1811.8L587.4 1806.9L588.3 1809.1L589.2 1805.6L590.0 1807.6L590.9 1803.7L591.8 1803.5L592.7 1806.8L593.6 1805.5L594.4 1811.1L595.3 1811.1L596.2 1814.3L597.1 1812.9L598.0 1807.9L598.9 1807.5L599.7 1802.7L600.6 1801.2L601.5 1797.8L602.6 1796.2L603.7 1797.8L608.0 1816.4L608.9 1817.2L609.8 1815.5L610.7 1817.2L611.6 1813.1L612.5 1816.4L613.3 1812.9L614.2 1816.3L615.1 1812.9L616.0 1816.7L616.9 1813.0L617.8 1814.3L621.4 1757.8L622.5 1760.0L623.6 1757.8L626.4 1810.0L627.3 1809.0L628.3 1813.3L629.2 1812.0L630.1 1817.4L631.0 1814.5L632.0 1818.8L632.9 1818.6L633.8 1815.8L634.8 1816.9L635.7 1812.6L636.6 1813.3L637.5 1810.0L638.5 1810.2L639.4 1807.8L640.3 1807.3L641.1 1810.1L642.0 1807.7L642.8 1811.5L643.7 1809.2L644.6 1814.1L645.4 1810.0L646.3 1814.9L647.1 1811.3L648.0 1814.3L648.9 1815.7L649.9 1811.2L650.8 1814.2L651.7 1810.8L652.6 1814.6L653.6 1810.8L654.5 1812.1L655.4 1813.8L656.2 1811.3L657.1 1815.9L657.9 1811.8L658.8 1815.7L659.7 1812.3L660.5 1817.2L661.4 1814.6L662.2 1818.0L663.1 1816.4L667.9 1779.4L669.0 1778.7L670.1 1779.4L672.9 1812.1L673.8 1814.6L674.7 1811.7L675.6 1815.2L676.6 1811.6L677.5 1814.2L678.4 1812.5L679.3 1815.6L680.2 1813.1L681.1 1814.7L682.0 1811.9L683.0 1816.2L683.9 1813.0L684.8 1817.0L685.7 1813.4L686.6 1816.5L687.5 1814.1L688.5 1818.0L689.4 1815.4L690.3 1817.4L691.2 1816.4L692.1 1813.3L693.0 1815.0L693.9 1811.7L694.8 1812.9L695.7 1810.0L696.6 1811.9L697.5 1807.0L698.4 1808.9L699.3 1805.4L700.2 1806.5L701.1 1804.0L702.0 1803.5L702.9 1806.5L703.7 1802.5L704.6 1807.9L705.5 1805.1L706.4 1807.5L707.2 1805.3L708.1 1809.7L709.0 1806.6L709.8 1810.7L710.7 1810.0L711.6 1804.3L712.4 1805.1L713.3 1798.1L714.1 1797.9L715.0 1793.5L716.1 1792.6L717.2 1793.5L718.1 1797.8L719.0 1796.3L719.9 1803.0L720.7 1801.8L721.6 1806.4L722.5 1807.8L723.4 1807.8L724.3 1810.8L725.2 1810.2L726.2 1813.0L727.1 1810.9L728.0 1814.3L731.2 1797.0L737.0 1752.7L737.9 1756.1L738.7 1753.0L739.6 1756.5L740.5 1754.7L741.4 1760.4L742.2 1758.3L743.1 1760.3L747.4 1797.0L751.7 1818.6L752.6 1819.9L753.5 1817.5L754.4 1820.2L755.3 1817.1L756.2 1820.5L757.1 1816.8L758.0 1821.1L758.8 1816.7L759.7 1819.7L760.6 1816.9L761.5 1819.8L762.4 1816.8L763.3 1820.1L764.2 1816.6L765.1 1820.4L766.0 1816.9L766.9 1819.6L767.8 1817.5L768.7 1821.0L769.6 1817.9L770.5 1821.1L771.3 1817.6L772.2 1819.1L773.1 1817.9L774.0 1820.7L774.9 1817.6L775.8 1820.5L776.7 1817.9L777.6 1818.6L778.5 1820.2L779.3 1814.6L780.2 1817.5L781.1 1813.1L782.0 1816.8L782.8 1812.6L783.7 1813.9L784.6 1811.0L785.4 1811.6L786.3 1810.0L787.2 1809.2L788.1 1812.4L789.1 1809.3L790.0 1813.9L790.9 1810.5L791.8 1813.7L792.8 1812.3L793.7 1814.6L794.6 1813.1L795.5 1816.2L796.4 1813.4L797.4 1816.7L798.3 1813.6L799.2 1816.4L800.1 1817.7L801.0 1815.3L801.9 1817.6L802.8 1814.7L803.7 1818.4L804.6 1814.2L805.5 1818.1L806.4 1815.8L807.3 1818.8L808.2 1814.2L809.1 1817.0L810.0 1815.7L810.9 1818.2L811.8 1815.2L812.7 1818.6L813.6 1814.3L814.5 1817.3L815.4 1814.7L816.3 1818.8L817.2 1815.6L818.1 1817.4L819.0 1814.5L819.9 1818.1L820.8 1815.2L821.7 1818.5L822.6 1815.7L823.5 1818.6L824.4 1814.0L825.3 1817.9L826.2 1814.1L827.1 1817.5L828.0 1814.9L828.9 1817.7L829.8 1814.8L830.7 1817.6L831.6 1813.9L832.5 1818.6L833.4 1815.8L834.3 1818.8L835.2 1815.0L836.1 1818.3L837.0 1815.2L837.9 1817.1L838.8 1814.4L839.7 1817.9L840.6 1815.4L841.5 1817.2L842.4 1816.4L843.3 1812.4L844.2 1813.4L845.1 1809.6L846.0 1811.0L846.8 1805.0L847.7 1806.9L848.6 1800.3L849.5 1801.4L850.4 1798.9L851.5 1798.1L852.6 1798.9L853.4 1803.7L854.3 1803.0L855.1 1808.2L855.9 1808.1L856.8 1816.0L857.6 1816.4L858.5 1815.7L859.4 1818.2L860.3 1814.8L861.2 1819.2L862.1 1816.2L863.0 1818.1L863.9 1816.0L864.8 1818.6L865.7 1815.4L866.6 1818.9L867.5 1815.4L868.4 1818.5L869.3 1816.6L870.2 1818.1L871.1 1816.7L872.1 1820.0L873.0 1815.8L873.9 1818.9L874.8 1815.4L875.7 1818.5L876.6 1816.3L877.5 1819.9L878.4 1816.8L879.3 1820.4L880.2 1816.4L881.1 1820.3L882.0 1817.6L882.9 1820.0L883.8 1817.2L884.7 1821.0L885.6 1818.6L886.5 1815.0L887.3 1818.2L888.2 1813.5L889.1 1815.0L890.0 1810.5L890.8 1812.8L891.7 1807.4L892.6 1810.2L893.4 1806.3L894.3 1805.6L895.2 1808.1L896.2 1806.4L897.1 1812.2L898.0 1810.6L898.9 1814.0L899.9 1812.5L900.8 1816.4L901.7 1815.4L902.7 1809.0L903.6 1809.4L904.5 1803.7L905.4 1803.7L906.4 1798.3L907.3 1797.0L908.2 1800.8L909.0 1799.0L909.9 1801.4L910.7 1800.1L911.6 1805.8L912.5 1804.2L913.3 1808.0L914.2 1806.9L915.0 1809.5L915.9 1810.0L916.8 1809.8L917.7 1813.1L918.6 1810.6L919.5 1812.4L920.5 1810.1L921.4 1814.8L922.3 1812.5L923.2 1814.6L924.1 1812.8L925.0 1815.9L925.9 1814.3L926.8 1816.5L927.7 1813.9L928.6 1818.6L929.6 1815.1L930.5 1818.3L931.4 1815.4L932.3 1819.4L933.2 1818.6L934.1 1817.0L934.9 1818.9L935.8 1814.3L936.6 1815.7L937.5 1813.1L938.4 1814.5L939.2 1810.5L940.1 1812.7L940.9 1809.8L941.8 1810.0L942.7 1811.7L943.7 1810.2L944.6 1813.7L945.5 1810.8L946.4 1813.0L947.4 1812.0L948.3 1814.8L949.2 1811.7L950.2 1815.4L951.1 1813.6L952.0 1816.4L952.9 1813.5L953.9 1817.3L954.8 1816.4L955.7 1815.3L956.6 1818.7L957.5 1814.8L958.4 1818.7L959.4 1815.8L960.3 1818.4L961.2 1814.8L962.1 1819.7L963.0 1815.1L963.9 1818.8L964.8 1815.7L965.7 1819.6L966.6 1815.8L967.5 1820.2L968.5 1816.2L969.4 1820.6L970.3 1817.6L971.2 1819.0L972.1 1818.6L973.1 1816.6L974.0 1817.1L975.0 1813.5L975.9 1814.2L976.9 1810.5L977.8 1812.4L978.8 1807.4L979.7 1807.8L980.6 1809.8L981.5 1808.1L982.4 1811.8L983.3 1808.8L984.2 1812.5L985.1 1810.9L986.1 1814.6L987.0 1813.1L987.9 1816.2L988.8 1814.4L989.7 1818.9L990.6 1816.7L991.5 1818.6L992.4 1819.6L993.3 1817.4L994.2 1819.5L995.0 1816.7L995.9 1818.1L996.8 1815.8L997.7 1818.7L998.6 1814.5L999.5 1817.9L1000.4 1815.0L1001.2 1816.7L1002.1 1813.2L1003.0 1815.3L1003.9 1813.6L1004.8 1815.1L1005.7 1811.6L1006.6 1815.2L1007.5 1812.1L1008.3 1814.1L1009.2 1812.2L1010.1 1814.8L1011.0 1812.1L1011.9 1811.7L1012.8 1813.1L1013.6 1811.2L1014.5 1814.5L1015.4 1812.2L1016.3 1814.4L1017.2 1812.8L1018.1 1814.9L1018.9 1812.5L1019.8 1814.8L1020.7 1812.7L1021.6 1816.6L1022.5 1812.6L1023.3 1816.2L1024.2 1813.7L1025.1 1815.9L1026.0 1814.1L1026.9 1817.3L1027.8 1813.9L1028.6 1818.0L1029.5 1814.7L1030.4 1816.4L1031.3 1817.5L1032.2 1814.2L1033.1 1818.6L1034.0 1814.8L1034.9 1817.1L1035.7 1815.1L1036.6 1816.8L1037.5 1813.9L1038.4 1816.4L1039.3 1814.9L1040.2 1817.0L1041.1 1814.7L1042.0 1817.1L1042.9 1813.3L1043.8 1817.3L1044.7 1814.0L1045.6 1817.8L1046.4 1814.8L1047.3 1816.6L1048.2 1813.5L1049.1 1816.9L1050.0 1814.5L1050.9 1815.6L1051.8 1814.3L1052.7 1817.3L1053.6 1813.7L1054.5 1815.9L1055.4 1813.9L1056.2 1815.3L1057.1 1813.9L1058.0 1816.1L1058.9 1813.4L1059.8 1816.2L1060.7 1814.3L1061.6 1812.1L1062.5 1815.2L1063.4 1813.4L1064.3 1815.8L1065.2 1814.3L1066.1 1816.1L1067.1 1812.7L1068.0 1815.7L1068.9 1813.3L1069.8 1817.7L1070.7 1814.1L1071.6 1817.4L1072.5 1814.9L1073.4 1817.2L1074.3 1814.1L1075.2 1817.7L1076.1 1815.6L1077.0 1818.4L1078.0 1814.2L1078.9 1817.2L1079.8 1814.8L1080.7 1818.6L1081.6 1815.4L1082.5 1819.0L1083.4 1816.4L1084.3 1819.7L1085.2 1816.6L1086.1 1818.6L1087.0 1816.6L1087.9 1819.1L1088.8 1815.6L1089.8 1819.4L1090.7 1816.5L1091.6 1819.8L1092.5 1816.5L1093.4 1820.6L1094.3 1817.2L1095.2 1818.6L1096.1 1819.6L1097.0 1817.8L1097.9 1820.5L1098.8 1816.2L1099.7 1818.9L1100.6 1816.0L1101.5 1819.3L1102.4 1817.3L1103.3 1819.1L1104.2 1816.6L1105.1 1819.4L1106.0 1815.5L1106.9 1819.7L1107.8 1816.4L1108.7 1819.2L1109.6 1816.9L1110.5 1818.1L1111.4 1815.2L1112.3 1818.5L1113.2 1816.5L1114.1 1818.5L1115.0 1815.5L1115.9 1818.2L1116.8 1815.0L1117.7 1818.4L1118.6 1815.0L1119.5 1817.5L1120.4 1814.7L1121.3 1818.5L1122.2 1814.9L1123.1 1818.3L1124.0 1815.3L1124.9 1818.1L1125.8 1815.6L1126.7 1817.4L1127.6 1816.4L1128.5 1814.3L1129.4 1818.9L1130.3 1814.8L1131.2 1818.5L1132.1 1814.3L1133.0 1819.1L1133.9 1814.9L1134.8 1819.2L1135.7 1815.8L1136.6 1818.6L1137.5 1815.0L1138.4 1818.5L1139.3 1815.1L1140.2 1818.6L1141.1 1814.7L1142.0 1819.6L1142.9 1815.6L1143.8 1819.5L1144.7 1816.1L1145.6 1819.4L1146.5 1816.5L1147.4 1818.9L1148.3 1816.2L1149.2 1819.2L1150.1 1816.6L1151.0 1819.5L1151.9 1815.7L1152.8 1819.2L1153.7 1816.8L1154.6 1819.8L1155.5 1815.7L1156.4 1819.6L1157.3 1815.6L1158.2 1818.6L1159.1 1817.3L1160.0 1819.3L1160.9 1816.0L1161.8 1819.3L1162.7 1816.5L1163.6 1819.9L1164.5 1817.2L1165.4 1819.9L1166.3 1816.9L1167.2 1820.2L1168.1 1816.1L1169.0 1820.0L1169.9 1817.6L1170.8 1818.6L1171.7 1819.7L1172.6 1817.1L1173.5 1819.3L1174.4 1816.6L1175.3 1817.9L1176.2 1815.3L1177.1 1817.3L1178.0 1814.8L1178.9 1817.7L1179.8 1814.6L1180.7 1816.3L1181.6 1813.2L1182.5 1816.1L1183.4 1813.5L1184.3 1815.9L1185.2 1812.9L1186.1 1815.4L1187.0 1811.6L1187.9 1814.2L1188.8 1812.0L1189.7 1814.0L1190.6 1810.8L1191.5 1814.7L1192.4 1812.1L1193.3 1811.0L1194.2 1814.1L1195.1 1812.0L1195.9 1814.7L1196.8 1812.7L1197.7 1815.8L1198.6 1812.7L1199.5 1816.7L1200.4 1813.1L1201.3 1815.5L1202.2 1813.2L1203.0 1817.0L1203.9 1813.9L1204.8 1817.0L1205.7 1814.1L1206.6 1818.2L1207.5 1815.3L1208.4 1819.0L1209.2 1815.7L1210.1 1819.6L1211.0 1817.7L1211.9 1820.2L1212.8 1816.5L1213.7 1821.5L1214.6 1817.5L1215.5 1821.0L1216.3 1817.9L1217.2 1822.3L1218.1 1820.0L1219.0 1820.8"/><path stroke="#00f" d="M183.0 1650.1L183.9 1648.6L184.8 1651.7L185.7 1648.7L186.6 1651.3L187.5 1649.2L188.4 1652.2L189.3 1649.0L190.2 1650.7L191.1 1649.6L192.0 1652.0L192.9 1649.6L193.8 1652.1L194.7 1648.3L195.6 1652.1L196.5 1647.9L197.4 1651.8L198.3 1648.6L199.2 1651.4L200.1 1649.0L201.0 1651.2L201.9 1647.8L202.8 1651.0L203.7 1647.8L204.6 1651.5L205.5 1649.6L206.4 1652.0L207.3 1648.2L208.2 1652.6L209.1 1649.4L210.0 1651.9L210.9 1647.7L211.8 1652.1L212.7 1647.7L213.6 1650.8L214.5 1649.2L215.4 1650.1L216.3 1650.4L217.3 1646.3L218.2 1646.0L219.1 1641.5L220.0 1644.4L221.0 1638.9L221.9 1639.3L222.8 1637.7L223.8 1632.0L224.7 1631.6L225.6 1626.2L226.5 1625.5L227.5 1619.3L228.4 1618.8L229.3 1622.8L230.2 1621.5L231.1 1626.6L232.1 1626.0L233.0 1629.4L233.9 1629.1L234.8 1632.8L235.7 1636.6L236.7 1637.3L237.6 1642.5L238.5 1641.5L239.4 1649.2L240.4 1647.4L241.3 1652.3L242.2 1653.5L243.0 1649.2L243.9 1652.1L244.7 1648.2L245.6 1650.1L246.6 1650.0L247.6 1644.7L248.5 1645.7L249.5 1641.5L250.5 1642.3L251.4 1646.8L252.4 1646.7L253.3 1651.4L254.3 1652.3L255.2 1651.3L256.0 1654.2L256.9 1649.9L257.7 1653.2L258.6 1651.2L259.6 1648.6L260.5 1647.9L261.5 1643.4L262.4 1644.8L263.4 1641.0L264.4 1641.6L265.4 1647.8L266.3 1648.5L267.3 1652.3L268.2 1653.6L269.1 1650.0L270.0 1654.9L270.9 1652.0L271.9 1654.6L272.8 1651.2L273.7 1655.4L274.6 1651.3L275.5 1654.6L276.4 1651.2L277.3 1654.6L278.2 1651.8L279.1 1655.6L280.1 1652.2L281.0 1654.7L281.9 1652.6L282.8 1655.0L283.7 1651.5L284.6 1654.6L285.5 1652.5L286.4 1655.6L287.4 1653.3L288.3 1655.4L289.2 1652.4L290.1 1655.6L291.0 1654.4L291.9 1651.2L292.8 1655.3L293.7 1650.1L294.6 1652.5L295.5 1650.1L296.4 1650.1L297.3 1648.6L298.1 1643.2L299.0 1643.5L299.8 1638.8L300.7 1638.2L301.6 1643.3L302.5 1642.1L303.3 1647.4L304.2 1647.4L305.1 1652.3L306.0 1654.4L306.9 1650.8L307.8 1653.8L308.7 1650.1L309.6 1652.6L310.6 1650.9L311.5 1653.1L312.4 1650.2L313.3 1653.2L314.2 1649.2L315.1 1652.8L316.0 1649.8L316.9 1653.0L317.8 1650.3L318.7 1652.3L319.6 1650.4L320.6 1653.0L321.5 1649.2L322.4 1651.7L323.3 1648.7L324.2 1652.4L325.1 1648.9L326.0 1651.9L326.9 1648.7L327.8 1652.6L328.7 1649.7L329.7 1652.7L330.6 1648.1L331.5 1652.4L332.4 1648.4L333.3 1651.3L334.2 1650.1L335.1 1649.1L336.0 1650.1L336.9 1646.8L337.8 1650.3L338.7 1646.0L339.6 1650.4L340.5 1647.1L341.4 1647.9L342.3 1646.4L343.2 1647.1L344.1 1644.9L345.0 1645.8L345.9 1647.2L346.7 1642.3L347.6 1645.2L348.5 1640.8L349.4 1644.3L350.2 1639.0L351.1 1641.2L352.0 1637.9L352.8 1640.1L353.7 1638.2L354.6 1638.2L355.5 1641.6L356.4 1640.7L357.4 1644.6L358.3 1642.9L359.2 1645.3L360.1 1645.8L361.0 1644.7L362.0 1647.1L362.9 1643.7L363.8 1646.6L364.7 1643.2L365.7 1646.0L366.6 1644.7L367.5 1641.8L368.3 1645.1L369.2 1640.5L370.0 1643.8L370.9 1641.5L374.6 1616.3L375.7 1614.1L376.8 1616.3L379.6 1643.6L380.5 1646.4L381.5 1643.0L382.4 1647.5L383.3 1646.8L384.2 1648.9L385.2 1647.6L386.1 1650.1L387.0 1649.0L387.8 1644.6L388.7 1647.3L389.5 1640.9L390.4 1641.5L391.3 1641.8L392.1 1640.2L393.0 1642.3L393.8 1639.8L394.7 1641.2L395.6 1638.6L396.4 1640.5L397.3 1639.0L398.1 1641.2L399.0 1639.3L399.9 1637.7L400.8 1640.9L401.7 1635.7L402.6 1639.0L403.5 1635.4L404.4 1637.5L405.3 1634.5L406.2 1636.8L407.1 1633.4L408.0 1635.7L408.9 1631.9L409.8 1633.9L410.7 1635.6L411.7 1632.4L412.6 1637.6L413.5 1635.2L414.4 1638.5L415.4 1634.5L416.3 1637.1L417.2 1641.4L418.2 1639.2L419.1 1643.4L420.0 1643.3L420.9 1647.7L421.9 1647.5L422.8 1650.1L423.7 1652.2L424.7 1647.5L425.6 1650.3L426.5 1647.4L427.4 1649.9L428.4 1648.0L429.3 1649.0L430.2 1649.0L431.0 1643.8L431.9 1645.0L432.7 1640.0L433.6 1640.4L434.5 1641.9L435.4 1640.7L436.3 1644.6L437.2 1642.2L438.1 1646.9L439.0 1645.8L442.2 1581.0L444.8 1510.5L445.9 1509.4L447.0 1510.5L449.1 1578.8L453.0 1643.6L453.9 1644.8L454.7 1644.0L455.6 1646.2L456.5 1644.6L457.4 1646.8L458.2 1645.0L459.1 1647.7L460.0 1645.2L460.8 1649.9L461.7 1648.0L462.6 1643.4L463.6 1644.0L464.5 1639.6L465.4 1640.4L466.3 1633.7L467.3 1635.0L468.2 1630.7L469.1 1628.7L470.0 1631.4L470.9 1629.4L471.9 1632.1L472.8 1628.8L473.7 1632.5L474.6 1630.7L477.9 1611.2L480.5 1590.4L481.6 1589.8L482.7 1590.4L485.4 1611.2L488.7 1650.1L489.6 1650.6L490.4 1645.2L491.3 1647.7L492.1 1643.3L493.0 1643.6L495.8 1568.0L497.5 1400.0L497.5 1297.8L499.6 1400.0L499.7 1297.8L502.3 1568.0L504.9 1643.6L509.2 1626.1L510.3 1628.1L511.4 1626.1L514.6 1650.1L515.5 1648.4L516.4 1653.0L517.3 1649.0L518.2 1653.0L519.1 1650.4L520.0 1652.3L520.9 1651.8L521.7 1648.3L522.6 1648.3L523.4 1643.7L524.3 1647.0L525.2 1640.7L526.0 1643.8L526.9 1638.2L527.7 1640.0L528.6 1637.1L529.5 1635.9L530.5 1639.0L531.4 1636.0L532.3 1639.5L533.2 1636.9L534.2 1639.9L535.1 1638.2L536.0 1639.0L536.9 1645.9L537.8 1643.9L538.7 1649.8L539.6 1651.1L540.5 1654.4L541.4 1655.6L542.2 1652.2L543.1 1655.1L543.9 1652.4L544.8 1656.2L545.6 1653.0L546.5 1654.4L550.8 1633.6L551.9 1635.4L553.0 1633.6L556.2 1654.4L557.1 1652.3L558.0 1655.1L558.9 1651.5L559.8 1655.4L560.7 1651.1L561.6 1652.3L562.5 1651.7L563.4 1648.3L564.3 1650.8L565.2 1646.2L566.1 1648.3L567.0 1644.7L567.9 1644.4L568.7 1649.7L569.6 1649.7L570.4 1653.1L571.3 1654.4L572.2 1650.9L573.1 1649.2L574.0 1644.7L574.9 1644.9L575.8 1638.1L576.7 1637.1L577.6 1640.8L578.5 1640.0L579.4 1645.5L580.3 1643.6L581.2 1649.1L582.1 1650.1L583.0 1650.7L583.9 1654.2L584.8 1650.9L585.7 1655.1L586.6 1653.7L587.5 1656.6L588.4 1658.0L589.2 1654.8L590.1 1656.9L591.0 1654.9L591.9 1656.5L592.7 1653.1L593.6 1656.1L594.5 1653.3L595.3 1657.0L596.2 1654.4L597.1 1650.8L598.0 1652.6L598.9 1646.7L599.9 1649.5L600.8 1642.8L601.7 1644.4L602.6 1641.5L603.5 1641.7L604.4 1649.0L605.2 1647.9L606.1 1653.4L607.0 1654.4L607.9 1654.0L608.8 1656.3L609.6 1652.6L610.5 1657.3L611.4 1653.8L612.3 1656.2L613.2 1653.6L614.1 1657.1L614.9 1653.5L615.8 1656.7L616.7 1655.5L617.5 1651.2L618.3 1651.4L619.1 1645.7L619.9 1643.6L621.4 1595.8L622.5 1597.5L623.6 1595.8L626.4 1648.0L627.3 1648.0L628.3 1650.7L629.2 1648.7L630.1 1654.3L631.0 1652.3L632.0 1656.6L632.9 1655.5L633.8 1653.5L634.8 1654.0L635.7 1650.4L636.6 1652.2L637.5 1648.9L638.5 1650.1L639.4 1648.0L640.3 1646.8L641.3 1651.7L642.2 1649.3L643.1 1653.3L644.0 1651.9L645.0 1655.9L645.9 1655.5L646.8 1652.5L647.8 1654.1L648.7 1651.5L649.6 1654.1L650.6 1649.3L651.5 1651.0L652.5 1646.5L653.4 1648.0L654.4 1651.4L655.3 1647.7L656.2 1652.2L657.2 1650.4L658.1 1655.7L659.1 1653.6L660.0 1656.2L661.0 1656.6L661.9 1652.9L662.7 1656.4L663.6 1651.1L664.4 1653.7L665.3 1650.1L667.9 1626.1L669.0 1625.0L670.1 1626.1L672.9 1650.1L673.8 1651.9L674.8 1650.4L675.7 1652.5L676.6 1650.7L677.6 1654.7L678.5 1652.7L679.5 1655.5L680.4 1654.4L681.3 1654.0L682.3 1655.5L683.2 1653.3L684.1 1657.4L685.0 1654.5L686.0 1657.2L686.9 1654.3L687.8 1657.1L688.8 1654.4L689.7 1657.8L690.6 1654.1L691.5 1658.4L692.5 1655.3L693.4 1656.6L694.3 1656.4L695.1 1653.7L696.0 1654.2L696.8 1650.4L697.7 1652.7L698.6 1647.9L699.4 1650.6L700.3 1645.8L701.1 1647.9L702.0 1645.8L702.9 1645.5L703.9 1649.0L704.8 1647.6L705.7 1652.3L706.6 1649.8L707.6 1653.8L708.5 1654.4L709.4 1653.3L710.3 1655.6L711.2 1651.3L712.1 1653.7L713.0 1650.2L713.9 1653.5L714.8 1651.1L715.7 1652.6L716.6 1648.7L717.5 1651.8L718.4 1649.3L719.3 1650.1L720.2 1652.1L721.2 1651.0L722.1 1655.1L723.0 1652.3L723.9 1655.3L724.9 1653.7L725.8 1656.6L726.7 1655.0L727.6 1650.7L728.5 1651.5L729.4 1645.9L730.3 1645.6L731.2 1641.5L735.5 1604.7L736.4 1603.0L737.4 1606.3L738.3 1602.3L739.2 1607.1L740.1 1603.1L741.1 1605.4L742.0 1604.7L746.3 1632.8L750.6 1658.7L751.5 1658.1L752.4 1660.8L753.3 1657.2L754.2 1659.9L755.1 1657.6L756.0 1660.6L756.9 1657.6L757.8 1660.7L758.7 1657.4L759.6 1659.3L760.5 1657.5L761.4 1660.7L762.3 1656.5L763.2 1660.6L764.1 1657.6L765.0 1659.3L765.9 1657.3L766.8 1659.3L767.7 1657.6L768.6 1660.9L769.5 1656.9L770.4 1660.6L771.3 1657.4L772.2 1660.5L773.1 1656.5L774.0 1660.9L774.9 1657.9L775.8 1660.0L776.7 1657.8L777.6 1658.7L778.5 1660.0L779.5 1657.4L780.4 1659.5L781.3 1655.6L782.2 1658.6L783.2 1654.4L784.1 1657.3L785.0 1654.0L786.0 1657.8L786.9 1654.9L787.8 1656.4L788.7 1652.5L789.7 1655.5L790.6 1654.4L791.5 1652.6L792.4 1656.5L793.3 1653.6L794.2 1656.3L795.1 1654.3L796.0 1657.9L796.9 1654.7L797.7 1656.7L798.6 1655.3L799.5 1658.0L800.4 1654.0L801.3 1658.4L802.2 1655.9L803.1 1659.2L804.0 1655.0L804.9 1658.3L805.8 1657.0L806.7 1659.4L807.6 1657.2L808.5 1659.1L809.4 1657.2L810.2 1659.2L811.1 1656.2L812.0 1661.3L812.9 1658.4L813.8 1661.7L814.7 1658.0L815.6 1660.9L816.5 1659.8L817.4 1658.4L818.3 1660.9L819.2 1656.9L820.1 1661.5L821.0 1656.8L821.9 1660.6L822.8 1658.0L823.7 1660.7L824.6 1656.1L825.5 1658.7L826.4 1656.3L827.3 1659.2L828.2 1656.7L829.1 1659.6L830.0 1655.4L830.9 1658.1L831.8 1655.6L832.7 1657.8L833.6 1654.6L834.5 1657.9L835.4 1655.2L836.3 1657.4L837.2 1653.2L838.1 1655.5L839.0 1658.0L839.8 1653.9L840.7 1656.5L841.6 1653.9L842.5 1657.3L843.3 1654.6L844.2 1658.5L845.1 1655.3L845.9 1658.8L846.8 1656.6L850.4 1639.0L851.5 1638.3L852.6 1639.0L856.5 1658.7L857.4 1660.2L858.3 1657.4L859.2 1660.9L860.1 1657.9L861.0 1659.8L862.0 1657.4L862.9 1661.0L863.8 1656.6L864.7 1659.7L865.6 1657.1L866.5 1660.5L867.4 1657.5L868.3 1660.5L869.2 1657.0L870.1 1660.7L871.0 1658.0L872.0 1660.1L872.9 1658.7L873.8 1660.2L874.7 1658.0L875.6 1660.1L876.5 1657.5L877.4 1661.0L878.3 1657.5L879.2 1660.7L880.1 1658.1L881.1 1661.9L882.0 1657.3L882.9 1661.5L883.8 1657.7L884.7 1661.4L885.6 1659.8L886.5 1656.3L887.3 1658.2L888.2 1655.2L889.1 1657.4L890.0 1652.5L890.8 1653.9L891.7 1650.6L892.6 1652.0L893.4 1648.6L894.3 1648.0L895.2 1650.4L896.2 1649.2L897.1 1653.7L898.0 1653.5L898.9 1656.8L899.9 1656.1L900.8 1658.7L901.7 1659.5L902.6 1656.5L903.5 1658.3L904.4 1655.5L905.3 1657.7L906.2 1653.5L907.1 1656.7L908.0 1652.1L908.9 1656.2L909.8 1652.7L910.7 1653.4L911.6 1652.3L912.5 1651.6L913.4 1653.8L914.2 1651.2L915.1 1654.6L916.0 1653.2L916.9 1656.4L917.8 1653.7L918.7 1656.1L919.5 1654.9L920.4 1657.5L921.3 1655.4L922.2 1657.5L923.1 1655.1L923.9 1659.8L924.8 1656.7L925.7 1660.9L926.6 1657.1L927.5 1660.6L928.4 1658.2L929.2 1661.2L930.1 1659.1L931.0 1660.9L931.9 1661.1L932.8 1657.7L933.7 1659.6L934.6 1655.4L935.5 1657.7L936.4 1652.0L937.3 1655.6L938.2 1651.2L939.1 1652.8L940.0 1648.2L940.9 1649.7L941.8 1648.0L942.7 1646.6L943.6 1649.8L944.5 1648.4L945.4 1651.0L946.3 1647.6L947.2 1651.4L948.1 1649.3L949.0 1651.7L949.9 1649.1L950.8 1652.8L951.7 1650.0L952.6 1652.3L953.5 1655.2L954.5 1652.5L955.4 1655.6L956.3 1653.4L957.2 1656.2L958.2 1655.4L959.1 1658.6L960.0 1655.9L961.0 1659.5L961.9 1657.6L962.8 1660.5L963.7 1658.4L964.7 1662.8L965.6 1660.9L966.5 1659.2L967.4 1660.0L968.2 1656.4L969.1 1659.7L970.0 1656.5L970.9 1658.5L971.8 1654.3L972.7 1655.5L973.5 1653.6L974.4 1655.4L975.3 1651.5L976.2 1654.3L977.1 1650.5L977.9 1652.3L978.8 1648.1L979.7 1649.0L980.6 1652.3L981.6 1649.8L982.5 1653.6L983.5 1653.6L984.4 1656.4L985.3 1656.1L986.3 1659.9L987.2 1659.8L988.1 1657.2L989.0 1660.3L989.9 1658.0L990.9 1659.4L991.8 1657.1L992.7 1660.3L993.6 1655.7L994.5 1660.0L995.4 1656.8L996.4 1659.5L997.3 1656.3L998.2 1658.1L999.1 1656.0L1000.0 1658.1L1000.9 1655.5L1001.8 1656.6L1002.8 1653.4L1003.7 1657.5L1004.6 1653.8L1005.5 1655.7L1006.4 1653.3L1007.3 1656.2L1008.3 1653.3L1009.2 1655.6L1010.1 1652.1L1011.0 1653.3L1011.9 1654.6L1012.7 1653.0L1013.6 1657.0L1014.4 1653.8L1015.3 1657.6L1016.2 1654.7L1017.0 1658.8L1017.9 1657.4L1018.7 1661.0L1019.6 1659.8L1020.5 1658.4L1021.4 1660.2L1022.3 1657.5L1023.3 1659.4L1024.2 1655.6L1025.1 1659.1L1026.0 1654.8L1026.9 1657.1L1027.8 1655.0L1028.8 1657.1L1029.7 1654.0L1030.6 1655.4L1031.5 1654.4L1032.4 1652.9L1033.3 1655.5L1034.2 1653.8L1035.1 1656.0L1036.0 1653.2L1036.9 1656.6L1037.8 1652.9L1038.7 1655.7L1039.6 1652.7L1040.5 1656.3L1041.4 1652.0L1042.3 1655.8L1043.2 1652.9L1044.1 1655.6L1045.0 1652.4L1045.9 1655.9L1046.8 1652.6L1047.7 1656.9L1048.6 1652.7L1049.5 1656.7L1050.4 1652.9L1051.3 1655.5L1052.2 1652.3L1053.1 1655.1L1054.0 1652.9L1054.9 1655.6L1055.8 1653.4L1056.7 1656.3L1057.6 1652.8L1058.5 1654.4L1059.4 1656.3L1060.3 1652.9L1061.2 1656.5L1062.1 1654.8L1062.9 1657.3L1063.8 1654.3L1064.7 1658.4L1065.6 1656.1L1066.5 1659.6L1067.4 1657.5L1068.3 1660.9L1069.2 1657.7L1070.0 1660.8L1070.9 1658.8L1071.8 1661.9L1072.7 1658.8L1073.6 1660.9L1074.5 1662.4L1075.4 1658.1L1076.3 1662.6L1077.1 1657.6L1078.0 1660.7L1078.9 1658.9L1079.8 1660.1L1080.7 1658.6L1081.6 1660.6L1082.5 1656.9L1083.3 1660.7L1084.2 1657.6L1085.1 1660.6L1086.0 1657.4L1086.9 1659.4L1087.8 1656.0L1088.7 1658.8L1089.6 1655.1L1090.4 1658.2L1091.3 1655.8L1092.2 1659.3L1093.1 1656.6L1094.0 1654.2L1094.9 1658.5L1095.8 1655.4L1096.7 1659.0L1097.6 1655.1L1098.5 1657.3L1099.5 1655.5L1100.4 1658.9L1101.3 1655.1L1102.2 1658.8L1103.1 1655.4L1104.0 1658.1L1104.9 1655.2L1105.8 1658.0L1106.7 1654.2L1107.6 1657.2L1108.5 1655.9L1109.4 1657.3L1110.3 1656.0L1111.3 1657.5L1112.2 1655.7L1113.1 1657.6L1114.0 1654.7L1114.9 1658.2L1115.8 1655.5L1116.7 1657.2L1117.6 1655.5L1118.5 1657.4L1119.4 1654.6L1120.3 1657.8L1121.2 1654.8L1122.2 1658.8L1123.1 1655.4L1124.0 1658.6L1124.9 1655.9L1125.8 1658.5L1126.7 1654.9L1127.6 1656.6L1128.5 1658.2L1129.4 1655.9L1130.3 1658.8L1131.2 1655.3L1132.1 1658.7L1133.0 1655.5L1133.9 1659.4L1134.8 1656.6L1135.7 1660.5L1136.6 1657.7L1137.5 1660.9L1138.4 1658.4L1139.3 1661.3L1140.2 1658.6L1141.1 1662.1L1142.0 1657.9L1142.9 1662.7L1143.8 1658.3L1144.7 1661.6L1145.6 1659.8L1146.5 1662.7L1147.4 1659.9L1148.3 1663.2L1149.2 1662.0L1150.1 1659.7L1151.0 1662.7L1151.9 1660.4L1152.8 1662.2L1153.7 1659.0L1154.6 1661.7L1155.5 1659.1L1156.4 1661.6L1157.3 1659.2L1158.2 1661.9L1159.1 1658.5L1160.0 1662.6L1160.9 1658.4L1161.8 1660.8L1162.7 1658.7L1163.6 1661.3L1164.5 1658.6L1165.4 1660.5L1166.3 1657.0L1167.2 1661.1L1168.1 1657.5L1169.0 1660.3L1169.9 1657.2L1170.8 1659.4L1171.7 1655.9L1172.6 1659.2L1173.5 1656.1L1174.4 1658.2L1175.3 1656.0L1176.2 1659.1L1177.1 1654.9L1178.0 1658.7L1178.9 1655.5L1179.8 1657.7L1180.7 1655.4L1181.6 1658.7L1182.5 1654.4L1183.4 1657.1L1184.3 1654.9L1185.2 1657.3L1186.1 1653.8L1187.0 1656.9L1187.9 1654.0L1188.8 1655.7L1189.7 1653.5L1190.6 1656.1L1191.5 1653.8L1192.4 1654.4L1193.3 1656.6L1194.2 1653.3L1195.1 1657.8L1196.0 1655.9L1196.9 1658.0L1197.8 1655.6L1198.7 1659.1L1199.6 1657.8L1200.5 1660.7L1201.4 1659.2L1202.3 1662.8L1203.2 1660.9L1204.1 1659.0L1205.0 1663.2L1205.8 1659.7L1206.7 1662.4L1207.6 1660.4L1208.5 1662.3L1209.3 1659.9L1210.2 1663.6L1211.1 1660.1L1212.0 1663.9L1212.9 1659.5L1213.7 1663.8L1214.6 1659.6L1215.5 1662.4L1216.4 1659.5L1217.2 1664.3L1218.1 1661.1L1219.0 1662.0"/></g><rect x="239.2" y="1823.2" width="8.3" height="7.0" fill="#000"/><rect x="360.9" y="1818.2" width="8.3" height="12.0" fill="#000"/><rect x="482.6" y="1823.2" width="8.3" height="7.0" fill="#000"/><rect x="604.4" y="1818.2" width="8.3" height="12.0" fill="#000"/><rect x="726.1" y="1823.2" width="8.3" height="7.0" fill="#000"/><rect x="847.8" y="1818.2" width="8.3" height="12.0" fill="#000"/><rect x="969.5" y="1823.2" width="8.3" height="7.0" fill="#000"/><rect x="1091.3" y="1818.2" width="8.3" height="12.0" fill="#000"/><text x="365.1" y="1887.5" text-anchor="middle" font-size="51" font-weight="bold">20</text><text x="608.5" y="1887.5" text-anchor="middle" font-size="51" font-weight="bold">40</text><text x="852.0" y="1887.5" text-anchor="middle" font-size="51" font-weight="bold">60</text><text x="1095.4" y="1887.5" text-anchor="middle" font-size="51" font-weight="bold">80</text><text x="41.4" y="1126.4" font-size="129" font-weight="bold">C</text><text transform="translate(137.9 1489.2) rotate(-90)" text-anchor="middle" font-size="65.0" font-weight="bold">Intensity(a.u.)</text><text x="700.0" y="1983.2" text-anchor="middle" font-size="63.5" font-weight="bold" textLength="462.0" lengthAdjust="spacingAndGlyphs">2<tspan font-size="39" dx="2" dy="-3.2">&#8211;</tspan><tspan dx="3" dy="3.2">Theta (degree)</tspan></text><rect x="886.1" y="1150.2" width="115.0" height="8.5" fill="#000"/><text x="1010.9" y="1168.5" font-size="46.9" textLength="73.7" lengthAdjust="spacingAndGlyphs">GO</text><rect x="886.1" y="1212.0" width="115.0" height="8.5" fill="#f00"/><text x="1010.9" y="1230.3" font-size="46.9" textLength="73.7" lengthAdjust="spacingAndGlyphs">Chl</text><rect x="886.1" y="1273.8" width="115.0" height="8.5" fill="#00f"/><text x="1010.9" y="1291.9" font-size="46.9" textLength="164.3" lengthAdjust="spacingAndGlyphs">Chl-GO</text><clipPath id="clipD"><rect x="1434.5" y="1062.0" width="1032.0" height="771.4"/></clipPath><rect x="1434.5" y="1062.0" width="1032.0" height="771.4" fill="none" stroke="#000" stroke-width="8.3"/><g clip-path="url(#clipD)" fill="none" stroke-width="5.5" stroke-linejoin="round" stroke-linecap="butt"><path stroke="#000" d="M1431.7 1444.4L1432.6 1448.5L1433.5 1443.6L1434.4 1447.6L1435.3 1444.7L1436.2 1446.4L1437.1 1443.5L1438.0 1447.8L1438.9 1442.6L1439.8 1446.8L1440.7 1443.6L1441.6 1446.2L1442.5 1443.4L1443.4 1445.7L1444.3 1442.6L1445.2 1446.4L1446.1 1442.9L1447.0 1446.4L1447.9 1443.5L1448.8 1445.2L1449.7 1443.3L1450.6 1444.4L1451.5 1442.5L1452.4 1443.0L1453.3 1440.1L1454.2 1441.8L1455.1 1438.1L1456.0 1440.2L1456.9 1437.4L1457.8 1438.7L1458.7 1435.7L1459.6 1437.2L1460.5 1435.6L1461.4 1436.6L1462.3 1434.7L1463.2 1435.5L1464.1 1433.6L1465.0 1434.6L1465.9 1432.3L1466.8 1432.3L1467.7 1429.4L1468.6 1430.9L1469.5 1426.8L1470.4 1427.2L1471.3 1424.2L1472.2 1425.6L1473.1 1421.9L1474.0 1422.8L1474.9 1418.9L1475.8 1419.1L1476.7 1416.0L1477.6 1415.5L1478.5 1412.1L1479.4 1410.1L1480.3 1407.2L1480.6 1406.0L1481.0 1404.7L1481.3 1403.5L1481.7 1402.3L1482.0 1401.1L1482.3 1399.9L1482.6 1398.7L1482.9 1397.4L1483.2 1396.2L1483.5 1395.0L1483.7 1393.8L1484.0 1392.5L1484.2 1391.3L1484.5 1390.1L1484.7 1388.9L1484.9 1387.7L1485.1 1386.5L1485.4 1385.2L1485.6 1384.0L1485.8 1382.8L1486.0 1381.6L1486.2 1380.4L1486.3 1379.1L1486.5 1377.9L1486.7 1376.7L1486.8 1375.5L1487.0 1374.3L1487.2 1373.0L1487.3 1371.8L1487.5 1370.6L1487.6 1369.4L1487.8 1368.2L1487.9 1367.0L1488.1 1365.9L1488.2 1364.7L1488.4 1363.5L1488.5 1362.3L1488.7 1361.1L1488.9 1359.9L1489.0 1358.7L1489.2 1357.5L1489.4 1356.3L1489.5 1355.1L1489.7 1353.9L1489.9 1352.7L1490.0 1351.5L1490.2 1350.2L1490.3 1349.0L1490.5 1347.8L1490.6 1346.5L1490.8 1345.2L1490.9 1343.9L1491.1 1342.5L1491.2 1341.1L1491.4 1339.6L1491.5 1338.2L1491.7 1336.7L1491.8 1335.2L1492.0 1333.7L1492.1 1332.2L1492.3 1330.7L1492.4 1329.2L1492.6 1327.7L1492.7 1326.3L1492.9 1324.8L1493.0 1323.4L1493.2 1321.9L1493.3 1320.4L1493.5 1318.9L1493.6 1317.3L1493.8 1315.7L1493.9 1314.1L1494.1 1312.4L1494.2 1310.6L1494.4 1308.8L1494.5 1306.9L1494.7 1305.0L1494.8 1303.0L1495.0 1301.0L1495.1 1298.9L1495.3 1296.8L1495.4 1294.6L1495.6 1292.4L1495.7 1290.2L1495.9 1287.9L1496.0 1285.7L1496.2 1283.5L1496.3 1281.3L1496.5 1279.0L1496.6 1276.7L1496.8 1274.3L1496.9 1271.7L1497.1 1269.0L1497.2 1266.0L1497.4 1262.9L1497.5 1259.5L1497.7 1255.7L1497.8 1251.4L1498.0 1246.8L1498.1 1241.7L1498.3 1236.4L1498.4 1230.7L1498.6 1224.9L1498.7 1218.8L1498.9 1211.7L1499.0 1203.7L1499.2 1195.6L1499.3 1187.7L1499.5 1180.9L1499.6 1174.8L1499.8 1169.0L1499.9 1163.3L1500.1 1157.9L1500.2 1152.7L1500.4 1147.7L1500.5 1143.0L1500.7 1138.6L1500.8 1134.5L1501.0 1130.7L1501.1 1127.2L1501.3 1123.8L1501.4 1120.5L1501.6 1117.4L1501.7 1114.4L1501.9 1111.6L1502.0 1109.0L1502.2 1106.5L1502.3 1104.1L1502.5 1102.0L1502.6 1100.0L1502.8 1098.1L1502.9 1096.4L1503.1 1094.8L1503.2 1093.2L1503.4 1091.8L1503.5 1090.4L1503.7 1089.0L1503.8 1087.7L1504.0 1086.3L1504.1 1085.0L1504.3 1083.6L1504.4 1082.0L1504.6 1080.3L1504.7 1078.5L1504.9 1076.9L1505.0 1075.5L1505.2 1074.7L1505.6 1075.6L1505.7 1077.0L1505.9 1078.5L1506.0 1080.1L1506.2 1081.6L1506.3 1083.0L1506.5 1084.2L1506.6 1085.4L1506.8 1086.7L1506.9 1087.9L1507.1 1089.1L1507.2 1090.5L1507.4 1091.8L1507.5 1093.3L1507.7 1094.9L1507.8 1096.7L1508.0 1098.6L1508.1 1100.7L1508.3 1103.2L1508.4 1106.0L1508.6 1109.0L1508.7 1112.2L1508.9 1115.6L1509.0 1119.2L1509.2 1122.9L1509.3 1126.7L1509.5 1130.6L1509.6 1134.7L1509.8 1139.1L1509.9 1143.7L1510.1 1148.6L1510.2 1153.7L1510.4 1158.9L1510.5 1164.3L1510.7 1169.7L1510.8 1175.2L1511.0 1180.7L1511.1 1186.0L1511.3 1191.2L1511.4 1196.5L1511.6 1202.1L1511.7 1208.4L1511.9 1215.4L1512.0 1224.0L1512.2 1237.5L1512.3 1251.6L1512.5 1260.6L1512.6 1265.0L1512.8 1268.5L1512.9 1271.5L1513.1 1274.0L1513.2 1276.1L1513.4 1278.0L1513.5 1279.8L1513.7 1281.6L1513.8 1283.6L1514.0 1285.8L1514.1 1288.4L1514.3 1291.5L1514.4 1294.9L1514.6 1298.7L1514.7 1302.5L1514.9 1306.4L1515.0 1310.2L1515.2 1313.8L1515.3 1317.2L1515.5 1320.2L1515.6 1323.1L1515.8 1326.0L1515.9 1328.8L1516.1 1331.5L1516.2 1334.1L1516.4 1336.7L1516.5 1339.1L1516.7 1341.4L1516.8 1343.6L1517.0 1345.6L1517.1 1347.6L1517.3 1349.5L1517.4 1351.3L1517.6 1353.1L1517.7 1354.8L1517.9 1356.5L1518.0 1358.1L1518.2 1359.6L1518.3 1361.2L1518.5 1362.6L1518.6 1364.0L1518.8 1365.3L1518.9 1366.6L1519.1 1367.8L1519.2 1368.9L1519.4 1370.1L1519.6 1371.2L1519.8 1372.4L1520.0 1373.6L1520.2 1374.8L1520.4 1375.9L1520.6 1377.1L1520.8 1378.3L1521.1 1379.5L1521.3 1380.6L1521.6 1381.8L1521.9 1383.0L1522.1 1384.2L1522.4 1385.4L1522.7 1386.6L1523.0 1387.8L1523.3 1388.9L1523.6 1390.1L1523.9 1391.3L1524.3 1392.5L1524.6 1393.7L1524.9 1394.9L1525.2 1396.1L1525.6 1397.2L1526.0 1398.4L1526.4 1398.9L1527.3 1402.8L1528.2 1402.5L1529.1 1405.8L1530.0 1404.4L1530.9 1408.7L1531.8 1407.9L1532.7 1412.7L1533.6 1407.6L1534.5 1412.8L1535.4 1411.1L1536.3 1416.1L1537.2 1412.1L1538.1 1415.7L1539.0 1413.1L1539.9 1418.4L1540.8 1412.5L1541.7 1416.9L1542.6 1411.9L1543.5 1418.4L1544.4 1414.3L1545.3 1418.7L1546.2 1415.0L1547.1 1419.0L1548.0 1415.1L1548.9 1420.4L1549.8 1415.5L1550.7 1418.8L1551.6 1413.1L1552.5 1418.9L1553.4 1413.2L1554.3 1421.0L1555.2 1413.6L1556.1 1419.2L1557.0 1413.2L1557.9 1418.6L1558.8 1414.0L1559.7 1419.1L1560.6 1415.1L1561.5 1417.9L1562.4 1415.0L1563.3 1419.2L1564.2 1414.9L1565.1 1418.5L1566.0 1413.2L1566.9 1418.4L1567.8 1413.2L1568.7 1420.1L1569.6 1414.9L1570.5 1418.4L1571.4 1413.1L1572.3 1420.3L1573.2 1412.8L1574.1 1420.2L1575.0 1414.6L1575.9 1417.4L1576.8 1414.3L1577.7 1420.0L1578.6 1414.3L1579.5 1419.0L1580.4 1415.1L1581.3 1418.4L1582.2 1412.8L1583.1 1417.5L1584.0 1412.1L1584.9 1417.4L1585.8 1412.0L1586.7 1416.5L1587.6 1413.9L1588.5 1418.2L1589.4 1412.9L1590.3 1415.5L1591.2 1411.2L1592.1 1416.4L1593.0 1412.5L1593.9 1416.9L1594.8 1412.3L1595.7 1414.7L1596.6 1411.8L1597.5 1415.4L1598.4 1411.4L1599.3 1416.4L1600.2 1411.1L1601.1 1414.8L1602.0 1411.2L1602.9 1414.7L1603.8 1410.8L1604.7 1414.7L1605.6 1409.9L1606.5 1415.2L1607.4 1407.9L1608.3 1412.9L1609.2 1409.7L1610.1 1412.0L1611.0 1406.8L1611.9 1413.3L1612.8 1407.2L1613.7 1411.6L1614.6 1405.4L1615.5 1411.5L1616.4 1406.3L1617.3 1409.8L1618.2 1403.7L1619.1 1406.4L1620.0 1402.3L1620.9 1404.8L1621.8 1399.6L1622.7 1403.1L1623.6 1396.9L1624.5 1401.7L1625.4 1397.3L1626.3 1403.8L1627.2 1401.5L1628.1 1406.0L1629.0 1403.6L1629.9 1406.8L1630.8 1402.5L1631.7 1407.4L1632.6 1405.0L1633.5 1409.9L1634.4 1403.3L1635.3 1409.5L1636.2 1402.0L1637.1 1410.2L1638.0 1402.5L1638.9 1410.2L1639.8 1403.9L1640.7 1409.0L1641.6 1405.6L1642.5 1409.8L1643.4 1405.4L1644.3 1409.4L1645.2 1405.7L1646.1 1412.0L1647.0 1407.4L1647.9 1411.1L1648.8 1407.4L1649.7 1413.6L1650.6 1408.5L1651.5 1414.0L1652.4 1409.2L1653.3 1414.2L1654.2 1410.5L1655.1 1416.1L1656.0 1410.1L1656.9 1417.5L1657.8 1411.1L1658.7 1417.8L1659.6 1412.8L1660.5 1417.5L1661.4 1415.1L1662.3 1419.9L1662.4 1421.9L1662.6 1424.1L1662.7 1426.0L1662.9 1428.5L1663.8 1423.9L1664.7 1428.6L1665.6 1424.4L1666.5 1427.3L1667.4 1425.1L1668.3 1429.3L1669.2 1423.8L1670.1 1427.4L1671.0 1421.2L1671.9 1425.4L1672.8 1421.6L1673.7 1426.1L1674.6 1420.8L1675.5 1426.3L1676.4 1419.6L1677.3 1427.4L1678.2 1423.0L1679.1 1427.2L1680.0 1422.6L1680.9 1427.4L1681.8 1422.0L1682.7 1425.9L1683.6 1422.1L1684.5 1426.8L1685.4 1420.6L1686.3 1427.5L1687.2 1422.4L1688.1 1428.1L1689.0 1422.3L1689.9 1426.7L1690.8 1424.3L1691.7 1426.9L1692.6 1423.0L1693.5 1428.9L1694.4 1423.6L1695.3 1427.4L1696.2 1423.6L1697.1 1427.3L1698.0 1424.9L1698.9 1429.4L1699.8 1424.5L1700.7 1430.6L1701.6 1423.1L1702.5 1428.8L1703.4 1422.4L1704.3 1427.5L1705.2 1422.4L1706.1 1430.2L1707.0 1425.2L1707.9 1430.3L1708.8 1422.8L1709.7 1427.4L1710.6 1424.0L1711.5 1428.7L1712.4 1422.0L1713.3 1428.1L1714.2 1422.1L1715.1 1428.7L1716.0 1422.8L1716.9 1427.2L1717.8 1421.7L1718.7 1429.2L1719.6 1422.2L1720.5 1429.3L1721.4 1424.2L1722.3 1427.1L1723.2 1421.3L1724.1 1424.3L1725.0 1420.7L1725.9 1422.4L1726.8 1415.9L1727.7 1420.8L1728.6 1418.7L1729.5 1422.4L1729.8 1423.6L1730.1 1424.8L1730.5 1426.0L1730.8 1427.2L1731.1 1428.4L1731.5 1429.8L1732.4 1430.6L1733.3 1433.9L1734.2 1428.5L1735.1 1435.5L1736.0 1429.4L1736.9 1433.2L1737.8 1427.2L1738.7 1433.9L1739.6 1428.5L1740.5 1433.6L1741.4 1428.4L1742.3 1432.4L1743.2 1427.3L1744.1 1433.3L1745.0 1427.8L1745.9 1432.4L1746.8 1428.4L1747.7 1433.0L1748.6 1428.5L1749.5 1432.5L1750.4 1426.0L1751.3 1430.8L1752.2 1426.6L1753.1 1433.3L1754.0 1426.1L1754.9 1432.4L1755.8 1426.2L1756.7 1430.7L1757.6 1425.8L1758.5 1430.7L1759.4 1425.2L1760.3 1431.7L1761.2 1426.9L1762.1 1432.6L1763.0 1426.0L1763.9 1433.4L1764.8 1425.7L1765.7 1433.5L1766.6 1427.6L1767.5 1431.5L1768.4 1428.1L1769.3 1431.7L1770.2 1428.0L1771.1 1434.5L1772.0 1428.6L1772.9 1434.2L1773.8 1429.0L1774.7 1435.7L1775.6 1429.2L1776.5 1435.4L1777.4 1432.0L1778.3 1435.5L1779.2 1433.0L1780.1 1438.0L1781.0 1431.5L1781.9 1435.9L1782.8 1434.3L1783.7 1438.4L1784.6 1433.1L1785.5 1439.5L1786.4 1433.3L1787.3 1439.5L1788.2 1435.4L1789.1 1439.3L1790.0 1433.2L1790.9 1439.0L1791.8 1436.7L1792.7 1440.8L1793.6 1434.8L1794.5 1442.0L1795.4 1434.3L1796.3 1440.4L1797.2 1436.8L1798.1 1441.9L1799.0 1437.8L1799.9 1440.0L1800.8 1436.2L1801.7 1441.8L1802.6 1437.4L1803.5 1440.7L1804.4 1436.3L1805.3 1441.1L1806.2 1437.0L1807.1 1442.8L1808.0 1439.1L1808.9 1443.8L1809.8 1439.5L1810.7 1444.1L1811.6 1440.1L1812.5 1444.5L1813.4 1439.3L1814.3 1443.2L1815.2 1439.4L1816.1 1444.6L1817.0 1441.5L1817.9 1443.7L1818.8 1442.2L1819.7 1444.6L1820.6 1442.8L1821.5 1444.9L1822.4 1443.4L1823.3 1446.7L1824.2 1443.4L1825.1 1447.8L1826.0 1442.1L1826.9 1446.3L1827.8 1442.4L1828.7 1446.6L1829.6 1445.0L1830.5 1447.1L1831.4 1444.1L1832.3 1447.3L1833.2 1444.5L1834.1 1448.1L1835.0 1443.5L1835.9 1449.4L1836.8 1443.4L1837.7 1447.4L1838.6 1444.9L1839.5 1448.7L1840.4 1444.9L1841.3 1448.4L1842.2 1445.1L1843.1 1447.7L1844.0 1445.7L1844.9 1448.3L1845.8 1443.8L1846.7 1448.4L1847.6 1443.5L1848.5 1448.4L1849.4 1443.7L1850.3 1447.6L1851.2 1444.0L1852.1 1447.8L1853.0 1443.4L1853.9 1449.7L1854.8 1445.8L1855.7 1447.8L1856.6 1443.4L1857.5 1449.0L1858.4 1444.7L1859.3 1449.5L1860.2 1445.3L1861.1 1448.8L1862.0 1444.4L1862.9 1447.6L1863.8 1444.8L1864.7 1449.9L1865.6 1445.0L1866.5 1448.5L1867.4 1444.2L1868.3 1448.5L1869.2 1445.6L1870.1 1448.3L1871.0 1444.0L1871.9 1448.4L1872.8 1445.6L1873.7 1447.4L1874.6 1443.6L1875.5 1448.0L1876.4 1445.0L1877.3 1449.3L1878.2 1443.7L1879.1 1448.4L1880.0 1443.8L1880.9 1445.7L1881.8 1440.7L1882.7 1441.7L1883.6 1439.4L1884.5 1440.3L1885.4 1436.2L1886.3 1438.2L1887.2 1434.0L1888.1 1438.3L1889.0 1434.5L1889.9 1438.2L1890.8 1436.3L1891.7 1439.7L1892.6 1438.7L1893.5 1442.2L1894.4 1439.9L1895.3 1444.9L1896.2 1441.5L1897.1 1445.9L1898.0 1443.7L1898.9 1448.0L1899.8 1443.5L1900.7 1449.0L1901.6 1445.4L1902.5 1449.4L1903.4 1445.2L1904.3 1449.8L1905.2 1447.7L1906.1 1450.3L1907.0 1447.4L1907.9 1451.0L1908.8 1448.1L1909.7 1451.8L1910.6 1447.6L1911.5 1451.4L1912.4 1448.1L1913.3 1452.4L1914.2 1449.6L1915.1 1452.1L1916.0 1448.4L1916.9 1452.5L1917.8 1450.5L1918.7 1454.6L1919.6 1450.2L1920.5 1452.8L1921.4 1450.7L1922.3 1454.1L1923.2 1450.2L1924.1 1454.9L1925.0 1449.0L1925.9 1453.2L1926.8 1451.6L1927.7 1453.4L1928.6 1449.6L1929.5 1453.6L1930.4 1451.1L1931.3 1453.5L1932.2 1449.6L1933.1 1454.8L1934.0 1450.5L1934.9 1455.0L1935.8 1452.2L1936.7 1456.4L1937.6 1451.4L1938.5 1455.8L1939.4 1450.2L1940.3 1455.6L1941.2 1452.2L1942.1 1455.3L1943.0 1451.7L1943.9 1456.5L1944.8 1451.7L1945.7 1455.6L1946.6 1451.5L1947.5 1456.8L1948.4 1452.1L1949.3 1454.9L1950.2 1453.0L1951.1 1456.4L1952.0 1451.0L1952.9 1456.9L1953.8 1452.7L1954.7 1457.5L1955.6 1452.9L1956.5 1457.1L1957.4 1453.9L1958.3 1456.7L1959.2 1453.2L1960.1 1456.5L1961.0 1452.7L1961.9 1458.5L1962.8 1454.1L1963.7 1457.0L1964.6 1454.6L1965.5 1456.7L1966.4 1452.9L1967.3 1458.6L1968.2 1455.0L1969.1 1459.3L1970.0 1454.4L1970.9 1459.4L1971.8 1454.6L1972.7 1458.9L1973.6 1455.4L1974.5 1459.9L1975.4 1454.1L1976.3 1458.3L1977.2 1454.1L1978.1 1458.5L1979.0 1455.9L1979.9 1459.0L1980.8 1454.8L1981.7 1459.8L1982.6 1454.3L1983.5 1460.0L1984.4 1454.7L1985.3 1459.6L1986.2 1456.2L1987.1 1460.4L1988.0 1456.7L1988.9 1460.2L1989.8 1455.3L1990.7 1460.8L1991.6 1454.9L1992.5 1460.8L1993.4 1454.4L1994.3 1460.6L1995.2 1455.7L1996.1 1459.1L1997.0 1456.9L1997.9 1459.0L1998.8 1456.9L1999.7 1460.8L2000.6 1455.4L2001.5 1459.7L2002.4 1456.0L2003.3 1458.9L2004.2 1456.5L2005.1 1459.6L2006.0 1456.9L2006.9 1460.1L2007.8 1456.4L2008.7 1461.1L2009.6 1456.4L2010.5 1460.9L2011.4 1456.1L2012.3 1461.3L2013.2 1457.9L2014.1 1459.4L2015.0 1456.2L2015.9 1459.3L2016.8 1456.3L2017.7 1460.9L2018.6 1456.0L2019.5 1459.6L2020.4 1457.5L2021.3 1461.5L2022.2 1457.8L2023.1 1461.3L2024.0 1456.5L2024.9 1459.6L2025.8 1456.4L2026.7 1460.8L2027.6 1456.6L2028.5 1461.6L2029.4 1457.2L2030.3 1460.4L2031.2 1457.0L2032.1 1460.4L2033.0 1456.9L2033.9 1460.5L2034.8 1457.6L2035.7 1460.9L2036.6 1457.4L2037.5 1462.0L2038.4 1457.5L2039.3 1460.9L2040.2 1458.0L2041.1 1462.2L2042.0 1457.7L2042.9 1460.4L2043.8 1458.2L2044.7 1460.1L2045.6 1457.2L2046.5 1461.3L2047.4 1458.0L2048.3 1462.1L2049.2 1458.8L2050.1 1460.8L2051.0 1457.0L2051.9 1460.7L2052.8 1457.0L2053.7 1462.3L2054.6 1458.9L2055.5 1461.8L2056.4 1458.2L2057.3 1461.8L2058.2 1458.3L2059.1 1462.1L2060.0 1457.8L2060.9 1461.8L2061.8 1457.8L2062.7 1462.4L2063.6 1458.3L2064.5 1460.7L2065.4 1458.6L2066.3 1461.0L2067.2 1459.0L2068.1 1460.8L2069.0 1458.2L2069.9 1461.8L2070.8 1458.1L2071.7 1460.7L2072.6 1458.1L2073.5 1461.9L2074.4 1458.8L2075.3 1462.6L2076.2 1457.7L2077.1 1462.7L2078.0 1457.7L2078.9 1462.8L2079.8 1459.4L2080.7 1461.3L2081.6 1458.0L2082.5 1462.4L2083.4 1458.9L2084.3 1461.7L2085.2 1458.8L2086.1 1461.6L2087.0 1458.8L2087.9 1463.2L2088.8 1458.9L2089.7 1461.2L2090.6 1458.9L2091.5 1462.9L2092.4 1458.8L2093.3 1463.2L2094.2 1457.9L2095.1 1463.0L2096.0 1458.6L2096.9 1463.5L2097.8 1459.5L2098.7 1462.1L2099.6 1460.3L2100.5 1463.6L2101.4 1459.8L2102.3 1461.7L2103.2 1459.1L2104.1 1463.3L2105.0 1459.6L2105.9 1462.3L2106.8 1458.7L2107.7 1461.9L2108.6 1460.1L2109.5 1462.4L2110.4 1459.9L2111.3 1462.4L2112.2 1458.6L2113.1 1462.1L2114.0 1459.2L2114.9 1463.9L2115.8 1460.5L2116.7 1463.9L2117.6 1460.6L2118.5 1462.9L2119.4 1458.9L2120.3 1462.7L2121.2 1459.7L2122.1 1462.5L2123.0 1460.2L2123.9 1463.4L2124.8 1459.6L2125.7 1463.4L2126.6 1459.5L2127.5 1462.2L2128.4 1460.3L2129.3 1463.1L2130.2 1460.7L2131.1 1462.3L2132.0 1460.4L2132.9 1462.3L2133.8 1460.3L2134.7 1462.5L2135.6 1461.0L2136.5 1462.4L2137.4 1459.4L2138.3 1463.8L2139.2 1460.5L2140.1 1463.3L2141.0 1459.7L2141.9 1462.6L2142.8 1459.3L2143.7 1464.3L2144.6 1459.1L2145.5 1464.0L2146.4 1459.6L2147.3 1464.3L2148.2 1459.5L2149.1 1463.3L2150.0 1460.5L2150.9 1464.6L2151.8 1459.3L2152.7 1463.9L2153.6 1460.6L2154.5 1464.0L2155.4 1461.4L2156.3 1463.5L2157.2 1460.5L2158.1 1463.0L2159.0 1460.0L2159.9 1462.7L2160.8 1460.6L2161.7 1463.0L2162.6 1460.4L2163.5 1464.9L2164.4 1459.6L2165.3 1463.7L2166.2 1459.8L2167.1 1463.1L2168.0 1461.0L2168.9 1463.6L2169.8 1460.2L2170.7 1465.0L2171.6 1460.5L2172.5 1465.1L2173.4 1460.4L2174.3 1464.7L2175.2 1459.8L2176.1 1464.5L2177.0 1460.1L2177.9 1463.9L2178.8 1459.9L2179.7 1463.3L2180.6 1460.0L2181.5 1464.6L2182.4 1461.7L2183.3 1463.1L2184.2 1461.1L2185.1 1464.9L2186.0 1460.9L2186.9 1464.9L2187.8 1460.9L2188.7 1463.4L2189.6 1462.0L2190.5 1464.6L2191.4 1460.2L2192.3 1464.2L2193.2 1461.9L2194.1 1464.0L2195.0 1461.4L2195.9 1465.1L2196.8 1461.3L2197.7 1464.8L2198.6 1461.2L2199.5 1463.7L2200.4 1461.4L2201.3 1463.5L2202.2 1462.1L2203.1 1465.5L2204.0 1461.7L2204.9 1465.5L2205.8 1461.3L2206.7 1465.4L2207.6 1461.9L2208.5 1463.4L2209.4 1462.2L2210.3 1465.5L2211.2 1460.5L2212.1 1464.3L2213.0 1461.0L2213.9 1464.3L2214.8 1461.9L2215.7 1465.1L2216.6 1462.2L2217.5 1465.6L2218.4 1461.4L2219.3 1464.2L2220.2 1461.0L2221.1 1464.5L2222.0 1460.9L2222.9 1465.7L2223.8 1462.1L2224.7 1465.4L2225.6 1462.3L2226.5 1464.9L2227.4 1461.9L2228.3 1465.3L2229.2 1460.7L2230.1 1464.0L2231.0 1461.7L2231.9 1464.0L2232.8 1460.6L2233.7 1464.9L2234.6 1461.8L2235.5 1465.3L2236.4 1462.5L2237.3 1464.2L2238.2 1462.0L2239.1 1465.8L2240.0 1461.8L2240.9 1464.7L2241.8 1462.0L2242.7 1464.3L2243.6 1461.8L2244.5 1466.0L2245.4 1461.3L2246.3 1464.1L2247.2 1461.7L2248.1 1465.6L2249.0 1460.8L2249.9 1464.3L2250.8 1462.0L2251.7 1464.1L2252.6 1460.6L2253.5 1466.0L2254.4 1462.4L2255.3 1465.0L2256.2 1462.1L2257.1 1465.6L2258.0 1462.7L2258.9 1464.3L2259.8 1461.4L2260.7 1465.9L2261.6 1460.6L2262.5 1464.3L2263.4 1461.4L2264.3 1466.0L2265.2 1462.0L2266.1 1465.2L2267.0 1461.8L2267.9 1464.1L2268.8 1462.0L2269.7 1464.5L2270.6 1461.1L2271.5 1465.1L2272.4 1462.8L2273.3 1465.7L2274.2 1461.3L2275.1 1465.6L2276.0 1462.8L2276.9 1464.4L2277.8 1462.8L2278.7 1465.8L2279.6 1461.0L2280.5 1466.2L2281.4 1460.9L2282.3 1464.6L2283.2 1462.3L2284.1 1466.1L2285.0 1461.0L2285.9 1464.3L2286.8 1461.0L2287.7 1465.2L2288.6 1461.5L2289.5 1465.6L2290.4 1461.6L2291.3 1464.9L2292.2 1461.4L2293.1 1464.6L2294.0 1462.6L2294.9 1465.2L2295.8 1462.6L2296.7 1466.2L2297.6 1461.2L2298.5 1464.6L2299.4 1462.7L2300.3 1465.7L2301.2 1461.8L2302.1 1465.5L2303.0 1461.2L2303.9 1465.8L2304.8 1463.1L2305.7 1464.9L2306.6 1461.1L2307.5 1465.0L2308.4 1462.3L2309.3 1465.5L2310.2 1462.8L2311.1 1465.8L2312.0 1462.9L2312.9 1466.2L2313.8 1462.2L2314.7 1466.3L2315.6 1461.5L2316.5 1464.7L2317.4 1463.4L2318.3 1465.2L2319.2 1461.3L2320.1 1464.6L2321.0 1462.8L2321.9 1465.5L2322.8 1461.3L2323.7 1466.4L2324.6 1463.1L2325.5 1464.9L2326.4 1463.1L2327.3 1466.3L2328.2 1461.5L2329.1 1466.1L2330.0 1462.8L2330.9 1465.3L2331.8 1463.1L2332.7 1465.2L2333.6 1461.5L2334.5 1465.5L2335.4 1463.6L2336.3 1466.7L2337.2 1461.5L2338.1 1465.8L2339.0 1462.0L2339.9 1465.4L2340.8 1462.4L2341.7 1466.7L2342.6 1462.2L2343.5 1465.4L2344.4 1463.2L2345.3 1465.8L2346.2 1462.1L2347.1 1466.1L2348.0 1463.1L2348.9 1465.4L2349.8 1461.9L2350.7 1465.8L2351.6 1463.4L2352.5 1467.3L2353.4 1462.8L2354.3 1466.6L2355.2 1462.9L2356.1 1466.1L2357.0 1463.4L2357.9 1465.5L2358.8 1463.6L2359.7 1465.8L2360.6 1463.5L2361.5 1465.4L2362.4 1462.8L2363.3 1466.5L2364.2 1464.2L2365.1 1466.1L2366.0 1462.2L2366.9 1465.7L2367.8 1463.3L2368.7 1466.5L2369.6 1462.6L2370.5 1466.9L2371.4 1464.3L2372.3 1465.8L2373.2 1462.8L2374.1 1465.6L2375.0 1464.0L2375.9 1466.1L2376.8 1463.9L2377.7 1467.8L2378.6 1463.9L2379.5 1466.9L2380.4 1463.8L2381.3 1465.8L2382.2 1463.6L2383.1 1466.5L2384.0 1463.8L2384.9 1468.0L2385.8 1463.1L2386.7 1468.0L2387.6 1463.9L2388.5 1466.8L2389.4 1463.7L2390.3 1467.2L2391.2 1463.3L2392.1 1466.6L2393.0 1464.8L2393.9 1466.6L2394.8 1464.4L2395.7 1467.1L2396.6 1463.3L2397.5 1468.1L2398.4 1464.4L2399.3 1467.3L2400.2 1464.9L2401.1 1467.9L2402.0 1463.5L2402.9 1467.9L2403.8 1463.7L2404.7 1468.0L2405.6 1463.2L2406.5 1467.8L2407.4 1465.0L2408.3 1467.9L2409.2 1463.3L2410.1 1467.4L2411.0 1464.3L2411.9 1467.6L2412.8 1465.3L2413.7 1468.5L2414.6 1463.8L2415.5 1468.6L2416.4 1463.5L2417.3 1466.9L2418.2 1464.9L2419.1 1468.2L2420.0 1463.8L2420.9 1467.7L2421.8 1465.0L2422.7 1468.8L2423.6 1464.0L2424.5 1468.4L2425.4 1464.2L2426.3 1467.7L2427.2 1465.8L2428.1 1468.3L2429.0 1465.9L2429.9 1468.0L2430.8 1463.8L2431.7 1469.3L2432.6 1465.5L2433.5 1467.4L2434.4 1465.8L2435.3 1467.2L2436.2 1465.7L2437.1 1467.8L2438.0 1465.3L2438.9 1467.3L2439.8 1465.4L2440.7 1468.1L2441.6 1464.6L2442.5 1468.1L2443.4 1465.9L2444.3 1467.8L2445.2 1466.0L2446.1 1468.8L2447.0 1464.3L2447.9 1469.0L2448.8 1466.2L2449.7 1469.4L2450.6 1465.5L2451.5 1468.4L2452.4 1465.8L2453.3 1468.4L2454.2 1465.6L2455.1 1468.6L2456.0 1465.9L2456.9 1469.8L2457.8 1466.0L2458.7 1470.1L2459.6 1464.7L2460.5 1469.8L2461.4 1466.2L2462.3 1468.2L2463.2 1466.5L2464.1 1469.9L2465.0 1466.5L2465.9 1469.0L2466.8 1465.9L2467.7 1470.3L2468.6 1467.0L2469.5 1470.0L2470.4 1466.1L2471.3 1469.9L2471.8 1467.8"/><path stroke="#f00" d="M1434.0 1800.9L1434.9 1799.8L1435.9 1803.3L1436.8 1800.0L1437.8 1803.1L1438.7 1799.9L1439.6 1803.4L1440.6 1800.3L1441.5 1800.9L1442.3 1801.4L1443.2 1796.2L1444.0 1799.3L1444.8 1794.1L1445.7 1796.2L1446.5 1793.4L1447.4 1792.7L1448.4 1797.4L1449.3 1795.9L1450.2 1802.0L1451.2 1799.4L1452.1 1803.5L1453.1 1803.1L1454.0 1805.9L1454.9 1808.0L1455.8 1803.3L1456.7 1806.8L1457.6 1804.3L1458.5 1807.2L1459.4 1804.7L1460.3 1808.0L1461.2 1803.2L1462.1 1806.8L1463.0 1803.3L1463.9 1807.8L1464.8 1803.5L1465.7 1806.3L1466.5 1802.8L1467.4 1806.6L1468.3 1804.6L1469.2 1806.6L1470.1 1803.2L1471.0 1807.2L1471.9 1804.3L1472.8 1806.1L1473.7 1803.9L1474.6 1806.5L1475.5 1803.1L1476.4 1805.5L1477.3 1802.4L1478.2 1805.4L1479.1 1804.7L1480.0 1803.3L1480.9 1806.1L1481.9 1803.8L1482.8 1806.2L1483.7 1803.8L1484.6 1807.3L1485.5 1804.8L1486.5 1807.6L1487.4 1805.4L1488.3 1808.5L1489.2 1805.5L1490.2 1808.3L1491.1 1806.4L1492.0 1808.6L1492.9 1806.9L1493.8 1809.5L1494.8 1807.5L1495.7 1810.4L1496.6 1808.4L1497.5 1806.1L1498.4 1810.7L1499.3 1806.9L1500.2 1809.5L1501.1 1806.3L1502.0 1810.4L1502.9 1807.5L1503.8 1809.7L1504.7 1807.5L1505.6 1809.7L1506.4 1807.3L1507.3 1809.2L1508.2 1807.9L1509.1 1810.5L1510.0 1807.8L1510.9 1809.5L1511.8 1807.7L1512.7 1809.6L1513.6 1807.0L1514.5 1810.1L1515.4 1806.3L1516.3 1809.9L1517.2 1806.2L1518.1 1809.9L1519.0 1807.7L1519.9 1809.7L1520.8 1807.5L1521.7 1810.3L1522.6 1806.5L1523.5 1809.1L1524.4 1807.7L1525.2 1810.3L1526.1 1807.2L1527.0 1809.0L1527.9 1807.6L1528.8 1810.7L1529.7 1806.2L1530.6 1809.2L1531.5 1807.0L1532.4 1809.6L1533.3 1807.0L1534.2 1808.4L1535.1 1810.2L1536.0 1805.1L1536.9 1808.4L1537.8 1803.2L1538.7 1805.8L1539.7 1802.8L1540.6 1805.2L1541.5 1801.6L1542.4 1804.0L1543.3 1799.1L1544.2 1800.9L1545.0 1800.2L1545.9 1795.4L1546.8 1798.0L1547.6 1792.5L1548.5 1795.0L1549.3 1790.9L1550.1 1788.0L1551.0 1792.0L1551.8 1787.5L1552.6 1791.3L1553.5 1787.0L1554.3 1788.4L1558.2 1761.6L1559.3 1763.7L1560.4 1761.6L1563.0 1800.9L1564.0 1801.2L1564.9 1804.3L1565.8 1803.2L1566.8 1805.9L1571.8 1780.9L1575.6 1750.8L1577.7 1681.4L1578.8 1683.2L1579.9 1681.4L1583.1 1775.8L1585.6 1795.9L1588.8 1756.6L1589.9 1754.4L1591.0 1756.6L1594.4 1780.9L1595.3 1781.6L1596.2 1776.0L1597.2 1777.1L1598.1 1774.6L1601.9 1790.9L1602.8 1787.3L1603.8 1789.3L1604.7 1782.8L1605.6 1783.4L1610.6 1803.4L1614.4 1775.8L1618.2 1575.4L1619.6 1430.9L1620.7 1431.7L1621.8 1430.9L1623.9 1575.4L1626.9 1770.8L1631.9 1805.9L1632.9 1801.6L1633.8 1803.1L1634.8 1798.0L1635.7 1798.4L1638.4 1761.6L1639.5 1763.1L1640.6 1761.6L1644.5 1798.4L1647.0 1700.7L1648.9 1471.0L1650.0 1469.4L1651.1 1471.0L1653.2 1675.6L1655.7 1795.9L1656.7 1798.6L1657.6 1798.2L1658.5 1803.8L1659.5 1803.4L1660.4 1798.9L1661.3 1799.1L1662.2 1794.4L1663.1 1793.7L1664.0 1789.6L1664.9 1790.3L1665.8 1797.1L1666.8 1795.6L1667.7 1801.5L1668.6 1802.2L1669.5 1805.9L1670.4 1806.1L1671.4 1803.3L1672.3 1806.0L1673.2 1801.9L1674.2 1803.8L1675.1 1801.4L1676.1 1802.3L1677.0 1800.9L1678.0 1800.4L1678.9 1803.7L1679.8 1800.5L1680.8 1805.3L1681.8 1802.5L1682.7 1805.6L1683.6 1803.6L1684.6 1805.9L1687.2 1781.7L1688.3 1784.1L1689.4 1781.7L1694.6 1805.9L1698.5 1764.1L1699.6 1761.9L1700.7 1764.1L1704.6 1790.9L1708.5 1756.6L1709.6 1758.5L1710.7 1756.6L1714.6 1790.9L1717.3 1661.4L1718.4 1660.7L1719.5 1661.4L1722.2 1705.7L1725.9 1648.1L1726.7 1648.2L1727.6 1646.1L1728.4 1649.2L1729.2 1645.3L1730.1 1647.9L1730.9 1645.6L1734.8 1586.2L1735.9 1585.5L1737.0 1586.2L1739.7 1750.8L1743.5 1805.9L1744.4 1805.3L1745.3 1801.6L1746.2 1801.5L1747.0 1797.7L1747.9 1798.7L1748.8 1794.0L1749.7 1793.4L1750.6 1796.6L1751.6 1792.8L1752.5 1796.8L1753.5 1795.1L1754.4 1799.4L1755.3 1797.0L1756.3 1801.7L1757.2 1800.9L1758.0 1796.8L1758.9 1797.3L1759.7 1790.2L1760.5 1790.1L1761.4 1784.1L1762.2 1783.4L1763.1 1781.7L1764.1 1776.5L1765.0 1775.2L1765.9 1769.7L1766.8 1769.6L1767.8 1762.3L1768.7 1761.6L1769.8 1763.7L1770.9 1761.6L1774.8 1790.9L1781.2 1756.6L1782.3 1754.2L1783.4 1756.6L1787.3 1785.9L1788.2 1787.3L1789.1 1783.2L1790.0 1783.4L1795.0 1803.4L1795.9 1805.5L1796.8 1802.0L1797.7 1803.2L1798.6 1801.1L1799.5 1803.5L1800.4 1799.0L1801.3 1800.9L1804.4 1739.1L1805.5 1741.0L1806.6 1739.1L1810.0 1800.9L1811.0 1800.9L1811.9 1805.2L1812.8 1802.9L1813.8 1807.0L1814.8 1804.3L1815.7 1808.7L1816.6 1805.8L1817.6 1808.4L1818.5 1809.8L1819.4 1806.4L1820.3 1807.7L1821.2 1804.2L1822.1 1806.7L1823.1 1804.4L1824.0 1807.6L1824.9 1804.3L1825.8 1806.5L1826.7 1802.9L1827.6 1803.4L1828.5 1804.9L1829.4 1801.3L1830.3 1804.7L1831.2 1800.4L1832.1 1803.2L1833.0 1800.7L1833.8 1804.5L1834.7 1801.4L1835.6 1802.4L1836.5 1799.4L1837.4 1803.3L1838.3 1800.1L1839.2 1803.0L1840.1 1800.9L1843.3 1737.8L1844.4 1737.2L1845.5 1737.8L1848.9 1800.9L1849.8 1804.1L1850.7 1800.6L1851.5 1804.2L1852.4 1802.9L1853.3 1805.4L1854.2 1803.4L1855.1 1807.8L1855.9 1805.2L1856.8 1809.0L1857.7 1808.4L1858.6 1807.0L1859.6 1808.3L1860.5 1805.1L1861.5 1806.4L1862.4 1804.3L1863.3 1805.5L1864.3 1802.2L1865.2 1803.4L1870.2 1783.4L1871.1 1782.4L1871.9 1777.4L1872.8 1776.1L1873.6 1771.8L1874.5 1771.0L1875.3 1765.4L1876.2 1766.0L1877.0 1760.2L1877.9 1759.1L1879.0 1760.3L1880.1 1759.1L1884.0 1800.9L1884.9 1799.3L1885.8 1804.4L1886.7 1802.5L1887.5 1804.8L1888.4 1803.6L1889.3 1805.8L1890.2 1805.9L1891.1 1803.1L1892.0 1803.2L1892.8 1798.6L1893.7 1801.0L1894.6 1796.0L1895.5 1796.8L1896.3 1792.1L1897.2 1792.1L1898.1 1796.1L1899.1 1794.3L1900.0 1799.6L1900.9 1800.6L1901.9 1805.8L1902.8 1805.9L1903.7 1805.2L1904.6 1807.4L1905.5 1804.0L1906.4 1807.3L1907.3 1805.0L1908.2 1807.2L1909.1 1804.3L1910.0 1807.2L1910.9 1804.7L1911.8 1807.0L1912.7 1805.0L1913.6 1806.6L1914.5 1805.2L1915.4 1807.4L1916.3 1803.5L1917.2 1808.3L1918.1 1803.8L1919.0 1807.7L1919.9 1803.8L1920.8 1806.6L1921.7 1804.2L1922.6 1807.3L1923.5 1804.9L1924.4 1807.3L1925.3 1805.9L1926.1 1802.9L1927.0 1802.7L1927.8 1798.1L1928.6 1800.6L1929.5 1795.8L1930.3 1794.6L1931.2 1795.0L1932.1 1791.5L1933.0 1794.3L1933.9 1790.1L1934.8 1792.7L1935.8 1788.4L1936.7 1791.1L1937.6 1787.6L1938.5 1790.3L1939.4 1786.1L1940.3 1787.1L1941.2 1790.0L1942.1 1787.2L1943.0 1790.0L1943.9 1788.2L1944.8 1790.9L1945.7 1789.9L1946.6 1792.1L1947.5 1791.3L1948.4 1793.5L1949.3 1791.1L1950.2 1794.8L1951.1 1793.1L1952.0 1797.4L1952.9 1795.9L1953.8 1795.5L1954.7 1799.0L1955.6 1796.6L1956.5 1800.0L1957.4 1797.9L1958.3 1800.3L1959.2 1797.4L1960.0 1801.4L1960.9 1800.1L1961.8 1802.5L1962.7 1800.2L1963.6 1803.5L1964.5 1802.1L1965.4 1803.4L1966.3 1805.0L1967.2 1801.7L1968.0 1806.6L1968.9 1802.8L1969.8 1807.0L1970.7 1804.3L1971.6 1806.1L1972.5 1804.1L1973.3 1806.7L1974.2 1804.5L1975.1 1807.4L1976.0 1805.2L1976.9 1808.4L1977.8 1805.9L1978.6 1809.1L1979.5 1806.0L1980.4 1808.4L1981.3 1810.2L1982.2 1805.5L1983.0 1808.8L1983.9 1805.5L1984.8 1807.4L1985.7 1804.1L1986.6 1806.4L1987.4 1804.8L1988.3 1805.6L1989.2 1803.7L1990.1 1805.9L1991.0 1802.7L1991.8 1804.0L1992.7 1800.7L1993.6 1804.4L1994.5 1800.6L1995.4 1804.3L1996.2 1800.9L1997.1 1802.1L1998.0 1800.9L1998.9 1799.3L1999.8 1802.3L2000.7 1799.4L2001.6 1804.1L2002.5 1801.2L2003.4 1803.3L2004.2 1800.5L2005.1 1804.8L2006.0 1800.0L2006.9 1803.4L2007.8 1801.9L2008.7 1804.1L2009.6 1801.9L2010.5 1803.4L2011.4 1804.3L2012.3 1802.2L2013.3 1804.3L2014.2 1802.0L2015.1 1803.6L2016.0 1800.9L2016.9 1804.0L2017.9 1800.6L2018.8 1802.9L2019.7 1800.7L2020.6 1803.4L2021.6 1800.0L2022.5 1802.5L2023.4 1800.2L2024.3 1803.0L2025.2 1798.8L2026.2 1803.1L2027.1 1800.1L2028.0 1800.9L2028.9 1802.3L2029.8 1800.8L2030.7 1804.2L2031.6 1801.6L2032.5 1804.7L2033.4 1802.2L2034.3 1805.4L2035.2 1804.4L2036.1 1807.2L2037.0 1804.7L2037.9 1807.7L2038.8 1806.4L2039.7 1809.1L2040.6 1808.4L2041.5 1806.7L2042.4 1808.7L2043.2 1803.5L2044.1 1805.3L2045.0 1802.7L2045.9 1803.8L2046.8 1800.1L2047.7 1802.7L2048.6 1797.9L2049.4 1799.6L2050.3 1795.7L2051.2 1798.3L2052.1 1794.7L2053.0 1794.9L2053.8 1792.3L2054.7 1794.3L2055.6 1789.4L2056.5 1790.4L2057.6 1792.3L2058.7 1790.4L2059.6 1791.7L2060.4 1795.4L2061.3 1795.1L2062.1 1800.5L2063.0 1798.9L2063.9 1803.6L2064.7 1803.3L2065.6 1805.9L2066.5 1808.1L2067.4 1803.8L2068.3 1806.5L2069.2 1804.3L2070.0 1807.1L2070.9 1803.4L2071.8 1806.8L2072.7 1803.3L2073.6 1805.4L2074.5 1803.1L2075.4 1806.7L2076.3 1802.9L2077.1 1805.0L2078.0 1803.2L2078.9 1804.6L2079.8 1802.3L2080.7 1803.4L2081.6 1804.7L2082.5 1803.2L2083.4 1805.7L2084.3 1802.7L2085.2 1806.6L2086.1 1803.8L2087.0 1806.1L2087.9 1803.8L2088.8 1807.0L2089.7 1804.8L2090.6 1806.4L2091.5 1804.0L2092.4 1807.4L2093.3 1805.5L2094.2 1808.2L2095.1 1805.8L2096.0 1808.1L2096.9 1804.9L2097.8 1808.3L2098.7 1806.8L2099.6 1809.9L2100.5 1806.7L2101.4 1809.1L2102.3 1806.6L2103.2 1808.4L2104.1 1809.2L2105.1 1804.1L2106.0 1806.6L2106.9 1801.8L2107.9 1804.6L2108.8 1799.4L2109.8 1800.7L2110.7 1798.4L2111.6 1797.3L2112.6 1802.6L2113.5 1799.6L2114.4 1803.5L2115.4 1802.2L2116.3 1807.1L2117.3 1805.0L2118.2 1807.2L2119.1 1807.6L2120.0 1802.9L2120.8 1804.3L2121.7 1799.4L2122.6 1801.7L2123.5 1796.6L2124.4 1798.9L2125.2 1793.7L2126.1 1794.4L2127.0 1792.1L2127.9 1792.6L2128.8 1796.2L2129.6 1793.1L2130.5 1797.9L2131.4 1797.1L2132.3 1799.7L2133.2 1799.4L2134.0 1802.1L2134.9 1801.1L2135.8 1803.4L2136.6 1805.1L2137.5 1803.5L2138.3 1808.3L2139.2 1805.2L2140.0 1808.4L2140.9 1809.9L2141.8 1806.8L2142.8 1809.2L2143.7 1806.0L2144.6 1808.9L2145.5 1805.9L2146.4 1808.7L2147.4 1805.2L2148.3 1809.1L2149.2 1804.5L2150.1 1808.4L2151.1 1803.8L2152.0 1808.3L2152.9 1804.8L2153.8 1807.6L2154.7 1803.6L2155.7 1806.5L2156.6 1803.4L2157.5 1804.7L2158.4 1805.1L2159.3 1801.9L2160.3 1805.1L2161.2 1801.6L2162.1 1804.7L2163.0 1800.8L2163.9 1803.2L2164.9 1801.4L2165.8 1803.8L2166.7 1800.1L2167.6 1801.6L2168.5 1799.5L2169.5 1801.3L2170.4 1797.9L2171.3 1799.6L2172.2 1801.5L2173.1 1800.6L2173.9 1804.4L2174.8 1802.4L2175.7 1806.1L2176.6 1804.6L2177.5 1809.0L2178.3 1807.2L2179.2 1810.7L2180.1 1810.9L2181.0 1808.9L2181.9 1812.3L2182.8 1809.0L2183.7 1811.3L2184.6 1809.5L2185.5 1812.6L2186.4 1809.0L2187.3 1811.9L2188.2 1807.9L2189.1 1811.3L2190.0 1809.5L2190.9 1811.5L2191.8 1809.6L2192.7 1811.3L2193.6 1808.1L2194.5 1810.6L2195.4 1809.3L2196.3 1811.8L2197.2 1807.6L2198.1 1810.8L2199.0 1808.9L2199.9 1810.6L2200.8 1808.0L2201.7 1811.5L2202.6 1808.7L2203.5 1811.1L2204.4 1807.3L2205.3 1809.6L2206.2 1807.1L2207.1 1811.1L2208.0 1807.7L2208.9 1810.2L2209.8 1808.2L2210.7 1810.0L2211.6 1807.7L2212.5 1809.4L2213.4 1807.7L2214.3 1809.2L2215.2 1808.4L2216.1 1806.8L2217.0 1808.6L2217.9 1805.1L2218.8 1808.0L2219.7 1802.9L2220.6 1806.0L2221.4 1802.6L2222.3 1803.8L2223.2 1800.7L2224.1 1802.9L2225.0 1799.1L2225.9 1802.2L2226.8 1796.7L2227.7 1798.4L2228.6 1801.0L2229.6 1799.0L2230.5 1804.0L2231.4 1803.7L2232.4 1808.6L2233.3 1806.2L2234.3 1810.9L2235.2 1810.9L2236.1 1809.2L2237.0 1811.6L2237.9 1809.3L2238.8 1813.0L2239.7 1810.2L2240.6 1812.4L2241.5 1809.5L2242.4 1812.4L2243.3 1808.2L2244.2 1812.5L2245.1 1808.9L2246.0 1812.8L2246.9 1808.6L2247.8 1812.6L2248.7 1809.4L2249.6 1811.3L2250.5 1809.4L2251.4 1811.3L2252.3 1809.5L2253.2 1811.6L2254.1 1808.7L2255.0 1811.8L2255.9 1808.7L2256.8 1811.2L2257.7 1809.2L2258.6 1812.0L2259.5 1808.5L2260.4 1811.8L2261.3 1807.6L2262.2 1811.9L2263.1 1808.8L2264.0 1812.0L2264.9 1808.8L2265.8 1811.2L2266.7 1807.4L2267.6 1811.9L2268.5 1807.5L2269.4 1811.2L2270.3 1808.6L2271.2 1809.8L2272.1 1807.3L2273.0 1809.7L2273.9 1806.8L2274.8 1809.9L2275.8 1807.8L2276.7 1810.6L2277.6 1808.1L2278.5 1809.5L2279.4 1807.3L2280.3 1811.0L2281.2 1806.6L2282.1 1810.9L2283.0 1807.7L2283.9 1809.3L2284.8 1807.1L2285.7 1811.0L2286.6 1806.2L2287.5 1810.4L2288.4 1807.2L2289.3 1809.7L2290.2 1807.4L2291.1 1810.1L2292.0 1806.4L2292.9 1809.1L2293.8 1807.4L2294.7 1808.9L2295.6 1806.1L2296.5 1808.9L2297.4 1805.9L2298.3 1809.9L2299.2 1806.8L2300.1 1809.9L2301.0 1805.7L2301.9 1808.6L2302.8 1806.9L2303.7 1810.0L2304.6 1806.6L2305.5 1808.6L2306.4 1806.2L2307.3 1808.8L2308.2 1805.9L2309.1 1809.5L2310.0 1805.4L2310.9 1809.5L2311.8 1805.9L2312.7 1809.5L2313.6 1805.1L2314.5 1809.0L2315.4 1807.2L2316.3 1806.3L2317.2 1808.3L2318.1 1806.2L2319.0 1808.7L2319.9 1804.5L2320.8 1808.0L2321.7 1805.4L2322.6 1808.9L2323.5 1805.4L2324.4 1807.4L2325.3 1805.5L2326.2 1808.9L2327.1 1804.9L2328.0 1808.6L2328.9 1805.3L2329.8 1807.5L2330.7 1804.5L2331.6 1807.1L2332.5 1804.3L2333.4 1807.7L2334.3 1805.0L2335.2 1808.2L2336.1 1804.5L2337.0 1807.4L2337.9 1803.6L2338.8 1806.5L2339.7 1803.6L2340.6 1806.1L2341.5 1803.7L2342.4 1807.0L2343.3 1804.3L2344.2 1806.6L2345.1 1802.7L2346.0 1805.7L2346.9 1803.1L2347.8 1806.1L2348.7 1802.8L2349.6 1805.8L2350.5 1804.7L2351.4 1803.9L2352.3 1807.0L2353.2 1804.1L2354.1 1805.9L2355.0 1804.4L2355.8 1806.4L2356.7 1804.0L2357.6 1808.0L2358.5 1803.4L2359.4 1806.4L2360.3 1804.8L2361.2 1807.6L2362.1 1805.3L2363.0 1806.9L2363.9 1805.7L2364.8 1808.8L2365.6 1805.9L2366.5 1808.9L2367.4 1806.2L2368.3 1807.5L2369.2 1806.5L2370.1 1809.3L2371.0 1805.1L2371.9 1808.9L2372.8 1806.9L2373.7 1808.6L2374.6 1806.4L2375.5 1809.6L2376.3 1806.7L2377.2 1810.5L2378.1 1807.4L2379.0 1809.6L2379.9 1806.3L2380.8 1809.1L2381.7 1807.8L2382.6 1811.0L2383.5 1806.5L2384.4 1810.6L2385.3 1808.5L2386.1 1810.8L2387.0 1807.3L2387.9 1811.6L2388.8 1807.2L2389.7 1811.0L2390.6 1809.7L2391.5 1808.0L2392.4 1810.8L2393.3 1807.5L2394.2 1811.2L2395.1 1808.2L2396.0 1811.2L2396.9 1808.7L2397.8 1811.8L2398.7 1808.6L2399.6 1811.8L2400.5 1807.2L2401.4 1810.9L2402.3 1809.1L2403.2 1810.9L2404.1 1807.2L2405.0 1811.0L2405.9 1808.4L2406.8 1811.3L2407.7 1809.0L2408.6 1811.1L2409.5 1808.5L2410.4 1810.6L2411.3 1808.3L2412.2 1810.9L2413.1 1809.2L2414.0 1810.4L2414.9 1808.9L2415.8 1810.7L2416.7 1808.0L2417.6 1812.2L2418.5 1807.8L2419.4 1812.1L2420.3 1808.3L2421.2 1812.1L2422.1 1807.6L2423.0 1810.8L2423.9 1809.1L2424.8 1811.1L2425.7 1807.3L2426.6 1811.4L2427.5 1808.6L2428.4 1811.9L2429.2 1809.2L2430.1 1810.5L2431.0 1807.4L2431.9 1810.2L2432.8 1808.8L2433.7 1810.3L2434.6 1808.0L2435.5 1811.9L2436.4 1807.5L2437.3 1812.2L2438.2 1808.4L2439.1 1811.1L2440.0 1807.4L2440.9 1810.9L2441.8 1809.0L2442.7 1811.8L2443.6 1807.5L2444.5 1812.1L2445.4 1808.9L2446.3 1811.0L2447.2 1808.9L2448.1 1811.2L2449.0 1807.6L2449.9 1811.5L2450.8 1808.2L2451.7 1811.4L2452.6 1807.2L2453.5 1811.6L2454.4 1808.6L2455.3 1812.1L2456.2 1808.3L2457.1 1810.6L2458.0 1807.4L2458.9 1811.5L2459.8 1809.2L2460.7 1812.2L2461.6 1807.5L2462.5 1811.7L2463.4 1808.7L2464.3 1811.7L2465.2 1807.6L2466.1 1810.2L2467.0 1809.7"/><path stroke="#f00" d="M1709.4 1757.3L1710.3 1796.6L1711.2 1753.2L1712.1 1794.4L1713.0 1746.8L1713.9 1795.9L1714.8 1738.9L1715.7 1795.9L1716.6 1733.9L1717.5 1796.3L1718.4 1727.9L1719.3 1796.2L1720.2 1718.7L1721.1 1795.9L1722.0 1712.8L1722.9 1795.6L1723.8 1713.6L1724.7 1795.0L1725.6 1721.0L1726.5 1792.3L1727.4 1727.4L1728.3 1784.3L1729.2 1732.3L1730.1 1783.1L1731.0 1740.8L1731.9 1784.5L1732.8 1748.5L1733.7 1785.9L1734.6 1753.2L1735.5 1786.4L1736.4 1761.4L1737.3 1786.0L1738.2 1766.4L1739.1 1788.8L1740.0 1773.4"/><path stroke="#00f" d="M1434.0 1579.2L1434.9 1577.0L1435.8 1581.6L1436.7 1577.9L1437.6 1580.6L1438.5 1577.6L1439.5 1581.0L1440.4 1578.3L1441.3 1581.5L1442.2 1577.8L1443.1 1581.0L1444.0 1579.2L1444.9 1575.6L1445.8 1578.8L1446.7 1573.1L1447.6 1575.3L1448.5 1571.6L1449.5 1573.8L1450.4 1568.8L1451.3 1570.7L1452.2 1565.5L1453.1 1568.9L1454.0 1565.4L1455.0 1560.5L1455.9 1562.5L1456.8 1556.3L1457.8 1556.3L1458.8 1552.1L1459.7 1551.3L1460.6 1545.6L1461.6 1545.3L1462.5 1545.5L1463.5 1540.7L1464.5 1541.2L1465.4 1536.6L1466.3 1536.6L1467.3 1532.8L1468.2 1533.8L1469.2 1529.8L1470.3 1528.5L1471.4 1529.8L1472.3 1533.1L1473.2 1533.2L1474.1 1537.5L1475.1 1537.9L1476.0 1542.5L1476.9 1541.3L1477.8 1545.3L1478.7 1549.9L1479.6 1548.3L1480.4 1554.4L1481.3 1553.1L1482.2 1558.6L1483.1 1558.1L1484.0 1563.9L1484.8 1564.6L1485.7 1568.6L1486.6 1570.4L1487.5 1570.1L1488.4 1573.6L1489.3 1570.5L1490.2 1574.3L1491.1 1573.5L1492.0 1576.9L1492.8 1575.5L1493.7 1577.6L1494.6 1577.1L1495.5 1579.8L1496.4 1577.3L1497.3 1581.6L1498.2 1578.5L1499.1 1581.7L1500.0 1583.7L1500.9 1579.7L1501.8 1583.5L1502.7 1579.7L1503.5 1583.8L1504.4 1581.6L1505.3 1584.3L1506.2 1580.5L1507.1 1584.2L1508.0 1580.4L1508.9 1583.1L1509.8 1581.2L1510.6 1583.3L1511.5 1581.5L1512.4 1584.9L1513.3 1582.0L1514.2 1582.9L1515.1 1584.9L1516.0 1580.7L1516.9 1583.2L1517.8 1579.7L1518.7 1583.0L1519.7 1580.6L1520.6 1583.2L1521.5 1579.1L1522.4 1581.9L1523.3 1577.7L1524.2 1581.8L1525.1 1578.4L1526.0 1581.4L1526.9 1578.2L1527.8 1579.4L1528.7 1577.8L1529.7 1579.7L1530.6 1576.7L1531.5 1578.0L1532.4 1575.5L1533.3 1577.8L1534.2 1576.6L1535.1 1575.2L1536.0 1576.3L1536.9 1573.7L1537.8 1575.0L1538.7 1572.8L1539.7 1575.7L1540.6 1570.2L1541.5 1573.4L1542.4 1570.2L1543.3 1571.5L1544.2 1570.4L1545.0 1568.5L1545.9 1570.4L1546.8 1566.7L1547.6 1567.7L1548.5 1564.3L1549.3 1564.1L1550.2 1567.1L1551.2 1564.7L1552.1 1568.9L1553.0 1566.3L1554.0 1571.3L1554.9 1569.2L1555.9 1572.6L1556.8 1572.9L1557.7 1570.6L1558.6 1573.1L1559.5 1568.7L1560.4 1572.1L1561.3 1568.7L1562.3 1571.0L1563.2 1567.5L1564.1 1569.8L1565.0 1564.4L1565.9 1567.2L1566.8 1565.4L1567.7 1562.5L1568.6 1562.8L1569.5 1558.4L1570.4 1558.2L1571.3 1555.4L1574.0 1526.1L1575.1 1525.4L1576.2 1526.1L1579.3 1540.3L1581.8 1570.4L1582.8 1569.1L1583.7 1561.6L1584.6 1559.8L1585.6 1555.4L1588.2 1537.4L1589.3 1536.7L1590.4 1537.4L1593.1 1560.4L1594.0 1561.0L1594.9 1559.5L1595.8 1562.3L1596.7 1559.0L1597.6 1562.8L1598.5 1558.5L1599.4 1560.4L1600.2 1561.6L1601.1 1555.7L1601.9 1558.2L1602.7 1554.3L1603.6 1556.2L1604.4 1552.8L1605.2 1552.3L1606.1 1557.3L1606.9 1555.8L1607.7 1560.6L1608.6 1560.1L1609.4 1562.9L1610.2 1562.2L1611.1 1557.6L1611.9 1558.5L1612.7 1552.6L1613.6 1554.0L1614.4 1550.3L1617.4 1482.7L1619.6 1450.9L1620.7 1449.3L1621.8 1450.9L1623.9 1500.2L1626.9 1557.9L1627.9 1559.9L1628.8 1557.0L1629.8 1561.2L1630.7 1559.1L1631.7 1563.4L1632.6 1560.5L1633.5 1562.9L1634.5 1562.9L1635.4 1562.8L1636.3 1565.3L1637.2 1562.3L1638.1 1565.6L1639.0 1564.4L1640.0 1568.1L1640.9 1564.6L1641.8 1567.5L1642.7 1565.1L1643.6 1569.1L1644.5 1567.9L1648.4 1537.4L1649.5 1536.5L1650.6 1537.4L1653.2 1560.4L1654.2 1560.0L1655.1 1554.1L1656.1 1556.2L1657.1 1550.1L1658.0 1552.4L1659.0 1547.8L1663.3 1570.4L1664.2 1568.5L1665.0 1572.5L1665.9 1570.0L1666.8 1573.5L1667.7 1571.2L1668.5 1575.8L1669.4 1571.5L1670.3 1575.3L1671.1 1573.5L1672.0 1575.4L1672.9 1577.5L1673.8 1573.3L1674.7 1575.3L1675.6 1572.4L1676.5 1574.7L1677.4 1572.7L1678.3 1573.9L1679.2 1571.0L1680.1 1574.4L1681.0 1570.7L1681.9 1572.4L1682.8 1569.4L1683.7 1573.1L1684.6 1570.4L1685.4 1566.4L1686.3 1566.3L1687.1 1561.5L1688.0 1560.7L1688.8 1556.3L1689.7 1557.0L1690.5 1552.4L1691.6 1550.4L1692.7 1552.4L1697.1 1570.4L1698.0 1571.5L1698.9 1570.2L1699.8 1572.8L1700.7 1569.0L1701.6 1573.2L1702.6 1570.1L1703.5 1573.8L1704.4 1570.7L1705.3 1574.1L1706.2 1571.9L1707.1 1572.9L1708.0 1573.3L1709.0 1568.8L1709.9 1569.0L1710.8 1565.0L1711.8 1566.5L1712.7 1562.6L1713.7 1564.4L1714.6 1560.4L1715.4 1555.8L1716.3 1557.7L1717.1 1552.1L1717.9 1551.9L1718.8 1545.6L1719.6 1545.3L1720.4 1546.6L1721.3 1543.8L1722.2 1548.0L1723.0 1545.3L1723.8 1549.5L1724.7 1547.8L1727.3 1481.0L1728.4 1479.8L1729.5 1481.0L1732.2 1535.3L1733.1 1537.2L1734.1 1537.2L1735.0 1540.1L1735.9 1540.3L1739.7 1575.4L1740.7 1570.7L1741.7 1569.0L1742.6 1562.8L1743.6 1561.2L1744.7 1561.9L1745.8 1561.2L1749.7 1577.9L1750.6 1575.6L1751.5 1576.7L1752.3 1572.0L1753.2 1574.7L1754.1 1570.1L1755.0 1570.2L1755.9 1565.8L1756.7 1569.2L1757.6 1563.7L1758.5 1564.1L1759.4 1568.7L1760.3 1566.7L1761.2 1571.6L1762.0 1572.8L1762.9 1577.5L1763.8 1576.4L1764.7 1580.4L1765.6 1581.4L1766.5 1578.4L1767.4 1580.6L1768.3 1577.7L1769.2 1578.8L1770.1 1575.6L1771.0 1579.0L1771.9 1574.4L1772.8 1577.0L1773.7 1573.9L1774.6 1576.8L1775.5 1571.7L1776.4 1575.0L1777.3 1572.9L1781.2 1539.9L1782.3 1539.2L1783.4 1539.9L1786.0 1570.4L1786.9 1572.3L1787.8 1572.3L1788.7 1576.6L1789.6 1575.0L1790.4 1578.5L1791.3 1577.8L1792.2 1580.6L1793.1 1581.0L1794.0 1582.9L1794.9 1584.3L1795.8 1582.7L1796.6 1584.4L1797.5 1584.2L1798.4 1580.2L1799.4 1583.1L1800.3 1577.7L1801.2 1578.6L1802.2 1575.4L1803.1 1575.4L1804.1 1570.9L1805.0 1571.6L1806.0 1573.7L1806.9 1570.8L1807.8 1576.4L1808.8 1572.8L1809.8 1577.3L1810.7 1574.4L1811.6 1578.2L1812.6 1577.9L1813.5 1576.4L1814.5 1582.0L1815.4 1580.0L1816.3 1582.6L1817.3 1580.4L1818.2 1585.8L1819.2 1583.0L1820.1 1585.4L1821.0 1587.6L1821.9 1584.6L1822.7 1587.2L1823.6 1584.3L1824.5 1585.6L1825.4 1584.2L1826.3 1585.6L1827.2 1583.1L1828.0 1586.7L1828.9 1582.2L1829.8 1586.7L1830.7 1583.2L1831.6 1585.1L1832.5 1582.5L1833.3 1586.1L1834.2 1583.0L1835.1 1584.2L1836.0 1584.0L1836.8 1577.8L1837.7 1580.2L1838.5 1574.3L1839.4 1576.6L1840.2 1571.0L1841.1 1572.3L1841.9 1567.0L1842.8 1566.2L1843.9 1568.6L1845.0 1566.2L1848.9 1585.4L1849.8 1583.2L1850.7 1587.7L1851.7 1583.2L1852.6 1586.9L1853.5 1584.5L1854.4 1586.9L1855.3 1582.8L1856.3 1586.6L1857.2 1583.4L1858.1 1585.3L1859.0 1583.1L1859.9 1586.7L1860.9 1583.2L1861.8 1586.4L1862.7 1584.2L1863.6 1581.2L1864.6 1583.2L1865.5 1579.4L1866.5 1582.3L1867.4 1577.8L1868.3 1578.9L1869.3 1575.4L1870.2 1575.4L1871.1 1576.0L1872.0 1572.9L1872.9 1574.4L1873.8 1571.1L1874.6 1573.7L1875.5 1568.3L1876.4 1570.6L1877.3 1567.0L1878.2 1567.9L1879.2 1571.5L1880.1 1569.7L1881.1 1575.8L1882.1 1575.5L1883.0 1579.6L1884.0 1580.4L1884.9 1578.1L1885.8 1581.5L1886.7 1580.1L1887.7 1583.0L1888.6 1579.4L1889.5 1583.5L1890.4 1579.2L1891.3 1583.9L1892.2 1581.3L1893.1 1582.6L1894.0 1581.6L1895.0 1584.5L1895.9 1580.3L1896.8 1583.9L1897.7 1582.9L1898.6 1582.5L1899.5 1584.7L1900.3 1582.0L1901.2 1586.0L1902.1 1583.4L1903.0 1585.8L1903.9 1583.0L1904.7 1586.2L1905.6 1584.1L1906.5 1587.8L1907.4 1584.5L1908.3 1587.4L1909.1 1584.1L1910.0 1588.6L1910.9 1585.6L1911.8 1588.9L1912.7 1586.6L1913.5 1589.4L1914.4 1585.2L1915.3 1587.9L1916.2 1589.9L1917.1 1585.2L1918.0 1589.1L1918.9 1585.8L1919.8 1588.9L1920.7 1584.7L1921.5 1588.1L1922.4 1585.2L1923.3 1588.2L1924.2 1584.5L1925.1 1587.0L1926.0 1584.7L1926.9 1588.5L1927.8 1585.5L1928.7 1587.5L1929.6 1584.6L1930.5 1586.9L1931.4 1583.8L1932.3 1587.4L1933.2 1583.5L1934.0 1586.0L1934.9 1583.3L1935.8 1586.8L1936.7 1583.9L1937.6 1585.5L1938.5 1583.1L1939.4 1584.9L1940.3 1584.2L1941.2 1583.4L1942.1 1586.1L1943.0 1582.2L1943.9 1586.1L1944.8 1582.5L1945.7 1585.3L1946.6 1582.8L1947.5 1585.6L1948.4 1582.1L1949.3 1585.2L1950.2 1582.6L1951.1 1584.8L1952.0 1583.6L1952.8 1585.8L1953.7 1583.5L1954.6 1586.4L1955.5 1583.4L1956.4 1584.7L1957.3 1582.6L1958.2 1584.9L1959.1 1583.6L1960.0 1586.1L1960.9 1582.3L1961.8 1586.7L1962.7 1583.7L1963.6 1585.5L1964.5 1582.2L1965.4 1584.2L1966.3 1585.2L1967.2 1583.9L1968.1 1585.3L1969.0 1582.7L1969.9 1586.1L1970.8 1583.8L1971.7 1587.7L1972.6 1583.7L1973.5 1586.8L1974.4 1583.9L1975.3 1587.1L1976.2 1585.7L1977.1 1588.0L1978.0 1585.5L1978.8 1588.0L1979.7 1586.0L1980.6 1588.9L1981.5 1585.9L1982.4 1589.8L1983.3 1587.2L1984.2 1589.5L1985.1 1587.6L1986.0 1589.1L1986.9 1586.4L1987.8 1590.8L1988.7 1588.3L1989.6 1590.0L1990.5 1589.2L1991.4 1587.5L1992.3 1591.5L1993.2 1588.1L1994.1 1589.9L1995.0 1587.6L1995.9 1590.8L1996.8 1586.9L1997.7 1590.7L1998.6 1586.7L1999.5 1589.2L2000.4 1586.2L2001.3 1590.8L2002.2 1586.8L2003.1 1589.4L2004.0 1587.1L2004.9 1590.6L2005.8 1586.2L2006.8 1588.5L2007.7 1586.6L2008.6 1589.7L2009.5 1587.0L2010.4 1589.4L2011.3 1585.3L2012.2 1588.2L2013.1 1586.4L2014.0 1588.7L2014.9 1585.6L2015.8 1589.5L2016.7 1586.2L2017.6 1589.2L2018.5 1586.1L2019.4 1589.4L2020.3 1584.7L2021.2 1587.9L2022.1 1584.3L2023.0 1586.7L2023.9 1588.7L2024.8 1585.3L2025.6 1589.6L2026.5 1585.8L2027.4 1589.3L2028.3 1587.2L2029.2 1589.1L2030.0 1586.6L2030.9 1590.8L2031.8 1587.6L2032.7 1590.0L2033.6 1588.1L2034.4 1590.5L2035.3 1587.3L2036.2 1590.7L2037.1 1588.4L2038.0 1591.6L2038.8 1588.8L2039.7 1591.4L2040.6 1590.4L2041.5 1589.9L2042.4 1591.4L2043.3 1589.0L2044.2 1591.3L2045.1 1589.8L2046.0 1591.5L2046.9 1589.7L2047.8 1592.2L2048.7 1589.4L2049.5 1592.0L2050.4 1588.9L2051.3 1593.1L2052.2 1588.2L2053.1 1592.4L2054.0 1590.2L2054.9 1592.2L2055.8 1589.5L2056.7 1592.1L2057.6 1589.3L2058.5 1591.4L2059.4 1589.4L2060.3 1592.4L2061.2 1588.8L2062.1 1592.8L2063.0 1590.2L2063.9 1592.5L2064.8 1590.3L2065.6 1592.3L2066.5 1590.1L2067.4 1593.2L2068.3 1589.7L2069.2 1592.5L2070.1 1590.3L2071.0 1591.9L2071.9 1589.1L2072.8 1592.3L2073.7 1589.0L2074.6 1593.4L2075.5 1590.1L2076.4 1592.1L2077.3 1589.6L2078.2 1592.4L2079.1 1590.5L2080.0 1593.0L2080.9 1589.3L2081.8 1592.0L2082.6 1589.9L2083.5 1593.7L2084.4 1589.4L2085.3 1593.8L2086.2 1589.8L2087.1 1593.0L2088.0 1590.2L2088.9 1593.2L2089.8 1591.0L2090.7 1591.7L2091.6 1593.1L2092.5 1589.8L2093.4 1593.5L2094.3 1591.0L2095.2 1594.2L2096.1 1591.2L2097.0 1593.0L2097.9 1590.3L2098.8 1592.9L2099.7 1589.7L2100.6 1593.5L2101.5 1590.2L2102.4 1594.2L2103.3 1590.8L2104.2 1593.1L2105.1 1590.7L2106.0 1593.7L2106.9 1590.7L2107.8 1593.9L2108.7 1590.2L2109.6 1593.4L2110.5 1589.9L2111.4 1594.0L2112.3 1590.8L2113.2 1593.7L2114.1 1591.4L2115.0 1593.7L2115.9 1590.7L2116.8 1593.1L2117.7 1591.5L2118.6 1594.4L2119.5 1589.7L2120.3 1594.5L2121.2 1590.2L2122.1 1593.8L2123.0 1591.3L2123.9 1593.6L2124.8 1590.1L2125.7 1594.5L2126.6 1590.8L2127.5 1592.8L2128.4 1591.4L2129.3 1592.8L2130.2 1590.6L2131.1 1592.9L2132.0 1589.9L2132.9 1594.3L2133.8 1590.4L2134.7 1593.4L2135.6 1591.4L2136.5 1593.0L2137.4 1590.4L2138.3 1594.5L2139.2 1590.7L2140.1 1593.7L2141.0 1590.0L2141.9 1593.7L2142.8 1589.9L2143.7 1593.2L2144.6 1591.8L2145.5 1594.2L2146.4 1591.0L2147.3 1593.9L2148.2 1590.3L2149.1 1593.9L2150.0 1592.4L2150.9 1591.1L2151.8 1593.7L2152.7 1590.6L2153.6 1593.1L2154.5 1591.5L2155.4 1593.8L2156.3 1589.9L2157.2 1594.8L2158.1 1591.5L2159.0 1593.8L2159.9 1591.4L2160.8 1594.9L2161.7 1591.7L2162.6 1593.7L2163.5 1591.7L2164.4 1594.2L2165.3 1591.6L2166.2 1593.1L2167.1 1590.8L2168.0 1593.9L2168.9 1591.7L2169.8 1594.8L2170.7 1591.9L2171.6 1594.2L2172.5 1590.8L2173.4 1594.6L2174.3 1591.8L2175.2 1594.1L2176.1 1591.8L2177.0 1594.3L2177.9 1591.2L2178.8 1593.2L2179.7 1590.0L2180.6 1593.1L2181.5 1591.2L2182.4 1593.5L2183.3 1591.2L2184.2 1594.5L2185.1 1591.9L2186.0 1593.0L2186.9 1591.9L2187.8 1593.5L2188.7 1590.4L2189.6 1594.3L2190.5 1591.3L2191.3 1593.1L2192.2 1591.9L2193.1 1594.5L2194.0 1590.9L2194.9 1593.3L2195.8 1590.8L2196.7 1594.7L2197.6 1590.2L2198.5 1594.6L2199.4 1591.3L2200.3 1593.2L2201.2 1590.4L2202.1 1594.3L2203.0 1590.3L2203.9 1594.2L2204.8 1591.6L2205.7 1593.8L2206.6 1590.7L2207.5 1594.1L2208.4 1590.8L2209.3 1594.9L2210.2 1591.8L2211.1 1593.2L2212.0 1591.1L2212.9 1594.4L2213.8 1590.4L2214.7 1594.5L2215.6 1590.2L2216.5 1594.4L2217.4 1590.4L2218.3 1594.7L2219.2 1591.7L2220.1 1593.8L2221.0 1592.0L2221.9 1593.2L2222.8 1590.6L2223.7 1594.7L2224.6 1591.2L2225.5 1594.0L2226.4 1591.2L2227.3 1593.8L2228.2 1591.3L2229.1 1593.8L2230.0 1590.3L2230.9 1594.6L2231.8 1591.8L2232.7 1594.6L2233.6 1591.3L2234.5 1594.5L2235.4 1591.4L2236.3 1593.5L2237.2 1590.8L2238.1 1594.8L2239.0 1591.0L2239.9 1594.1L2240.8 1590.5L2241.7 1594.3L2242.6 1591.3L2243.5 1594.9L2244.4 1591.7L2245.3 1594.1L2246.2 1591.6L2247.1 1593.8L2248.0 1591.1L2248.9 1594.2L2249.8 1591.1L2250.7 1593.6L2251.6 1590.6L2252.5 1594.7L2253.4 1590.5L2254.3 1594.4L2255.2 1590.5L2256.1 1593.9L2257.0 1590.7L2257.9 1595.1L2258.8 1591.9L2259.7 1594.7L2260.6 1591.0L2261.5 1593.9L2262.4 1591.6L2263.3 1594.8L2264.2 1591.6L2265.1 1595.1L2266.0 1590.8L2266.9 1593.7L2267.8 1590.6L2268.7 1593.8L2269.6 1591.0L2270.5 1593.5L2271.4 1591.8L2272.3 1595.3L2273.2 1591.4L2274.1 1594.7L2274.9 1590.4L2275.8 1593.4L2276.7 1590.7L2277.6 1595.1L2278.5 1591.0L2279.4 1594.2L2280.3 1591.7L2281.2 1593.9L2282.1 1591.8L2283.0 1593.7L2283.9 1590.3L2284.8 1595.2L2285.7 1590.6L2286.6 1594.3L2287.5 1591.5L2288.4 1594.3L2289.3 1591.8L2290.2 1593.8L2291.1 1592.1L2292.0 1594.7L2292.9 1591.9L2293.8 1594.3L2294.7 1592.3L2295.6 1595.0L2296.5 1590.4L2297.4 1593.6L2298.3 1591.2L2299.2 1594.3L2300.1 1591.2L2301.0 1594.7L2301.9 1592.3L2302.8 1593.5L2303.7 1590.6L2304.6 1594.0L2305.5 1590.7L2306.4 1594.3L2307.3 1591.3L2308.2 1593.6L2309.1 1590.7L2310.0 1594.4L2310.9 1590.8L2311.8 1594.1L2312.7 1592.0L2313.6 1595.3L2314.5 1591.0L2315.4 1592.9L2316.3 1595.3L2317.2 1591.6L2318.1 1594.0L2319.0 1591.5L2319.9 1594.8L2320.8 1591.2L2321.7 1594.5L2322.6 1591.3L2323.5 1593.8L2324.4 1591.3L2325.3 1594.4L2326.2 1592.4L2327.1 1594.6L2328.0 1592.1L2328.9 1595.0L2329.8 1591.7L2330.7 1593.7L2331.6 1591.5L2332.5 1594.2L2333.4 1590.7L2334.3 1595.5L2335.3 1590.9L2336.2 1593.8L2337.1 1592.5L2338.0 1594.7L2338.9 1591.6L2339.8 1594.3L2340.7 1591.6L2341.6 1594.4L2342.5 1591.0L2343.4 1593.8L2344.3 1591.8L2345.2 1594.2L2346.1 1591.5L2347.0 1594.0L2347.9 1591.2L2348.8 1594.2L2349.7 1590.9L2350.6 1594.4L2351.5 1591.9L2352.4 1595.6L2353.3 1592.7L2354.2 1595.6L2355.1 1592.0L2356.0 1594.8L2356.9 1592.3L2357.8 1594.2L2358.7 1592.2L2359.6 1594.9L2360.5 1592.4L2361.4 1594.8L2362.3 1591.6L2363.2 1595.4L2364.1 1591.4L2365.0 1595.4L2365.9 1592.5L2366.8 1596.0L2367.7 1592.0L2368.6 1595.1L2369.5 1591.8L2370.4 1594.9L2371.3 1591.2L2372.2 1595.0L2373.2 1592.6L2374.1 1595.0L2375.0 1591.5L2375.9 1594.5L2376.8 1592.4L2377.7 1595.1L2378.6 1591.7L2379.5 1594.5L2380.4 1593.1L2381.3 1595.1L2382.2 1591.5L2383.1 1594.8L2384.0 1591.7L2384.9 1596.1L2385.8 1592.7L2386.7 1596.3L2387.6 1593.2L2388.5 1594.6L2389.4 1591.4L2390.3 1594.5L2391.2 1591.6L2392.1 1596.2L2393.0 1591.6L2393.9 1595.2L2394.8 1593.1L2395.7 1595.5L2396.6 1593.4L2397.5 1596.2L2398.4 1592.6L2399.3 1595.6L2400.2 1592.0L2401.1 1595.2L2402.0 1592.7L2402.9 1595.2L2403.8 1593.4L2404.7 1596.1L2405.6 1591.6L2406.5 1595.9L2407.4 1591.6L2408.3 1595.4L2409.2 1593.6L2410.2 1595.2L2411.1 1592.8L2412.0 1595.5L2412.9 1591.9L2413.8 1596.6L2414.7 1592.0L2415.6 1596.4L2416.5 1591.8L2417.4 1596.5L2418.3 1592.7L2419.2 1594.8L2420.1 1593.4L2421.0 1595.5L2421.9 1592.1L2422.8 1595.1L2423.7 1592.6L2424.6 1595.1L2425.5 1592.6L2426.4 1595.4L2427.3 1593.0L2428.2 1596.1L2429.1 1592.4L2430.0 1595.1L2430.9 1592.0L2431.8 1594.9L2432.7 1593.8L2433.6 1596.3L2434.5 1593.3L2435.4 1596.5L2436.3 1593.0L2437.2 1595.9L2438.1 1592.1L2439.0 1595.3L2439.9 1593.4L2440.8 1595.7L2441.7 1593.1L2442.6 1596.4L2443.5 1593.7L2444.4 1596.0L2445.3 1592.6L2446.2 1595.8L2447.1 1593.5L2448.1 1596.9L2449.0 1592.9L2449.9 1595.6L2450.8 1593.9L2451.7 1595.7L2452.6 1592.2L2453.5 1596.5L2454.4 1593.8L2455.3 1595.8L2456.2 1594.0L2457.1 1596.0L2458.0 1593.8L2458.9 1595.7L2459.8 1593.3L2460.7 1595.9L2461.6 1592.4L2462.5 1596.4L2463.4 1592.8L2464.3 1596.8L2465.2 1593.8L2466.1 1595.7L2467.0 1594.9"/></g><rect x="1489.5" y="1823.2" width="8.3" height="7.0" fill="#000"/><rect x="1611.3" y="1818.2" width="8.3" height="12.0" fill="#000"/><rect x="1733.0" y="1823.2" width="8.3" height="7.0" fill="#000"/><rect x="1854.8" y="1818.2" width="8.3" height="12.0" fill="#000"/><rect x="1976.6" y="1823.2" width="8.3" height="7.0" fill="#000"/><rect x="2098.4" y="1818.2" width="8.3" height="12.0" fill="#000"/><rect x="2220.2" y="1823.2" width="8.3" height="7.0" fill="#000"/><rect x="2342.0" y="1818.2" width="8.3" height="12.0" fill="#000"/><text x="1615.4" y="1887.5" text-anchor="middle" font-size="51" font-weight="bold">20</text><text x="1859.0" y="1887.5" text-anchor="middle" font-size="51" font-weight="bold">40</text><text x="2102.5" y="1887.5" text-anchor="middle" font-size="51" font-weight="bold">60</text><text x="2346.1" y="1887.5" text-anchor="middle" font-size="51" font-weight="bold">80</text><text x="1305.1" y="1130.4" font-size="125" font-weight="bold">D</text><text transform="translate(1372.8 1489.6) rotate(-90)" text-anchor="middle" font-size="65.5" font-weight="bold">Intensity (a.u.)</text><text x="1950.0" y="1983.2" text-anchor="middle" font-size="63.5" font-weight="bold" textLength="462.0" lengthAdjust="spacingAndGlyphs">2<tspan font-size="39" dx="2" dy="-3.2">&#8211;</tspan><tspan dx="3" dy="3.2">Theta (degree)</tspan></text><rect x="2162.3" y="1130.5" width="109.6" height="8.5" fill="#000"/><text x="2280.5" y="1149.0" font-size="43.2" textLength="67.9" lengthAdjust="spacingAndGlyphs">GO</text><rect x="2162.3" y="1189.5" width="109.6" height="8.5" fill="#f00"/><text x="2280.5" y="1208.5" font-size="43.2" textLength="75.7" lengthAdjust="spacingAndGlyphs">Met</text><rect x="2162.3" y="1245.5" width="109.6" height="8.5" fill="#00f"/><text x="2280.5" y="1263.8" font-size="43.2" textLength="159.2" lengthAdjust="spacingAndGlyphs">Met-GO</text></svg>
</body></html>
